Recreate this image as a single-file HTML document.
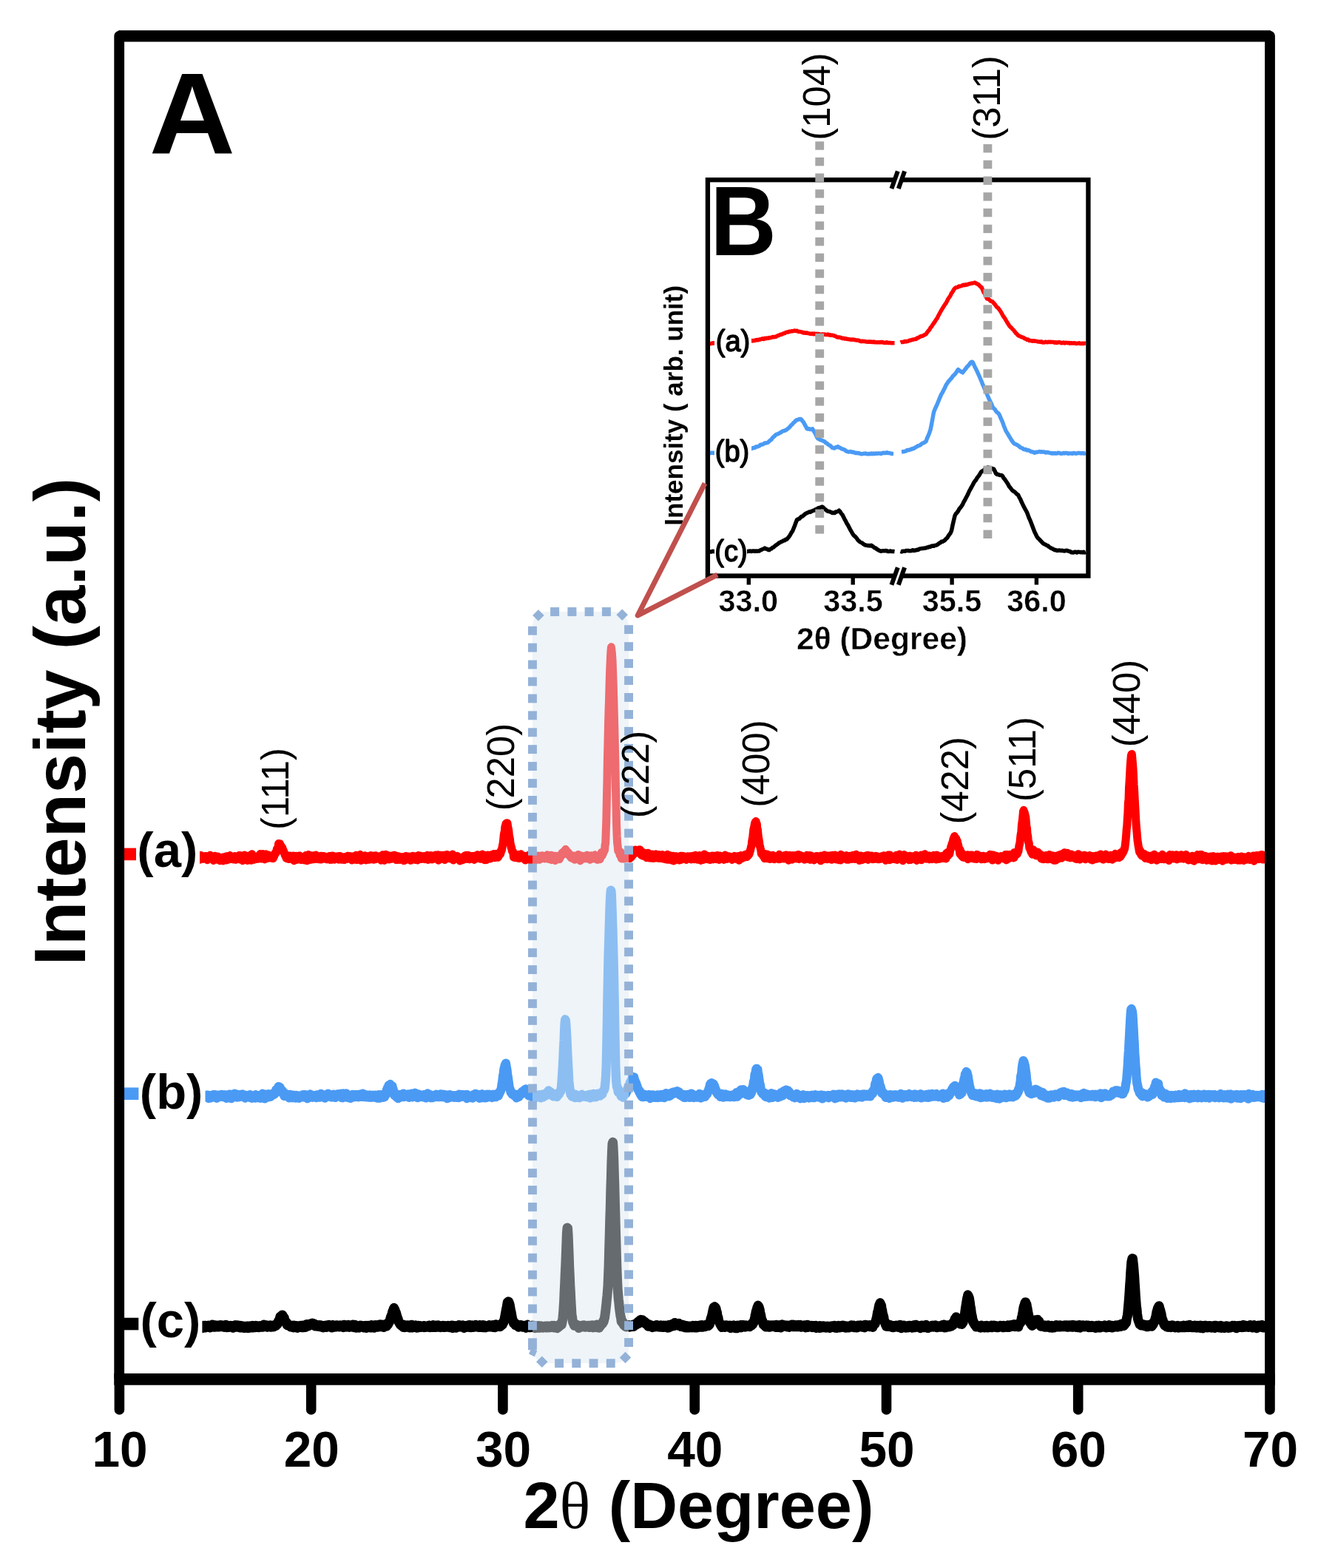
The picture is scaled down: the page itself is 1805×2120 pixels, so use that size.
<!DOCTYPE html>
<html lang="en">
<head>
<meta charset="utf-8">
<title>XRD patterns</title>
<style>
html,body{margin:0;padding:0;background:#fff;}
svg{display:block;}
text{fill:#000;}
</style>
</head>
<body>
<svg width="1805" height="2120" viewBox="0 0 1805 2120">
<rect width="1805" height="2120" fill="#fff"/>
<g id="curves">
<polyline transform="scale(1,1.12)" points="161.4,1035.02 162.0,1036.68 162.5,1036.53 163.1,1034.37 163.6,1034.65 164.2,1034.37 164.7,1035.75 165.3,1034.98 165.8,1036.00 166.4,1032.77 166.9,1037.05 167.5,1034.98 168.0,1035.96 168.6,1034.95 169.1,1034.66 169.7,1035.72 170.2,1036.19 170.8,1034.91 171.3,1034.99 171.9,1036.05 172.4,1034.11 173.0,1033.32 173.5,1035.72 174.1,1034.40 174.6,1032.85 175.2,1034.24 175.7,1034.68 176.3,1033.79 176.8,1033.43 177.4,1035.35 177.9,1036.44 178.5,1035.03 179.0,1034.41 179.6,1035.83 180.1,1036.26 180.7,1035.00 181.2,1036.06 181.8,1036.70 182.3,1035.15 182.9,1034.40 183.4,1035.86 184.0,1035.74 184.5,1036.80 185.1,1033.83 185.6,1034.61 186.2,1034.39 186.7,1033.27 187.3,1035.60 187.8,1036.10 188.4,1034.52 188.9,1037.18 189.5,1036.47 190.0,1036.23 190.6,1035.95 191.1,1036.64 191.7,1033.79 192.2,1036.22 192.8,1036.21 193.3,1033.25 193.9,1035.89 194.4,1035.15 195.0,1036.44 195.5,1034.91 196.1,1035.44 196.6,1035.90 197.2,1034.37 197.7,1036.22 198.3,1035.34 198.8,1036.09 199.4,1034.82 199.9,1036.83 200.5,1036.23 201.0,1035.26 201.6,1036.27 202.1,1037.06 202.7,1037.72 203.2,1033.52 203.8,1036.59 204.3,1036.07 204.9,1035.37 205.4,1034.23 206.0,1037.07 206.5,1033.92 207.1,1036.21 207.6,1037.13 208.2,1033.51 208.7,1035.14 209.3,1033.88 209.8,1035.83 210.4,1037.42 210.9,1038.06 211.5,1033.31 212.0,1034.82 212.6,1036.42 213.1,1037.52 213.7,1036.07 214.2,1034.62 214.8,1035.92 215.3,1035.53 215.9,1035.30 216.4,1034.64 217.0,1036.05 217.5,1035.95 218.1,1035.46 218.6,1035.30 219.2,1033.97 219.7,1034.98 220.3,1037.09 220.8,1035.35 221.4,1033.79 221.9,1037.26 222.5,1036.26 223.0,1038.24 223.6,1035.69 224.1,1035.03 224.7,1033.80 225.2,1037.27 225.8,1038.83 226.3,1034.60 226.9,1034.82 227.4,1036.38 228.0,1034.60 228.5,1035.30 229.1,1035.21 229.6,1035.89 230.2,1037.03 230.7,1035.69 231.3,1036.82 231.8,1035.15 232.4,1036.09 232.9,1033.02 233.5,1033.88 234.0,1036.69 234.6,1034.97 235.1,1036.44 235.7,1036.40 236.2,1037.38 236.8,1036.74 237.3,1037.01 237.9,1035.60 238.4,1034.87 239.0,1034.84 239.5,1035.15 240.1,1034.35 240.6,1035.08 241.2,1035.66 241.7,1036.09 242.3,1035.36 242.8,1033.39 243.4,1035.71 243.9,1036.08 244.5,1037.16 245.0,1036.54 245.6,1035.02 246.1,1034.92 246.7,1038.34 247.2,1036.78 247.8,1038.13 248.3,1038.51 248.9,1034.83 249.4,1036.34 250.0,1036.41 250.5,1036.51 251.1,1036.47 251.6,1036.02 252.2,1035.96 252.7,1033.84 253.3,1035.49 253.8,1034.74 254.4,1035.81 254.9,1035.04 255.5,1036.38 256.0,1036.60 256.6,1035.94 257.1,1035.93 257.7,1035.63 258.2,1034.93 258.8,1035.26 259.3,1034.82 259.9,1035.90 260.4,1035.41 261.0,1036.10 261.5,1033.69 262.1,1036.43 262.6,1034.35 263.2,1034.36 263.7,1035.01 264.3,1034.53 264.8,1035.57 265.4,1034.47 265.9,1033.82 266.5,1034.08 267.0,1036.76 267.6,1035.15 268.1,1033.61 268.7,1035.06 269.2,1033.08 269.8,1037.24 270.3,1033.07 270.9,1035.55 271.4,1035.61 272.0,1033.15 272.5,1035.38 273.1,1036.29 273.6,1035.66 274.2,1035.44 274.7,1036.34 275.3,1035.40 275.8,1035.65 276.4,1035.11 276.9,1036.10 277.5,1034.17 278.0,1036.37 278.6,1034.79 279.1,1034.10 279.7,1035.95 280.2,1037.65 280.8,1036.77 281.3,1034.97 281.9,1036.52 282.4,1035.12 283.0,1035.57 283.5,1035.87 284.1,1032.90 284.6,1036.08 285.2,1034.59 285.7,1035.04 286.3,1034.11 286.8,1034.09 287.4,1034.85 287.9,1037.10 288.5,1038.18 289.0,1036.11 289.6,1037.54 290.1,1035.89 290.7,1033.86 291.2,1036.48 291.8,1036.89 292.3,1035.83 292.9,1036.78 293.4,1037.16 294.0,1035.34 294.5,1034.55 295.1,1036.09 295.6,1036.08 296.2,1035.87 296.7,1037.52 297.3,1038.42 297.8,1035.72 298.4,1037.09 298.9,1037.36 299.5,1037.05 300.0,1037.45 300.6,1035.63 301.1,1037.01 301.7,1038.59 302.2,1037.04 302.8,1035.24 303.3,1036.74 303.9,1037.54 304.4,1036.40 305.0,1035.20 305.5,1037.81 306.1,1034.30 306.6,1036.46 307.2,1035.79 307.7,1034.29 308.3,1037.28 308.8,1036.17 309.4,1034.25 309.9,1036.43 310.5,1035.11 311.0,1033.25 311.6,1034.74 312.1,1035.91 312.7,1036.35 313.2,1035.73 313.8,1035.56 314.3,1036.06 314.9,1035.19 315.4,1036.89 316.0,1035.60 316.5,1035.77 317.1,1036.06 317.6,1034.05 318.2,1034.47 318.7,1037.26 319.3,1035.75 319.8,1034.97 320.4,1035.73 320.9,1034.69 321.5,1035.63 322.0,1034.43 322.6,1035.60 323.1,1033.27 323.7,1036.89 324.2,1034.57 324.8,1033.22 325.3,1034.91 325.9,1034.71 326.4,1035.35 327.0,1033.72 327.5,1035.63 328.1,1038.37 328.6,1033.51 329.2,1035.52 329.7,1034.69 330.3,1035.31 330.8,1032.79 331.4,1033.60 331.9,1035.60 332.5,1034.96 333.0,1037.04 333.6,1034.10 334.1,1035.19 334.7,1038.21 335.2,1033.99 335.8,1033.80 336.3,1034.87 336.9,1034.85 337.4,1035.94 338.0,1035.04 338.5,1033.93 339.1,1035.13 339.6,1038.11 340.2,1036.44 340.7,1031.59 341.3,1034.66 341.8,1033.73 342.4,1035.60 342.9,1034.59 343.5,1037.22 344.0,1035.96 344.6,1035.90 345.1,1035.01 345.7,1034.72 346.2,1035.18 346.8,1036.37 347.3,1035.41 347.9,1034.29 348.4,1036.32 349.0,1034.95 349.5,1034.60 350.1,1033.70 350.6,1033.97 351.2,1033.87 351.7,1031.41 352.3,1035.92 352.8,1035.34 353.4,1034.35 353.9,1035.92 354.5,1035.14 355.0,1035.05 355.6,1031.47 356.1,1034.26 356.7,1035.20 357.2,1036.53 357.8,1036.80 358.3,1036.27 358.9,1033.01 359.4,1031.70 360.0,1035.18 360.5,1034.52 361.1,1035.71 361.6,1034.37 362.2,1034.81 362.7,1032.67 363.3,1035.12 363.8,1034.00 364.4,1034.99 364.9,1035.12 365.5,1034.38 366.0,1034.88 366.6,1034.41 367.1,1035.30 367.7,1034.86 368.2,1033.39 368.8,1033.13 369.3,1035.77 369.9,1033.11 370.4,1034.04 371.0,1032.75 371.5,1030.90 372.1,1029.91 372.6,1030.11 373.2,1029.28 373.7,1028.62 374.3,1025.09 374.8,1024.70 375.4,1024.08 375.9,1024.99 376.5,1018.93 377.0,1021.49 377.6,1019.54 378.1,1020.33 378.7,1019.07 379.2,1020.38 379.8,1022.44 380.3,1021.77 380.9,1022.93 381.4,1024.06 382.0,1023.90 382.5,1026.80 383.1,1027.11 383.6,1027.56 384.2,1029.64 384.7,1030.41 385.3,1032.53 385.8,1032.32 386.4,1032.37 386.9,1035.40 387.5,1035.27 388.0,1035.99 388.6,1035.46 389.1,1034.79 389.7,1034.58 390.2,1034.90 390.8,1036.54 391.3,1035.58 391.9,1033.65 392.4,1035.50 393.0,1033.82 393.5,1035.83 394.1,1034.15 394.6,1034.09 395.2,1035.84 395.7,1035.61 396.3,1033.65 396.8,1036.67 397.4,1038.45 397.9,1033.90 398.5,1038.04 399.0,1034.91 399.6,1035.15 400.1,1035.55 400.7,1033.97 401.2,1037.41 401.8,1036.40 402.3,1034.85 402.9,1035.44 403.4,1033.89 404.0,1035.34 404.5,1036.94 405.1,1033.61 405.6,1035.20 406.2,1035.92 406.7,1037.03 407.3,1037.40 407.8,1035.13 408.4,1034.76 408.9,1036.24 409.5,1035.21 410.0,1035.26 410.6,1036.98 411.1,1037.73 411.7,1035.94 412.2,1035.35 412.8,1036.29 413.3,1033.21 413.9,1035.53 414.4,1034.21 415.0,1038.51 415.5,1036.41 416.1,1035.67 416.6,1035.23 417.2,1032.32 417.7,1036.34 418.3,1037.47 418.8,1034.51 419.4,1036.26 419.9,1036.29 420.5,1033.44 421.0,1036.53 421.6,1037.03 422.1,1035.61 422.7,1035.23 423.2,1036.28 423.8,1033.35 424.3,1035.38 424.9,1036.56 425.4,1033.68 426.0,1036.48 426.5,1034.73 427.1,1032.66 427.6,1035.13 428.2,1034.06 428.7,1035.68 429.3,1033.83 429.8,1036.61 430.4,1034.39 430.9,1035.77 431.5,1034.59 432.0,1034.93 432.6,1036.84 433.1,1035.62 433.7,1034.87 434.2,1033.81 434.8,1036.83 435.3,1036.31 435.9,1034.99 436.4,1035.71 437.0,1034.13 437.5,1034.16 438.1,1034.40 438.6,1035.88 439.2,1035.82 439.7,1034.53 440.3,1036.39 440.8,1036.46 441.4,1035.70 441.9,1036.79 442.5,1035.14 443.0,1035.37 443.6,1036.11 444.1,1035.48 444.7,1036.53 445.2,1033.98 445.8,1037.33 446.3,1034.58 446.9,1035.36 447.4,1033.85 448.0,1036.33 448.5,1037.18 449.1,1036.93 449.6,1036.64 450.2,1033.66 450.7,1034.63 451.3,1035.04 451.8,1034.46 452.4,1037.03 452.9,1035.87 453.5,1035.61 454.0,1036.26 454.6,1034.46 455.1,1034.52 455.7,1034.56 456.2,1036.29 456.8,1036.10 457.3,1036.41 457.9,1037.04 458.4,1034.00 459.0,1035.00 459.5,1035.89 460.1,1034.03 460.6,1035.05 461.2,1036.99 461.7,1037.11 462.3,1037.08 462.8,1035.80 463.4,1035.48 463.9,1037.10 464.5,1035.29 465.0,1036.19 465.6,1037.43 466.1,1035.32 466.7,1035.02 467.2,1035.78 467.8,1036.54 468.3,1036.40 468.9,1036.00 469.4,1036.51 470.0,1033.80 470.5,1034.71 471.1,1035.98 471.6,1034.60 472.2,1034.07 472.7,1034.23 473.3,1034.58 473.8,1035.49 474.4,1034.42 474.9,1035.98 475.5,1037.80 476.0,1035.48 476.6,1037.25 477.1,1036.00 477.7,1034.23 478.2,1035.29 478.8,1034.38 479.3,1036.55 479.9,1034.14 480.4,1037.22 481.0,1036.28 481.5,1033.01 482.1,1036.51 482.6,1037.46 483.2,1034.52 483.7,1036.72 484.3,1033.23 484.8,1035.78 485.4,1033.38 485.9,1036.04 486.5,1033.19 487.0,1032.17 487.6,1035.90 488.1,1038.25 488.7,1034.63 489.2,1036.40 489.8,1035.49 490.3,1034.94 490.9,1036.10 491.4,1037.37 492.0,1033.77 492.5,1036.01 493.1,1035.73 493.6,1033.52 494.2,1037.31 494.7,1037.72 495.3,1034.09 495.8,1037.45 496.4,1035.34 496.9,1035.06 497.5,1037.14 498.0,1035.54 498.6,1035.65 499.1,1037.14 499.7,1036.85 500.2,1036.35 500.8,1033.48 501.3,1033.26 501.9,1036.62 502.4,1034.05 503.0,1035.39 503.5,1033.86 504.1,1034.97 504.6,1033.59 505.2,1037.22 505.7,1033.91 506.3,1035.02 506.8,1034.93 507.4,1036.67 507.9,1033.38 508.5,1035.11 509.0,1034.89 509.6,1035.80 510.1,1035.73 510.7,1034.55 511.2,1035.42 511.8,1034.65 512.3,1035.70 512.9,1034.98 513.4,1034.28 514.0,1035.07 514.5,1035.57 515.1,1037.95 515.6,1034.51 516.2,1035.51 516.7,1036.96 517.3,1032.53 517.8,1032.96 518.4,1033.65 518.9,1035.00 519.5,1038.20 520.0,1035.64 520.6,1036.67 521.1,1034.88 521.7,1032.08 522.2,1032.28 522.8,1036.44 523.3,1035.41 523.9,1033.56 524.4,1036.58 525.0,1033.26 525.5,1036.61 526.1,1037.01 526.6,1034.24 527.2,1033.82 527.7,1036.26 528.3,1033.84 528.8,1036.29 529.4,1033.72 529.9,1036.23 530.5,1035.34 531.0,1034.69 531.6,1034.11 532.1,1035.54 532.7,1032.88 533.2,1034.90 533.8,1034.76 534.3,1036.10 534.9,1033.69 535.4,1037.40 536.0,1034.88 536.5,1033.86 537.1,1037.02 537.6,1037.38 538.2,1035.07 538.7,1034.20 539.3,1035.34 539.8,1034.47 540.4,1034.95 540.9,1037.30 541.5,1035.85 542.0,1035.55 542.6,1035.81 543.1,1035.31 543.7,1036.45 544.2,1036.50 544.8,1034.95 545.3,1035.55 545.9,1038.45 546.4,1035.97 547.0,1035.22 547.5,1038.02 548.1,1035.48 548.6,1034.10 549.2,1036.33 549.7,1034.37 550.3,1034.88 550.8,1035.92 551.4,1035.36 551.9,1034.57 552.5,1034.85 553.0,1034.81 553.6,1037.01 554.1,1034.66 554.7,1034.86 555.2,1038.13 555.8,1034.90 556.3,1037.46 556.9,1037.25 557.4,1035.43 558.0,1033.83 558.5,1036.17 559.1,1036.43 559.6,1036.79 560.2,1035.66 560.7,1037.07 561.3,1037.30 561.8,1034.23 562.4,1037.33 562.9,1035.75 563.5,1034.82 564.0,1035.12 564.6,1037.85 565.1,1036.73 565.7,1033.25 566.2,1035.59 566.8,1035.30 567.3,1035.24 567.9,1034.81 568.4,1033.63 569.0,1036.52 569.5,1034.26 570.1,1034.96 570.6,1034.66 571.2,1034.49 571.7,1036.32 572.3,1035.87 572.8,1034.54 573.4,1034.19 573.9,1034.77 574.5,1036.56 575.0,1035.50 575.6,1035.63 576.1,1034.92 576.7,1035.00 577.2,1035.58 577.8,1033.00 578.3,1037.31 578.9,1034.30 579.4,1034.56 580.0,1036.94 580.5,1035.53 581.1,1035.29 581.6,1034.49 582.2,1033.26 582.7,1035.43 583.3,1036.68 583.8,1034.05 584.4,1036.86 584.9,1033.74 585.5,1034.21 586.0,1035.75 586.6,1035.10 587.1,1035.96 587.7,1034.15 588.2,1033.78 588.8,1032.72 589.3,1033.53 589.9,1033.68 590.4,1033.23 591.0,1035.38 591.5,1034.16 592.1,1032.49 592.6,1038.06 593.2,1033.90 593.7,1033.36 594.3,1036.47 594.8,1036.36 595.4,1033.45 595.9,1033.04 596.5,1033.62 597.0,1036.27 597.6,1034.45 598.1,1033.82 598.7,1034.78 599.2,1036.31 599.8,1033.05 600.3,1034.29 600.9,1033.03 601.4,1037.46 602.0,1037.04 602.5,1035.98 603.1,1034.64 603.6,1035.65 604.2,1032.22 604.7,1035.21 605.3,1033.22 605.8,1033.25 606.4,1034.04 606.9,1034.51 607.5,1035.68 608.0,1035.86 608.6,1035.33 609.1,1033.84 609.7,1035.89 610.2,1034.91 610.8,1036.56 611.3,1033.96 611.9,1031.87 612.4,1034.55 613.0,1037.85 613.5,1035.77 614.1,1034.96 614.6,1036.33 615.2,1035.87 615.7,1035.84 616.3,1034.64 616.8,1035.39 617.4,1035.57 617.9,1034.53 618.5,1033.96 619.0,1035.55 619.6,1036.61 620.1,1036.22 620.7,1036.05 621.2,1036.08 621.8,1038.70 622.3,1035.82 622.9,1036.81 623.4,1037.98 624.0,1035.57 624.5,1035.81 625.1,1036.76 625.6,1037.53 626.2,1035.79 626.7,1035.82 627.3,1035.46 627.8,1033.81 628.4,1036.69 628.9,1034.95 629.5,1033.09 630.0,1035.03 630.6,1033.02 631.1,1033.90 631.7,1035.15 632.2,1033.95 632.8,1036.41 633.3,1033.21 633.9,1035.35 634.4,1035.69 635.0,1036.79 635.5,1036.09 636.1,1035.21 636.6,1034.99 637.2,1034.79 637.7,1036.25 638.3,1033.98 638.8,1035.43 639.4,1034.63 639.9,1035.02 640.5,1034.36 641.0,1037.33 641.6,1033.81 642.1,1034.92 642.7,1034.92 643.2,1035.31 643.8,1035.08 644.3,1035.02 644.9,1035.69 645.4,1032.55 646.0,1034.45 646.5,1032.90 647.1,1034.74 647.6,1032.97 648.2,1033.25 648.7,1034.38 649.3,1036.21 649.8,1035.19 650.4,1034.84 650.9,1036.23 651.5,1033.29 652.0,1031.86 652.6,1033.95 653.1,1034.14 653.7,1036.03 654.2,1037.16 654.8,1032.82 655.3,1037.58 655.9,1036.44 656.4,1035.53 657.0,1034.94 657.5,1037.51 658.1,1034.58 658.6,1033.88 659.2,1034.64 659.7,1032.75 660.3,1035.04 660.8,1034.31 661.4,1034.85 661.9,1034.87 662.5,1033.09 663.0,1036.04 663.6,1033.11 664.1,1035.47 664.7,1032.35 665.2,1034.78 665.8,1033.27 666.3,1034.32 666.9,1033.42 667.4,1031.47 668.0,1032.78 668.5,1034.22 669.1,1034.88 669.6,1032.21 670.2,1031.34 670.7,1032.83 671.3,1033.58 671.8,1032.94 672.4,1032.59 672.9,1034.49 673.5,1034.41 674.0,1033.83 674.6,1031.34 675.1,1032.11 675.7,1031.11 676.2,1028.72 676.8,1030.54 677.3,1028.21 677.9,1025.85 678.4,1026.26 679.0,1023.14 679.5,1020.60 680.1,1018.05 680.6,1014.19 681.2,1008.26 681.7,1005.81 682.3,1004.05 682.8,998.55 683.4,996.69 683.9,994.90 684.5,994.77 685.0,994.11 685.6,994.13 686.1,994.25 686.7,997.91 687.2,1000.34 687.8,1002.80 688.3,1008.23 688.9,1010.74 689.4,1012.67 690.0,1018.46 690.5,1019.55 691.1,1023.27 691.6,1022.95 692.2,1026.81 692.7,1027.29 693.3,1028.61 693.8,1028.52 694.4,1034.44 694.9,1032.24 695.5,1033.24 696.0,1034.73 696.6,1033.50 697.1,1034.53 697.7,1032.37 698.2,1034.46 698.8,1033.81 699.3,1035.05 699.9,1034.73 700.4,1032.83 701.0,1032.31 701.5,1033.40 702.1,1035.64 702.6,1035.29 703.2,1035.29 703.7,1032.30 704.3,1031.59 704.8,1034.09 705.4,1034.48 705.9,1034.16 706.5,1035.37 707.0,1034.73 707.6,1033.47 708.1,1033.87 708.7,1035.16 709.2,1035.08 709.8,1034.90 710.3,1037.83 710.9,1034.68 711.4,1035.16 712.0,1033.78 712.5,1034.59 713.1,1035.70 713.6,1035.77 714.2,1034.87 714.7,1035.57 715.3,1035.16 715.8,1032.75 716.4,1031.86 716.9,1038.00 717.5,1036.16 718.0,1035.06 718.6,1032.96 719.1,1033.55 719.7,1036.84 720.2,1031.90 720.8,1034.76 721.3,1036.25 721.9,1035.35 722.4,1036.12 723.0,1035.02 723.5,1038.18 724.1,1033.90 724.6,1033.49 725.2,1035.54 725.7,1036.99 726.3,1035.13 726.8,1036.52 727.4,1034.54 727.9,1033.73 728.5,1036.96 729.0,1037.18 729.6,1037.13 730.1,1034.67 730.7,1033.78 731.2,1033.76 731.8,1034.94 732.3,1035.95 732.9,1035.86 733.4,1033.43 734.0,1035.47 734.5,1035.25 735.1,1035.34 735.6,1035.19 736.2,1034.97 736.7,1035.96 737.3,1035.38 737.8,1035.50 738.4,1034.35 738.9,1035.71 739.5,1035.06 740.0,1032.56 740.6,1035.81 741.1,1034.87 741.7,1036.36 742.2,1034.99 742.8,1035.07 743.3,1035.45 743.9,1035.17 744.4,1034.62 745.0,1032.93 745.5,1037.47 746.1,1033.18 746.6,1034.72 747.2,1035.96 747.7,1035.61 748.3,1035.83 748.8,1036.07 749.4,1036.68 749.9,1035.46 750.5,1038.32 751.0,1033.79 751.6,1035.32 752.1,1034.55 752.7,1034.29 753.2,1035.29 753.8,1036.70 754.3,1033.93 754.9,1033.84 755.4,1035.52 756.0,1035.15 756.5,1036.73 757.1,1035.33 757.6,1034.04 758.2,1032.98 758.7,1033.22 759.3,1032.21 759.8,1030.14 760.4,1031.21 760.9,1030.28 761.5,1029.49 762.0,1028.54 762.6,1030.52 763.1,1028.71 763.7,1028.58 764.2,1026.40 764.8,1025.84 765.3,1026.94 765.9,1027.97 766.4,1027.77 767.0,1028.61 767.5,1030.77 768.1,1030.68 768.6,1029.80 769.2,1031.19 769.7,1031.54 770.3,1033.15 770.8,1031.96 771.4,1033.62 771.9,1035.05 772.5,1034.51 773.0,1033.55 773.6,1034.11 774.1,1035.17 774.7,1035.73 775.2,1036.26 775.8,1035.10 776.3,1033.69 776.9,1037.16 777.4,1035.79 778.0,1035.93 778.5,1035.82 779.1,1034.14 779.6,1035.04 780.2,1035.77 780.7,1036.74 781.3,1035.52 781.8,1032.19 782.4,1035.14 782.9,1035.88 783.5,1037.05 784.0,1036.32 784.6,1038.54 785.1,1037.20 785.7,1037.10 786.2,1036.58 786.8,1033.67 787.3,1036.45 787.9,1036.13 788.4,1034.72 789.0,1036.10 789.5,1035.88 790.1,1034.77 790.6,1035.19 791.2,1035.01 791.7,1035.62 792.3,1034.79 792.8,1035.99 793.4,1032.90 793.9,1034.94 794.5,1033.18 795.0,1034.67 795.6,1035.91 796.1,1035.28 796.7,1035.11 797.2,1035.32 797.8,1037.19 798.3,1033.83 798.9,1036.31 799.4,1033.30 800.0,1034.59 800.5,1035.36 801.1,1034.07 801.6,1035.38 802.2,1036.01 802.7,1033.59 803.3,1034.97 803.8,1034.57 804.4,1032.60 804.9,1034.77 805.5,1033.99 806.0,1036.64 806.6,1033.86 807.1,1037.05 807.7,1034.24 808.2,1037.31 808.8,1035.55 809.3,1035.42 809.9,1035.83 810.4,1035.90 811.0,1036.41 811.5,1036.57 812.1,1033.56 812.6,1031.87 813.2,1029.54 813.7,1031.62 814.3,1032.36 814.8,1031.18 815.4,1030.15 815.9,1028.84 816.5,1027.65 817.0,1026.96 817.6,1025.96 818.1,1020.14 818.7,1017.77 819.2,1005.25 819.8,990.84 820.3,968.17 820.9,943.33 821.4,917.60 822.0,894.57 822.5,875.01 823.1,855.22 823.6,842.52 824.2,823.07 824.7,808.41 825.3,796.62 825.8,787.58 826.4,781.68 826.9,784.66 827.5,789.99 828.0,796.52 828.6,810.64 829.1,823.68 829.7,841.16 830.2,858.96 830.8,878.07 831.3,898.98 831.9,920.77 832.4,947.80 833.0,971.15 833.5,993.65 834.1,1009.44 834.6,1017.48 835.2,1021.49 835.7,1026.84 836.3,1026.43 836.8,1027.81 837.4,1028.36 837.9,1031.51 838.5,1030.95 839.0,1029.04 839.6,1033.46 840.1,1035.81 840.7,1036.10 841.2,1033.68 841.8,1034.88 842.3,1035.64 842.9,1036.23 843.4,1035.19 844.0,1033.73 844.5,1035.98 845.1,1035.74 845.6,1033.24 846.2,1034.37 846.7,1035.08 847.3,1034.64 847.8,1035.19 848.4,1035.41 848.9,1034.96 849.5,1034.00 850.0,1032.29 850.6,1034.56 851.1,1035.34 851.7,1035.84 852.2,1033.08 852.8,1032.81 853.3,1034.38 853.9,1034.06 854.4,1032.37 855.0,1032.49 855.5,1030.29 856.1,1031.60 856.6,1029.47 857.2,1029.94 857.7,1029.60 858.3,1028.80 858.8,1026.40 859.4,1027.68 859.9,1028.84 860.5,1028.09 861.0,1027.45 861.6,1028.32 862.1,1028.53 862.7,1028.67 863.2,1026.60 863.8,1027.69 864.3,1027.35 864.9,1026.83 865.4,1026.25 866.0,1028.28 866.5,1027.61 867.1,1031.72 867.6,1029.25 868.2,1029.44 868.7,1029.58 869.3,1032.77 869.8,1029.59 870.4,1030.90 870.9,1030.45 871.5,1031.56 872.0,1031.95 872.6,1033.62 873.1,1030.72 873.7,1032.68 874.2,1034.92 874.8,1032.44 875.3,1033.01 875.9,1032.26 876.4,1030.26 877.0,1033.46 877.5,1035.16 878.1,1033.18 878.6,1031.53 879.2,1034.23 879.7,1034.05 880.3,1035.25 880.8,1035.17 881.4,1033.73 881.9,1034.60 882.5,1031.88 883.0,1035.55 883.6,1034.41 884.1,1035.55 884.7,1035.55 885.2,1033.88 885.8,1034.07 886.3,1033.18 886.9,1031.70 887.4,1034.14 888.0,1034.53 888.5,1033.03 889.1,1035.31 889.6,1034.59 890.2,1035.07 890.7,1033.58 891.3,1032.38 891.8,1035.60 892.4,1035.43 892.9,1034.57 893.5,1034.22 894.0,1034.44 894.6,1034.65 895.1,1034.23 895.7,1032.39 896.2,1035.92 896.8,1033.11 897.3,1034.60 897.9,1034.68 898.4,1035.42 899.0,1033.12 899.5,1036.69 900.1,1036.04 900.6,1036.22 901.2,1036.88 901.7,1034.34 902.3,1032.14 902.8,1035.83 903.4,1037.09 903.9,1036.94 904.5,1034.86 905.0,1035.45 905.6,1035.96 906.1,1033.39 906.7,1034.85 907.2,1034.93 907.8,1037.74 908.3,1034.99 908.9,1037.80 909.4,1035.90 910.0,1033.78 910.5,1038.64 911.1,1034.65 911.6,1036.63 912.2,1037.99 912.7,1035.18 913.3,1034.31 913.8,1037.14 914.4,1035.92 914.9,1034.30 915.5,1034.48 916.0,1035.33 916.6,1037.02 917.1,1035.45 917.7,1036.62 918.2,1037.87 918.8,1037.38 919.3,1037.59 919.9,1037.32 920.4,1033.77 921.0,1037.30 921.5,1036.18 922.1,1035.61 922.6,1034.40 923.2,1033.76 923.7,1034.36 924.3,1035.71 924.8,1034.27 925.4,1034.71 925.9,1034.95 926.5,1036.55 927.0,1035.34 927.6,1035.52 928.1,1037.36 928.7,1035.29 929.2,1036.44 929.8,1034.36 930.3,1036.09 930.9,1035.82 931.4,1035.89 932.0,1035.07 932.5,1034.35 933.1,1035.24 933.6,1035.02 934.2,1036.88 934.7,1036.71 935.3,1034.05 935.8,1036.33 936.4,1034.93 936.9,1036.08 937.5,1034.89 938.0,1033.64 938.6,1036.73 939.1,1036.01 939.7,1033.90 940.2,1033.05 940.8,1034.73 941.3,1033.91 941.9,1034.91 942.4,1036.13 943.0,1037.17 943.5,1034.87 944.1,1037.03 944.6,1036.74 945.2,1034.73 945.7,1033.17 946.3,1036.31 946.8,1035.99 947.4,1038.15 947.9,1036.98 948.5,1036.16 949.0,1037.27 949.6,1033.84 950.1,1035.37 950.7,1034.77 951.2,1037.28 951.8,1035.79 952.3,1031.81 952.9,1036.77 953.4,1033.91 954.0,1036.02 954.5,1034.45 955.1,1035.36 955.6,1035.85 956.2,1035.30 956.7,1033.87 957.3,1036.82 957.8,1035.57 958.4,1035.06 958.9,1035.96 959.5,1034.41 960.0,1037.44 960.6,1035.37 961.1,1035.55 961.7,1035.53 962.2,1033.96 962.8,1033.64 963.3,1035.38 963.9,1035.55 964.4,1036.79 965.0,1035.68 965.5,1033.76 966.1,1035.78 966.6,1036.16 967.2,1036.38 967.7,1035.54 968.3,1033.60 968.8,1036.58 969.4,1034.22 969.9,1035.85 970.5,1033.17 971.0,1036.10 971.6,1034.16 972.1,1036.50 972.7,1037.35 973.2,1036.61 973.8,1033.69 974.3,1033.97 974.9,1034.06 975.4,1035.98 976.0,1035.58 976.5,1035.34 977.1,1035.53 977.6,1035.87 978.2,1035.96 978.7,1037.25 979.3,1035.07 979.8,1035.39 980.4,1032.81 980.9,1033.47 981.5,1034.26 982.0,1033.64 982.6,1035.39 983.1,1036.41 983.7,1034.56 984.2,1034.50 984.8,1034.46 985.3,1035.26 985.9,1034.41 986.4,1035.62 987.0,1035.45 987.5,1035.50 988.1,1036.02 988.6,1035.10 989.2,1035.23 989.7,1037.24 990.3,1034.98 990.8,1036.03 991.4,1035.09 991.9,1034.44 992.5,1034.43 993.0,1033.96 993.6,1034.99 994.1,1034.21 994.7,1034.42 995.2,1036.47 995.8,1034.76 996.3,1036.34 996.9,1035.23 997.4,1035.96 998.0,1034.10 998.5,1035.04 999.1,1038.10 999.6,1035.86 1000.2,1036.06 1000.7,1035.08 1001.3,1035.84 1001.8,1033.29 1002.4,1033.66 1002.9,1035.23 1003.5,1035.68 1004.0,1034.11 1004.6,1034.34 1005.1,1034.08 1005.7,1034.24 1006.2,1032.92 1006.8,1032.56 1007.3,1034.16 1007.9,1031.99 1008.4,1032.82 1009.0,1033.06 1009.5,1032.38 1010.1,1033.74 1010.6,1032.56 1011.2,1032.60 1011.7,1030.89 1012.3,1030.53 1012.8,1031.20 1013.4,1029.88 1013.9,1027.45 1014.5,1026.78 1015.0,1024.51 1015.6,1022.09 1016.1,1021.16 1016.7,1015.62 1017.2,1013.33 1017.8,1009.85 1018.3,1005.47 1018.9,1000.82 1019.4,999.91 1020.0,996.56 1020.5,994.14 1021.1,992.80 1021.6,992.46 1022.2,991.98 1022.7,995.06 1023.3,994.81 1023.8,999.99 1024.4,1001.49 1024.9,1006.44 1025.5,1011.31 1026.0,1013.52 1026.6,1016.45 1027.1,1020.61 1027.7,1022.23 1028.2,1024.31 1028.8,1026.23 1029.3,1030.19 1029.9,1030.42 1030.4,1031.22 1031.0,1029.94 1031.5,1032.83 1032.1,1030.93 1032.6,1033.51 1033.2,1031.80 1033.7,1035.85 1034.3,1031.48 1034.8,1035.24 1035.4,1034.81 1035.9,1031.68 1036.5,1033.66 1037.0,1035.83 1037.6,1035.49 1038.1,1032.04 1038.7,1033.49 1039.2,1032.71 1039.8,1032.92 1040.3,1033.42 1040.9,1036.54 1041.4,1034.42 1042.0,1034.00 1042.5,1033.90 1043.1,1035.17 1043.6,1035.23 1044.2,1033.24 1044.7,1036.24 1045.3,1033.07 1045.8,1034.10 1046.4,1035.03 1046.9,1036.62 1047.5,1034.06 1048.0,1034.86 1048.6,1036.15 1049.1,1035.31 1049.7,1035.95 1050.2,1035.85 1050.8,1034.89 1051.3,1035.36 1051.9,1035.73 1052.4,1034.56 1053.0,1036.60 1053.5,1032.12 1054.1,1033.46 1054.6,1036.43 1055.2,1035.16 1055.7,1033.83 1056.3,1035.11 1056.8,1036.00 1057.4,1033.95 1057.9,1035.61 1058.5,1034.51 1059.0,1034.52 1059.6,1034.58 1060.1,1036.06 1060.7,1033.28 1061.2,1034.22 1061.8,1035.51 1062.3,1033.16 1062.9,1032.71 1063.4,1035.40 1064.0,1034.70 1064.5,1034.52 1065.1,1034.89 1065.6,1033.50 1066.2,1038.05 1066.7,1033.50 1067.3,1034.19 1067.8,1032.96 1068.4,1034.23 1068.9,1036.66 1069.5,1034.78 1070.0,1035.50 1070.6,1034.16 1071.1,1037.04 1071.7,1034.98 1072.2,1033.22 1072.8,1035.75 1073.3,1034.33 1073.9,1035.55 1074.4,1034.97 1075.0,1035.13 1075.5,1034.98 1076.1,1033.68 1076.6,1032.94 1077.2,1036.04 1077.7,1034.65 1078.3,1035.19 1078.8,1034.25 1079.4,1032.31 1079.9,1033.24 1080.5,1036.59 1081.0,1033.87 1081.6,1034.37 1082.1,1033.02 1082.7,1034.20 1083.2,1034.40 1083.8,1034.59 1084.3,1034.78 1084.9,1034.08 1085.4,1034.16 1086.0,1034.87 1086.5,1035.30 1087.1,1034.72 1087.6,1037.09 1088.2,1035.17 1088.7,1035.13 1089.3,1034.11 1089.8,1036.23 1090.4,1033.67 1090.9,1032.94 1091.5,1033.75 1092.0,1035.75 1092.6,1033.55 1093.1,1036.61 1093.7,1034.97 1094.2,1033.11 1094.8,1034.73 1095.3,1037.26 1095.9,1033.96 1096.4,1033.41 1097.0,1035.69 1097.5,1036.69 1098.1,1036.34 1098.6,1034.67 1099.2,1035.32 1099.7,1035.50 1100.3,1036.57 1100.8,1037.80 1101.4,1034.98 1101.9,1036.75 1102.5,1034.71 1103.0,1035.88 1103.6,1033.99 1104.1,1034.20 1104.7,1035.69 1105.2,1034.06 1105.8,1036.29 1106.3,1034.50 1106.9,1035.30 1107.4,1035.11 1108.0,1034.79 1108.5,1035.38 1109.1,1036.56 1109.6,1038.56 1110.2,1033.73 1110.7,1035.59 1111.3,1035.00 1111.8,1034.08 1112.4,1035.58 1112.9,1034.13 1113.5,1035.13 1114.0,1036.78 1114.6,1032.70 1115.1,1035.54 1115.7,1035.79 1116.2,1034.04 1116.8,1035.89 1117.3,1035.68 1117.9,1034.80 1118.4,1036.76 1119.0,1033.61 1119.5,1036.05 1120.1,1034.95 1120.6,1033.93 1121.2,1035.03 1121.7,1034.81 1122.3,1036.28 1122.8,1033.38 1123.4,1035.01 1123.9,1034.69 1124.5,1037.22 1125.0,1033.86 1125.6,1036.58 1126.1,1033.07 1126.7,1035.69 1127.2,1035.09 1127.8,1035.74 1128.3,1034.39 1128.9,1032.83 1129.4,1033.33 1130.0,1036.90 1130.5,1035.52 1131.1,1034.16 1131.6,1036.36 1132.2,1034.29 1132.7,1034.29 1133.3,1033.69 1133.8,1036.67 1134.4,1037.65 1134.9,1033.98 1135.5,1035.54 1136.0,1036.39 1136.6,1037.81 1137.1,1032.16 1137.7,1035.33 1138.2,1035.95 1138.8,1033.29 1139.3,1035.64 1139.9,1035.37 1140.4,1036.02 1141.0,1034.38 1141.5,1035.62 1142.1,1034.33 1142.6,1035.84 1143.2,1035.27 1143.7,1034.60 1144.3,1033.29 1144.8,1037.12 1145.4,1036.43 1145.9,1036.14 1146.5,1034.20 1147.0,1034.59 1147.6,1037.11 1148.1,1035.95 1148.7,1033.94 1149.2,1035.06 1149.8,1035.17 1150.3,1034.74 1150.9,1033.80 1151.4,1036.55 1152.0,1035.73 1152.5,1034.76 1153.1,1033.05 1153.6,1034.30 1154.2,1035.04 1154.7,1036.14 1155.3,1034.60 1155.8,1036.47 1156.4,1035.27 1156.9,1034.17 1157.5,1031.97 1158.0,1033.66 1158.6,1033.28 1159.1,1034.97 1159.7,1035.59 1160.2,1036.92 1160.8,1035.18 1161.3,1033.76 1161.9,1038.16 1162.4,1035.62 1163.0,1034.92 1163.5,1034.93 1164.1,1033.58 1164.6,1036.08 1165.2,1035.76 1165.7,1037.30 1166.3,1036.70 1166.8,1036.42 1167.4,1036.92 1167.9,1035.01 1168.5,1034.82 1169.0,1035.32 1169.6,1033.84 1170.1,1035.23 1170.7,1035.01 1171.2,1036.27 1171.8,1035.43 1172.3,1033.08 1172.9,1035.52 1173.4,1037.26 1174.0,1033.18 1174.5,1034.51 1175.1,1035.46 1175.6,1033.76 1176.2,1034.72 1176.7,1035.46 1177.3,1033.72 1177.8,1035.72 1178.4,1035.85 1178.9,1033.73 1179.5,1035.33 1180.0,1036.63 1180.6,1035.04 1181.1,1035.79 1181.7,1036.03 1182.2,1034.92 1182.8,1036.42 1183.3,1035.66 1183.9,1033.92 1184.4,1035.80 1185.0,1036.21 1185.5,1036.12 1186.1,1034.29 1186.6,1035.65 1187.2,1036.77 1187.7,1035.33 1188.3,1036.50 1188.8,1036.63 1189.4,1034.94 1189.9,1035.80 1190.5,1034.59 1191.0,1036.27 1191.6,1034.81 1192.1,1034.21 1192.7,1034.85 1193.2,1034.78 1193.8,1035.33 1194.3,1035.41 1194.9,1033.36 1195.4,1033.98 1196.0,1035.25 1196.5,1035.42 1197.1,1034.93 1197.6,1038.11 1198.2,1036.25 1198.7,1034.76 1199.3,1035.78 1199.8,1036.55 1200.4,1035.35 1200.9,1032.72 1201.5,1035.04 1202.0,1034.99 1202.6,1037.60 1203.1,1032.65 1203.7,1036.89 1204.2,1034.78 1204.8,1036.15 1205.3,1034.63 1205.9,1035.22 1206.4,1036.43 1207.0,1035.13 1207.5,1036.35 1208.1,1034.95 1208.6,1034.54 1209.2,1034.79 1209.7,1034.45 1210.3,1034.94 1210.8,1036.80 1211.4,1033.65 1211.9,1033.04 1212.5,1035.11 1213.0,1037.24 1213.6,1036.46 1214.1,1036.81 1214.7,1036.73 1215.2,1034.27 1215.8,1035.34 1216.3,1031.93 1216.9,1034.45 1217.4,1035.98 1218.0,1033.27 1218.5,1032.63 1219.1,1033.58 1219.6,1035.47 1220.2,1036.65 1220.7,1038.41 1221.3,1036.97 1221.8,1033.28 1222.4,1032.27 1222.9,1035.35 1223.5,1036.49 1224.0,1033.13 1224.6,1034.50 1225.1,1034.59 1225.7,1035.19 1226.2,1034.91 1226.8,1035.78 1227.3,1036.45 1227.9,1035.22 1228.4,1036.06 1229.0,1037.61 1229.5,1033.83 1230.1,1033.80 1230.6,1035.74 1231.2,1037.41 1231.7,1035.30 1232.3,1036.45 1232.8,1034.69 1233.4,1036.22 1233.9,1034.28 1234.5,1035.91 1235.0,1035.55 1235.6,1035.54 1236.1,1036.77 1236.7,1036.38 1237.2,1034.29 1237.8,1036.14 1238.3,1032.90 1238.9,1036.26 1239.4,1038.15 1240.0,1035.68 1240.5,1035.65 1241.1,1035.09 1241.6,1036.05 1242.2,1034.44 1242.7,1035.84 1243.3,1034.66 1243.8,1034.47 1244.4,1035.15 1244.9,1034.92 1245.5,1032.82 1246.0,1037.58 1246.6,1035.16 1247.1,1032.86 1247.7,1036.32 1248.2,1034.93 1248.8,1035.22 1249.3,1035.84 1249.9,1033.83 1250.4,1031.54 1251.0,1034.81 1251.5,1035.23 1252.1,1036.18 1252.6,1033.97 1253.2,1034.58 1253.7,1035.40 1254.3,1034.50 1254.8,1034.58 1255.4,1035.20 1255.9,1033.63 1256.5,1036.84 1257.0,1033.70 1257.6,1034.89 1258.1,1034.42 1258.7,1033.94 1259.2,1035.48 1259.8,1036.07 1260.3,1036.61 1260.9,1035.51 1261.4,1034.21 1262.0,1035.86 1262.5,1032.99 1263.1,1034.87 1263.6,1035.48 1264.2,1035.54 1264.7,1033.40 1265.3,1032.98 1265.8,1036.94 1266.4,1034.23 1266.9,1032.82 1267.5,1033.33 1268.0,1034.90 1268.6,1036.36 1269.1,1034.89 1269.7,1036.39 1270.2,1035.17 1270.8,1035.48 1271.3,1036.11 1271.9,1034.41 1272.4,1035.24 1273.0,1034.37 1273.5,1034.05 1274.1,1035.64 1274.6,1033.77 1275.2,1034.86 1275.7,1033.73 1276.3,1034.55 1276.8,1033.93 1277.4,1035.87 1277.9,1034.48 1278.5,1034.32 1279.0,1036.09 1279.6,1030.43 1280.1,1032.06 1280.7,1029.73 1281.2,1032.56 1281.8,1032.53 1282.3,1032.07 1282.9,1030.76 1283.4,1028.36 1284.0,1030.47 1284.5,1027.36 1285.1,1025.21 1285.6,1022.57 1286.2,1022.83 1286.7,1019.97 1287.3,1018.27 1287.8,1017.37 1288.4,1015.76 1288.9,1012.99 1289.5,1014.35 1290.0,1010.61 1290.6,1009.90 1291.1,1011.53 1291.7,1011.57 1292.2,1012.16 1292.8,1012.57 1293.3,1014.43 1293.9,1015.17 1294.4,1015.45 1295.0,1020.13 1295.5,1019.65 1296.1,1022.31 1296.6,1025.10 1297.2,1025.70 1297.7,1030.26 1298.3,1026.50 1298.8,1028.39 1299.4,1030.37 1299.9,1032.75 1300.5,1031.41 1301.0,1030.49 1301.6,1034.16 1302.1,1031.94 1302.7,1033.14 1303.2,1034.72 1303.8,1032.97 1304.3,1033.38 1304.9,1034.67 1305.4,1033.89 1306.0,1034.58 1306.5,1033.10 1307.1,1034.19 1307.6,1033.02 1308.2,1032.47 1308.7,1036.64 1309.3,1035.04 1309.8,1035.64 1310.4,1033.31 1310.9,1034.50 1311.5,1034.29 1312.0,1032.79 1312.6,1035.26 1313.1,1033.68 1313.7,1034.34 1314.2,1032.71 1314.8,1035.85 1315.3,1035.57 1315.9,1035.11 1316.4,1033.49 1317.0,1033.96 1317.5,1036.16 1318.1,1034.29 1318.6,1034.97 1319.2,1034.81 1319.7,1033.24 1320.3,1036.54 1320.8,1032.16 1321.4,1034.92 1321.9,1034.53 1322.5,1032.61 1323.0,1035.05 1323.6,1035.28 1324.1,1034.69 1324.7,1033.59 1325.2,1035.18 1325.8,1036.01 1326.3,1034.89 1326.9,1036.76 1327.4,1035.68 1328.0,1035.58 1328.5,1036.37 1329.1,1033.81 1329.6,1034.00 1330.2,1035.31 1330.7,1035.33 1331.3,1036.58 1331.8,1036.13 1332.4,1034.93 1332.9,1035.00 1333.5,1034.39 1334.0,1034.29 1334.6,1034.19 1335.1,1035.90 1335.7,1034.19 1336.2,1034.35 1336.8,1035.00 1337.3,1034.17 1337.9,1034.54 1338.4,1032.11 1339.0,1035.31 1339.5,1034.48 1340.1,1035.11 1340.6,1035.34 1341.2,1032.57 1341.7,1037.91 1342.3,1035.12 1342.8,1035.16 1343.4,1032.73 1343.9,1035.76 1344.5,1035.51 1345.0,1034.56 1345.6,1035.34 1346.1,1036.65 1346.7,1034.64 1347.2,1033.95 1347.8,1036.75 1348.3,1035.43 1348.9,1034.89 1349.4,1037.99 1350.0,1035.30 1350.5,1034.87 1351.1,1035.40 1351.6,1034.55 1352.2,1035.29 1352.7,1035.19 1353.3,1034.16 1353.8,1034.63 1354.4,1035.32 1354.9,1035.38 1355.5,1035.61 1356.0,1035.83 1356.6,1035.14 1357.1,1035.44 1357.7,1034.29 1358.2,1034.41 1358.8,1036.00 1359.3,1032.20 1359.9,1035.09 1360.4,1037.69 1361.0,1032.24 1361.5,1036.39 1362.1,1032.27 1362.6,1034.87 1363.2,1036.40 1363.7,1036.17 1364.3,1033.12 1364.8,1032.57 1365.4,1032.34 1365.9,1034.97 1366.5,1033.51 1367.0,1033.94 1367.6,1034.18 1368.1,1034.28 1368.7,1034.35 1369.2,1033.73 1369.8,1031.46 1370.3,1035.16 1370.9,1029.89 1371.4,1034.57 1372.0,1032.10 1372.5,1032.38 1373.1,1031.68 1373.6,1031.50 1374.2,1031.45 1374.7,1030.50 1375.3,1028.66 1375.8,1030.04 1376.4,1026.93 1376.9,1027.67 1377.5,1023.76 1378.0,1020.62 1378.6,1019.16 1379.1,1016.38 1379.7,1010.36 1380.2,1007.04 1380.8,1004.78 1381.3,997.19 1381.9,992.85 1382.4,989.83 1383.0,984.29 1383.5,979.65 1384.1,978.56 1384.6,980.22 1385.2,980.95 1385.7,982.48 1386.3,984.91 1386.8,986.39 1387.4,992.86 1387.9,997.84 1388.5,999.99 1389.0,1006.41 1389.6,1008.90 1390.1,1013.37 1390.7,1016.94 1391.2,1017.53 1391.8,1023.66 1392.3,1022.77 1392.9,1025.32 1393.4,1026.08 1394.0,1028.21 1394.5,1028.86 1395.1,1028.83 1395.6,1030.90 1396.2,1029.71 1396.7,1028.99 1397.3,1026.28 1397.8,1029.29 1398.4,1029.32 1398.9,1028.65 1399.5,1028.73 1400.0,1030.63 1400.6,1031.30 1401.1,1032.50 1401.7,1031.72 1402.2,1029.60 1402.8,1031.01 1403.3,1029.22 1403.9,1032.08 1404.4,1031.87 1405.0,1030.92 1405.5,1031.82 1406.1,1031.90 1406.6,1031.67 1407.2,1034.37 1407.7,1036.16 1408.3,1034.23 1408.8,1034.74 1409.4,1033.82 1409.9,1033.37 1410.5,1036.72 1411.0,1033.68 1411.6,1034.78 1412.1,1034.26 1412.7,1035.26 1413.2,1034.56 1413.8,1035.46 1414.3,1033.21 1414.9,1034.74 1415.4,1036.64 1416.0,1033.68 1416.5,1034.18 1417.1,1036.77 1417.6,1035.59 1418.2,1036.45 1418.7,1032.34 1419.3,1035.34 1419.8,1033.58 1420.4,1033.45 1420.9,1035.72 1421.5,1036.70 1422.0,1033.35 1422.6,1033.84 1423.1,1034.50 1423.7,1035.07 1424.2,1033.56 1424.8,1038.05 1425.3,1035.94 1425.9,1034.74 1426.4,1034.51 1427.0,1038.04 1427.5,1037.90 1428.1,1034.43 1428.6,1035.42 1429.2,1036.49 1429.7,1033.34 1430.3,1033.99 1430.8,1036.30 1431.4,1033.61 1431.9,1033.79 1432.5,1032.49 1433.0,1033.05 1433.6,1034.68 1434.1,1032.59 1434.7,1031.78 1435.2,1032.43 1435.8,1035.24 1436.3,1033.04 1436.9,1031.93 1437.4,1032.66 1438.0,1032.85 1438.5,1032.31 1439.1,1029.78 1439.6,1032.36 1440.2,1031.68 1440.7,1033.02 1441.3,1030.31 1441.8,1033.41 1442.4,1031.59 1442.9,1030.20 1443.5,1034.18 1444.0,1032.03 1444.6,1033.33 1445.1,1032.84 1445.7,1034.61 1446.2,1034.80 1446.8,1034.99 1447.3,1034.65 1447.9,1031.86 1448.4,1031.91 1449.0,1034.40 1449.5,1033.05 1450.1,1034.93 1450.6,1034.63 1451.2,1032.70 1451.7,1033.23 1452.3,1033.14 1452.8,1033.48 1453.4,1034.36 1453.9,1035.49 1454.5,1036.33 1455.0,1033.42 1455.6,1033.93 1456.1,1036.59 1456.7,1035.75 1457.2,1034.90 1457.8,1031.63 1458.3,1033.31 1458.9,1034.76 1459.4,1033.80 1460.0,1037.07 1460.5,1034.68 1461.1,1034.93 1461.6,1033.20 1462.2,1033.28 1462.7,1033.77 1463.3,1033.83 1463.8,1034.33 1464.4,1035.11 1464.9,1034.94 1465.5,1035.92 1466.0,1032.95 1466.6,1034.94 1467.1,1034.98 1467.7,1036.69 1468.2,1034.42 1468.8,1035.11 1469.3,1033.68 1469.9,1035.25 1470.4,1035.22 1471.0,1033.93 1471.5,1034.18 1472.1,1034.70 1472.6,1035.48 1473.2,1033.30 1473.7,1035.88 1474.3,1034.35 1474.8,1037.17 1475.4,1036.62 1475.9,1034.27 1476.5,1033.99 1477.0,1037.90 1477.6,1035.59 1478.1,1035.52 1478.7,1034.27 1479.2,1034.64 1479.8,1035.83 1480.3,1035.59 1480.9,1033.77 1481.4,1036.39 1482.0,1035.22 1482.5,1033.64 1483.1,1036.12 1483.6,1034.65 1484.2,1035.87 1484.7,1034.20 1485.3,1035.37 1485.8,1032.87 1486.4,1035.40 1486.9,1033.02 1487.5,1035.16 1488.0,1031.76 1488.6,1034.89 1489.1,1035.89 1489.7,1035.60 1490.2,1036.50 1490.8,1033.64 1491.3,1036.98 1491.9,1037.04 1492.4,1033.50 1493.0,1034.01 1493.5,1034.30 1494.1,1034.99 1494.6,1035.26 1495.2,1031.91 1495.7,1035.77 1496.3,1034.70 1496.8,1033.74 1497.4,1036.22 1497.9,1034.58 1498.5,1036.44 1499.0,1035.67 1499.6,1034.59 1500.1,1036.46 1500.7,1035.98 1501.2,1034.31 1501.8,1032.90 1502.3,1034.23 1502.9,1035.67 1503.4,1034.57 1504.0,1037.03 1504.5,1035.06 1505.1,1034.90 1505.6,1035.09 1506.2,1033.39 1506.7,1034.26 1507.3,1033.49 1507.8,1031.27 1508.4,1031.89 1508.9,1034.95 1509.5,1033.35 1510.0,1033.64 1510.6,1031.80 1511.1,1032.79 1511.7,1034.37 1512.2,1033.35 1512.8,1032.40 1513.3,1034.79 1513.9,1032.58 1514.4,1031.98 1515.0,1033.60 1515.5,1029.66 1516.1,1032.18 1516.6,1029.65 1517.2,1029.53 1517.7,1029.01 1518.3,1029.20 1518.8,1028.13 1519.4,1027.05 1519.9,1025.24 1520.5,1024.62 1521.0,1022.33 1521.6,1017.81 1522.1,1013.87 1522.7,1007.64 1523.2,1001.07 1523.8,996.66 1524.3,988.55 1524.9,981.36 1525.4,969.08 1526.0,965.28 1526.5,950.84 1527.1,943.02 1527.6,935.26 1528.2,924.30 1528.7,918.85 1529.3,912.48 1529.8,911.04 1530.4,910.77 1530.9,916.22 1531.5,921.60 1532.0,927.80 1532.6,938.12 1533.1,947.45 1533.7,955.26 1534.2,964.57 1534.8,973.78 1535.3,982.28 1535.9,992.50 1536.4,998.33 1537.0,1003.91 1537.5,1009.45 1538.1,1015.00 1538.6,1017.60 1539.2,1021.59 1539.7,1023.65 1540.3,1027.39 1540.8,1028.72 1541.4,1026.72 1541.9,1029.28 1542.5,1031.15 1543.0,1030.30 1543.6,1032.38 1544.1,1032.19 1544.7,1032.85 1545.2,1032.31 1545.8,1033.02 1546.3,1033.52 1546.9,1031.21 1547.4,1032.09 1548.0,1032.11 1548.5,1035.64 1549.1,1034.03 1549.6,1034.24 1550.2,1034.09 1550.7,1033.32 1551.3,1033.13 1551.8,1035.22 1552.4,1033.76 1552.9,1036.30 1553.5,1034.63 1554.0,1034.56 1554.6,1034.23 1555.1,1034.47 1555.7,1034.67 1556.2,1036.59 1556.8,1037.66 1557.3,1033.32 1557.9,1035.14 1558.4,1035.75 1559.0,1033.76 1559.5,1034.14 1560.1,1034.40 1560.6,1031.98 1561.2,1035.85 1561.7,1035.01 1562.3,1034.98 1562.8,1035.23 1563.4,1035.47 1563.9,1038.09 1564.5,1035.43 1565.0,1036.28 1565.6,1034.60 1566.1,1035.72 1566.7,1034.90 1567.2,1035.13 1567.8,1034.20 1568.3,1034.33 1568.9,1035.95 1569.4,1036.33 1570.0,1035.96 1570.5,1034.52 1571.1,1035.74 1571.6,1032.15 1572.2,1036.50 1572.7,1035.25 1573.3,1035.62 1573.8,1036.72 1574.4,1034.71 1574.9,1036.42 1575.5,1034.65 1576.0,1035.87 1576.6,1034.65 1577.1,1035.52 1577.7,1036.94 1578.2,1034.29 1578.8,1034.31 1579.3,1034.65 1579.9,1035.42 1580.4,1038.24 1581.0,1034.27 1581.5,1032.41 1582.1,1034.13 1582.6,1032.94 1583.2,1034.20 1583.7,1034.90 1584.3,1033.66 1584.8,1033.98 1585.4,1032.47 1585.9,1035.01 1586.5,1033.82 1587.0,1036.10 1587.6,1036.03 1588.1,1033.60 1588.7,1034.20 1589.2,1034.71 1589.8,1035.56 1590.3,1032.49 1590.9,1034.48 1591.4,1036.88 1592.0,1034.46 1592.5,1034.88 1593.1,1034.64 1593.6,1033.17 1594.2,1035.89 1594.7,1035.06 1595.3,1034.96 1595.8,1035.70 1596.4,1035.81 1596.9,1032.47 1597.5,1035.48 1598.0,1034.18 1598.6,1035.14 1599.1,1034.08 1599.7,1033.92 1600.2,1036.22 1600.8,1035.05 1601.3,1034.74 1601.9,1034.76 1602.4,1035.25 1603.0,1035.16 1603.5,1032.25 1604.1,1034.15 1604.6,1034.98 1605.2,1036.24 1605.7,1037.04 1606.3,1034.20 1606.8,1037.82 1607.4,1035.55 1607.9,1036.07 1608.5,1034.82 1609.0,1034.76 1609.6,1037.35 1610.1,1035.31 1610.7,1035.48 1611.2,1037.09 1611.8,1037.83 1612.3,1033.82 1612.9,1035.50 1613.4,1035.75 1614.0,1038.03 1614.5,1038.85 1615.1,1035.70 1615.6,1036.23 1616.2,1036.84 1616.7,1037.20 1617.3,1035.35 1617.8,1036.83 1618.4,1034.88 1618.9,1032.40 1619.5,1034.02 1620.0,1036.02 1620.6,1036.73 1621.1,1032.91 1621.7,1033.48 1622.2,1035.70 1622.8,1032.36 1623.3,1036.44 1623.9,1037.03 1624.4,1032.35 1625.0,1036.70 1625.5,1035.49 1626.1,1037.51 1626.6,1036.09 1627.2,1035.43 1627.7,1035.88 1628.3,1036.91 1628.8,1035.97 1629.4,1035.78 1629.9,1033.92 1630.5,1036.33 1631.0,1035.76 1631.6,1038.02 1632.1,1035.70 1632.7,1035.60 1633.2,1034.93 1633.8,1036.61 1634.3,1035.45 1634.9,1034.82 1635.4,1037.71 1636.0,1037.93 1636.5,1035.14 1637.1,1034.42 1637.6,1037.13 1638.2,1034.67 1638.7,1038.79 1639.3,1035.55 1639.8,1036.93 1640.4,1034.10 1640.9,1035.68 1641.5,1037.10 1642.0,1036.29 1642.6,1035.06 1643.1,1038.80 1643.7,1036.67 1644.2,1035.46 1644.8,1034.99 1645.3,1035.41 1645.9,1037.45 1646.4,1034.78 1647.0,1035.80 1647.5,1034.73 1648.1,1037.33 1648.6,1035.56 1649.2,1036.85 1649.7,1036.48 1650.3,1035.04 1650.8,1036.65 1651.4,1036.95 1651.9,1034.33 1652.5,1036.66 1653.0,1038.83 1653.6,1035.41 1654.1,1036.59 1654.7,1034.11 1655.2,1036.36 1655.8,1035.05 1656.3,1036.75 1656.9,1035.73 1657.4,1034.31 1658.0,1037.19 1658.5,1035.54 1659.1,1034.54 1659.6,1035.91 1660.2,1034.62 1660.7,1036.34 1661.3,1035.78 1661.8,1035.40 1662.4,1036.71 1662.9,1034.27 1663.5,1037.11 1664.0,1033.37 1664.6,1037.93 1665.1,1036.15 1665.7,1035.59 1666.2,1035.01 1666.8,1036.63 1667.3,1035.75 1667.9,1035.74 1668.4,1037.27 1669.0,1035.43 1669.5,1035.69 1670.1,1036.54 1670.6,1037.36 1671.2,1035.82 1671.7,1036.22 1672.3,1036.09 1672.8,1036.98 1673.4,1037.93 1673.9,1034.88 1674.5,1035.90 1675.0,1036.01 1675.6,1036.83 1676.1,1037.99 1676.7,1036.08 1677.2,1036.38 1677.8,1037.55 1678.3,1034.55 1678.9,1035.16 1679.4,1035.57 1680.0,1036.12 1680.5,1036.41 1681.1,1035.45 1681.6,1038.31 1682.2,1035.18 1682.7,1035.81 1683.3,1037.43 1683.8,1037.02 1684.4,1036.01 1684.9,1036.49 1685.5,1037.04 1686.0,1035.97 1686.6,1036.80 1687.1,1034.80 1687.7,1036.04 1688.2,1033.85 1688.8,1034.79 1689.3,1034.46 1689.9,1037.48 1690.4,1035.29 1691.0,1036.24 1691.5,1034.68 1692.1,1035.58 1692.6,1035.47 1693.2,1034.73 1693.7,1036.88 1694.3,1033.67 1694.8,1036.56 1695.4,1038.84 1695.9,1034.70 1696.5,1035.76 1697.0,1033.73 1697.6,1035.66 1698.1,1033.48 1698.7,1036.46 1699.2,1035.02 1699.8,1033.28 1700.3,1033.97 1700.9,1033.58 1701.4,1035.22 1702.0,1036.66 1702.5,1035.06 1703.1,1034.06 1703.6,1034.49 1704.2,1035.69 1704.7,1032.44 1705.3,1036.27 1705.8,1036.03 1706.4,1032.38 1706.9,1037.01 1707.5,1033.41 1708.0,1035.21 1708.6,1036.98 1709.1,1033.38 1709.7,1033.11 1710.2,1034.03 1710.8,1034.07 1711.3,1035.27 1711.9,1034.77 1712.4,1034.80 1713.0,1034.81 1713.5,1035.19 1714.1,1034.33 1714.6,1035.83 1715.2,1035.40 1715.7,1034.11 1716.3,1037.73 1716.8,1033.78 1717.4,1036.33" fill="none" stroke="#ff0000" stroke-width="11.0" stroke-linejoin="round" stroke-linecap="butt" />
<polyline transform="scale(1,1.05)" points="161.4,1409.33 162.0,1409.58 162.5,1409.49 163.1,1410.29 163.6,1412.68 164.2,1409.22 164.7,1412.16 165.3,1412.55 165.8,1410.73 166.4,1410.36 166.9,1411.72 167.5,1412.60 168.0,1413.70 168.6,1412.28 169.1,1413.11 169.7,1410.80 170.2,1410.34 170.8,1409.40 171.3,1410.07 171.9,1411.00 172.4,1411.66 173.0,1409.96 173.5,1412.42 174.1,1411.40 174.6,1410.81 175.2,1410.69 175.7,1413.90 176.3,1411.81 176.8,1410.62 177.4,1410.58 177.9,1413.79 178.5,1411.06 179.0,1413.10 179.6,1413.40 180.1,1409.14 180.7,1413.36 181.2,1411.61 181.8,1410.63 182.3,1411.27 182.9,1412.56 183.4,1412.37 184.0,1412.43 184.5,1411.11 185.1,1413.40 185.6,1413.65 186.2,1414.02 186.7,1413.06 187.3,1414.08 187.8,1414.31 188.4,1412.71 188.9,1412.91 189.5,1412.56 190.0,1412.52 190.6,1412.88 191.1,1409.93 191.7,1411.51 192.2,1412.43 192.8,1409.46 193.3,1410.22 193.9,1413.67 194.4,1410.65 195.0,1411.32 195.5,1412.28 196.1,1411.30 196.6,1410.86 197.2,1411.25 197.7,1411.34 198.3,1411.17 198.8,1412.03 199.4,1413.66 199.9,1412.22 200.5,1413.67 201.0,1412.65 201.6,1412.76 202.1,1412.47 202.7,1411.45 203.2,1412.27 203.8,1412.13 204.3,1410.51 204.9,1412.63 205.4,1412.43 206.0,1412.18 206.5,1411.10 207.1,1408.75 207.6,1413.38 208.2,1411.61 208.7,1409.19 209.3,1412.40 209.8,1410.84 210.4,1412.41 210.9,1411.49 211.5,1412.89 212.0,1411.84 212.6,1411.88 213.1,1411.71 213.7,1412.93 214.2,1410.03 214.8,1412.84 215.3,1412.26 215.9,1410.83 216.4,1411.44 217.0,1410.92 217.5,1411.48 218.1,1412.47 218.6,1410.60 219.2,1412.21 219.7,1412.42 220.3,1412.06 220.8,1413.10 221.4,1411.22 221.9,1412.07 222.5,1414.10 223.0,1411.28 223.6,1411.07 224.1,1411.22 224.7,1411.87 225.2,1410.48 225.8,1410.89 226.3,1409.15 226.9,1409.94 227.4,1409.95 228.0,1409.82 228.5,1410.67 229.1,1412.00 229.6,1410.80 230.2,1409.75 230.7,1411.57 231.3,1411.51 231.8,1409.75 232.4,1411.55 232.9,1410.18 233.5,1410.71 234.0,1410.62 234.6,1412.43 235.1,1410.58 235.7,1411.18 236.2,1411.79 236.8,1412.79 237.3,1412.99 237.9,1410.50 238.4,1413.05 239.0,1412.07 239.5,1413.12 240.1,1412.99 240.6,1411.20 241.2,1411.89 241.7,1411.53 242.3,1412.33 242.8,1413.82 243.4,1412.02 243.9,1411.23 244.5,1414.91 245.0,1410.91 245.6,1412.07 246.1,1412.09 246.7,1410.68 247.2,1413.06 247.8,1413.40 248.3,1412.12 248.9,1412.31 249.4,1412.09 250.0,1410.24 250.5,1412.51 251.1,1410.80 251.6,1411.10 252.2,1412.63 252.7,1413.21 253.3,1411.15 253.8,1413.42 254.4,1414.12 254.9,1412.27 255.5,1411.97 256.0,1412.27 256.6,1411.56 257.1,1411.02 257.7,1412.72 258.2,1412.78 258.8,1411.37 259.3,1411.46 259.9,1411.19 260.4,1411.08 261.0,1410.76 261.5,1410.12 262.1,1412.85 262.6,1411.40 263.2,1411.86 263.7,1413.81 264.3,1411.19 264.8,1412.38 265.4,1410.16 265.9,1410.97 266.5,1412.45 267.0,1411.34 267.6,1409.99 268.1,1409.85 268.7,1411.96 269.2,1410.50 269.8,1412.31 270.3,1411.82 270.9,1411.13 271.4,1411.40 272.0,1412.31 272.5,1411.49 273.1,1410.37 273.6,1411.81 274.2,1411.02 274.7,1411.15 275.3,1412.05 275.8,1411.76 276.4,1412.53 276.9,1411.16 277.5,1410.85 278.0,1410.97 278.6,1411.77 279.1,1410.43 279.7,1410.92 280.2,1410.37 280.8,1410.43 281.3,1411.10 281.9,1414.00 282.4,1410.85 283.0,1411.56 283.5,1411.37 284.1,1411.06 284.6,1411.28 285.2,1413.43 285.7,1410.93 286.3,1413.01 286.8,1411.93 287.4,1410.22 287.9,1410.46 288.5,1410.66 289.0,1409.95 289.6,1412.44 290.1,1411.61 290.7,1411.73 291.2,1409.98 291.8,1411.64 292.3,1410.51 292.9,1413.81 293.4,1410.99 294.0,1411.41 294.5,1411.56 295.1,1410.58 295.6,1410.68 296.2,1410.68 296.7,1412.07 297.3,1410.31 297.8,1410.95 298.4,1411.50 298.9,1410.68 299.5,1409.62 300.0,1409.82 300.6,1410.69 301.1,1410.08 301.7,1412.23 302.2,1411.18 302.8,1411.14 303.3,1410.05 303.9,1411.76 304.4,1410.78 305.0,1410.13 305.5,1410.48 306.1,1413.84 306.6,1410.52 307.2,1410.24 307.7,1412.49 308.3,1412.03 308.8,1410.90 309.4,1412.75 309.9,1409.60 310.5,1410.70 311.0,1409.41 311.6,1412.75 312.1,1411.29 312.7,1414.12 313.2,1411.76 313.8,1411.78 314.3,1410.00 314.9,1409.94 315.4,1410.71 316.0,1412.26 316.5,1410.11 317.1,1408.63 317.6,1412.22 318.2,1412.29 318.7,1410.27 319.3,1411.78 319.8,1412.54 320.4,1412.60 320.9,1409.57 321.5,1411.39 322.0,1410.47 322.6,1412.40 323.1,1411.44 323.7,1410.00 324.2,1411.47 324.8,1412.02 325.3,1409.64 325.9,1409.86 326.4,1410.62 327.0,1411.04 327.5,1410.76 328.1,1409.36 328.6,1409.66 329.2,1411.37 329.7,1411.88 330.3,1410.45 330.8,1411.63 331.4,1413.56 331.9,1411.24 332.5,1410.99 333.0,1410.71 333.6,1412.04 334.1,1411.79 334.7,1411.83 335.2,1411.14 335.8,1412.03 336.3,1412.05 336.9,1411.44 337.4,1412.91 338.0,1409.88 338.5,1412.41 339.1,1411.47 339.6,1412.55 340.2,1413.73 340.7,1411.66 341.3,1411.39 341.8,1411.58 342.4,1413.15 342.9,1413.32 343.5,1411.78 344.0,1412.32 344.6,1413.60 345.1,1412.19 345.7,1409.90 346.2,1410.66 346.8,1411.03 347.3,1412.01 347.9,1410.94 348.4,1413.12 349.0,1411.02 349.5,1413.31 350.1,1410.81 350.6,1413.05 351.2,1411.75 351.7,1413.13 352.3,1413.73 352.8,1413.49 353.4,1412.69 353.9,1410.67 354.5,1410.59 355.0,1408.49 355.6,1413.15 356.1,1412.91 356.7,1412.63 357.2,1410.19 357.8,1414.38 358.3,1410.69 358.9,1412.42 359.4,1409.60 360.0,1410.71 360.5,1412.76 361.1,1412.51 361.6,1410.09 362.2,1411.19 362.7,1412.51 363.3,1409.12 363.8,1412.02 364.4,1409.34 364.9,1411.74 365.5,1410.64 366.0,1411.94 366.6,1410.11 367.1,1410.12 367.7,1409.91 368.2,1408.97 368.8,1409.42 369.3,1408.21 369.9,1408.28 370.4,1409.17 371.0,1407.44 371.5,1408.37 372.1,1407.23 372.6,1406.60 373.2,1403.56 373.7,1404.52 374.3,1404.90 374.8,1403.57 375.4,1403.31 375.9,1403.15 376.5,1399.39 377.0,1401.64 377.6,1401.70 378.1,1401.14 378.7,1400.33 379.2,1402.58 379.8,1402.92 380.3,1406.07 380.9,1406.12 381.4,1404.94 382.0,1404.99 382.5,1405.96 383.1,1407.54 383.6,1407.37 384.2,1410.97 384.7,1407.82 385.3,1409.46 385.8,1410.05 386.4,1410.63 386.9,1409.32 387.5,1410.30 388.0,1410.91 388.6,1411.20 389.1,1410.26 389.7,1410.66 390.2,1411.33 390.8,1413.32 391.3,1409.84 391.9,1412.06 392.4,1413.11 393.0,1409.78 393.5,1413.06 394.1,1413.06 394.6,1411.58 395.2,1412.64 395.7,1413.28 396.3,1411.47 396.8,1411.94 397.4,1410.51 397.9,1410.98 398.5,1411.88 399.0,1411.74 399.6,1413.71 400.1,1411.67 400.7,1410.58 401.2,1413.00 401.8,1413.07 402.3,1412.51 402.9,1411.94 403.4,1411.24 404.0,1411.38 404.5,1413.83 405.1,1412.97 405.6,1412.19 406.2,1412.53 406.7,1411.65 407.3,1410.97 407.8,1411.47 408.4,1411.92 408.9,1410.10 409.5,1410.30 410.0,1409.95 410.6,1411.38 411.1,1412.56 411.7,1410.32 412.2,1410.52 412.8,1409.97 413.3,1411.23 413.9,1410.39 414.4,1410.57 415.0,1410.44 415.5,1414.22 416.1,1411.54 416.6,1410.88 417.2,1411.09 417.7,1412.57 418.3,1412.67 418.8,1411.85 419.4,1409.30 419.9,1412.63 420.5,1412.71 421.0,1412.36 421.6,1412.00 422.1,1411.53 422.7,1412.79 423.2,1411.06 423.8,1412.57 424.3,1410.83 424.9,1410.92 425.4,1410.84 426.0,1410.70 426.5,1410.77 427.1,1412.18 427.6,1413.08 428.2,1410.51 428.7,1410.12 429.3,1412.71 429.8,1410.90 430.4,1411.59 430.9,1411.44 431.5,1412.29 432.0,1410.25 432.6,1412.55 433.1,1412.15 433.7,1408.74 434.2,1411.04 434.8,1410.79 435.3,1411.64 435.9,1411.13 436.4,1410.34 437.0,1410.80 437.5,1411.58 438.1,1411.22 438.6,1410.99 439.2,1413.67 439.7,1411.75 440.3,1409.88 440.8,1411.28 441.4,1411.50 441.9,1410.00 442.5,1411.25 443.0,1410.16 443.6,1408.59 444.1,1411.49 444.7,1411.81 445.2,1411.79 445.8,1410.91 446.3,1410.40 446.9,1411.33 447.4,1411.55 448.0,1412.11 448.5,1412.59 449.1,1412.00 449.6,1410.44 450.2,1411.03 450.7,1409.51 451.3,1411.92 451.8,1411.77 452.4,1412.47 452.9,1411.68 453.5,1412.92 454.0,1410.36 454.6,1411.53 455.1,1410.88 455.7,1410.92 456.2,1409.17 456.8,1410.33 457.3,1408.92 457.9,1410.80 458.4,1410.39 459.0,1411.33 459.5,1409.12 460.1,1410.59 460.6,1410.90 461.2,1408.58 461.7,1413.03 462.3,1411.73 462.8,1410.32 463.4,1413.32 463.9,1412.72 464.5,1408.40 465.0,1410.87 465.6,1410.50 466.1,1411.26 466.7,1410.14 467.2,1410.93 467.8,1411.31 468.3,1408.41 468.9,1411.37 469.4,1412.83 470.0,1411.39 470.5,1412.56 471.1,1413.06 471.6,1411.60 472.2,1411.72 472.7,1411.75 473.3,1410.81 473.8,1413.88 474.4,1411.82 474.9,1411.96 475.5,1412.41 476.0,1413.01 476.6,1409.80 477.1,1410.18 477.7,1411.51 478.2,1411.94 478.8,1409.98 479.3,1409.80 479.9,1412.24 480.4,1412.18 481.0,1411.04 481.5,1411.04 482.1,1410.64 482.6,1410.03 483.2,1410.37 483.7,1411.55 484.3,1411.15 484.8,1412.45 485.4,1409.86 485.9,1409.43 486.5,1412.00 487.0,1410.28 487.6,1410.99 488.1,1411.38 488.7,1409.92 489.2,1409.61 489.8,1411.65 490.3,1408.47 490.9,1412.05 491.4,1409.33 492.0,1412.27 492.5,1411.72 493.1,1411.65 493.6,1411.96 494.2,1411.57 494.7,1409.87 495.3,1412.38 495.8,1411.60 496.4,1412.00 496.9,1411.34 497.5,1411.21 498.0,1412.56 498.6,1412.59 499.1,1411.81 499.7,1410.19 500.2,1410.51 500.8,1410.44 501.3,1412.87 501.9,1412.20 502.4,1411.72 503.0,1411.50 503.5,1410.84 504.1,1412.62 504.6,1410.53 505.2,1410.76 505.7,1412.70 506.3,1412.47 506.8,1411.69 507.4,1410.34 507.9,1410.35 508.5,1412.76 509.0,1412.24 509.6,1413.51 510.1,1411.30 510.7,1411.74 511.2,1410.77 511.8,1413.72 512.3,1409.93 512.9,1412.54 513.4,1413.66 514.0,1410.72 514.5,1410.13 515.1,1410.58 515.6,1410.06 516.2,1412.00 516.7,1411.41 517.3,1410.37 517.8,1410.93 518.4,1412.77 518.9,1410.51 519.5,1410.00 520.0,1412.23 520.6,1408.46 521.1,1408.27 521.7,1409.67 522.2,1407.09 522.8,1403.80 523.3,1403.80 523.9,1400.95 524.4,1401.47 525.0,1401.28 525.5,1397.83 526.1,1400.40 526.6,1399.29 527.2,1398.28 527.7,1396.40 528.3,1397.53 528.8,1398.73 529.4,1400.09 529.9,1401.56 530.5,1398.87 531.0,1401.83 531.6,1402.60 532.1,1404.78 532.7,1406.54 533.2,1409.95 533.8,1408.10 534.3,1409.99 534.9,1409.70 535.4,1410.03 536.0,1412.43 536.5,1409.44 537.1,1411.68 537.6,1413.43 538.2,1414.15 538.7,1410.63 539.3,1410.20 539.8,1409.84 540.4,1410.82 540.9,1411.29 541.5,1411.31 542.0,1412.57 542.6,1410.90 543.1,1411.61 543.7,1409.33 544.2,1410.45 544.8,1411.01 545.3,1408.45 545.9,1411.27 546.4,1412.12 547.0,1411.17 547.5,1411.31 548.1,1411.03 548.6,1409.64 549.2,1411.03 549.7,1410.31 550.3,1411.03 550.8,1410.97 551.4,1411.00 551.9,1409.32 552.5,1410.73 553.0,1412.78 553.6,1411.81 554.1,1410.44 554.7,1409.84 555.2,1411.78 555.8,1410.61 556.3,1408.54 556.9,1410.03 557.4,1412.44 558.0,1408.58 558.5,1410.61 559.1,1409.68 559.6,1410.49 560.2,1410.10 560.7,1409.58 561.3,1407.71 561.8,1410.37 562.4,1410.67 562.9,1410.49 563.5,1409.44 564.0,1409.97 564.6,1413.24 565.1,1409.42 565.7,1410.35 566.2,1409.31 566.8,1410.50 567.3,1411.06 567.9,1412.19 568.4,1411.07 569.0,1410.83 569.5,1411.26 570.1,1411.52 570.6,1410.84 571.2,1410.88 571.7,1412.33 572.3,1410.12 572.8,1410.86 573.4,1409.91 573.9,1410.39 574.5,1412.71 575.0,1410.21 575.6,1411.62 576.1,1413.47 576.7,1411.67 577.2,1410.90 577.8,1410.20 578.3,1408.23 578.9,1410.03 579.4,1410.08 580.0,1412.24 580.5,1411.94 581.1,1409.65 581.6,1411.86 582.2,1410.42 582.7,1413.25 583.3,1412.86 583.8,1411.95 584.4,1410.73 584.9,1413.23 585.5,1412.22 586.0,1412.56 586.6,1411.87 587.1,1410.97 587.7,1412.19 588.2,1410.34 588.8,1412.21 589.3,1411.51 589.9,1409.41 590.4,1411.87 591.0,1411.25 591.5,1410.87 592.1,1411.22 592.6,1412.21 593.2,1410.01 593.7,1410.09 594.3,1412.16 594.8,1411.54 595.4,1409.34 595.9,1411.46 596.5,1409.37 597.0,1412.12 597.6,1411.65 598.1,1411.88 598.7,1409.56 599.2,1410.41 599.8,1412.30 600.3,1409.70 600.9,1411.90 601.4,1411.06 602.0,1411.48 602.5,1410.36 603.1,1412.00 603.6,1411.77 604.2,1412.29 604.7,1414.17 605.3,1411.08 605.8,1411.42 606.4,1410.14 606.9,1413.35 607.5,1410.95 608.0,1412.25 608.6,1410.07 609.1,1411.09 609.7,1412.07 610.2,1411.94 610.8,1411.08 611.3,1412.44 611.9,1411.55 612.4,1412.63 613.0,1411.16 613.5,1412.18 614.1,1410.91 614.6,1412.91 615.2,1411.46 615.7,1411.53 616.3,1410.81 616.8,1412.63 617.4,1411.66 617.9,1411.22 618.5,1412.99 619.0,1410.60 619.6,1412.61 620.1,1413.20 620.7,1409.50 621.2,1412.51 621.8,1412.10 622.3,1411.70 622.9,1411.88 623.4,1410.07 624.0,1412.04 624.5,1411.74 625.1,1409.78 625.6,1411.27 626.2,1410.11 626.7,1411.60 627.3,1410.48 627.8,1411.63 628.4,1409.87 628.9,1410.89 629.5,1411.04 630.0,1411.27 630.6,1412.82 631.1,1414.01 631.7,1409.79 632.2,1412.50 632.8,1411.23 633.3,1411.22 633.9,1411.21 634.4,1411.39 635.0,1411.48 635.5,1412.54 636.1,1413.05 636.6,1412.01 637.2,1411.67 637.7,1412.28 638.3,1412.09 638.8,1413.71 639.4,1410.56 639.9,1410.07 640.5,1411.34 641.0,1411.99 641.6,1411.39 642.1,1411.89 642.7,1408.71 643.2,1410.75 643.8,1410.87 644.3,1410.09 644.9,1410.93 645.4,1411.34 646.0,1412.03 646.5,1410.53 647.1,1409.69 647.6,1412.01 648.2,1413.72 648.7,1411.70 649.3,1411.66 649.8,1410.40 650.4,1411.75 650.9,1413.28 651.5,1409.28 652.0,1412.63 652.6,1409.28 653.1,1413.15 653.7,1412.40 654.2,1411.12 654.8,1411.78 655.3,1413.32 655.9,1410.24 656.4,1412.77 657.0,1412.10 657.5,1411.43 658.1,1413.05 658.6,1409.56 659.2,1411.26 659.7,1410.04 660.3,1411.31 660.8,1411.95 661.4,1409.53 661.9,1411.63 662.5,1411.62 663.0,1410.61 663.6,1411.16 664.1,1412.45 664.7,1411.55 665.2,1413.01 665.8,1409.96 666.3,1409.70 666.9,1412.41 667.4,1409.52 668.0,1412.34 668.5,1410.89 669.1,1411.59 669.6,1410.37 670.2,1411.84 670.7,1412.07 671.3,1411.82 671.8,1410.87 672.4,1408.65 672.9,1410.98 673.5,1409.70 674.0,1410.65 674.6,1406.91 675.1,1408.36 675.7,1406.39 676.2,1405.58 676.8,1404.99 677.3,1402.95 677.9,1401.23 678.4,1397.35 679.0,1394.27 679.5,1390.52 680.1,1385.20 680.6,1383.97 681.2,1378.30 681.7,1375.50 682.3,1374.08 682.8,1371.27 683.4,1371.02 683.9,1369.40 684.5,1372.91 685.0,1375.21 685.6,1378.94 686.1,1383.80 686.7,1386.57 687.2,1390.34 687.8,1394.01 688.3,1398.10 688.9,1400.87 689.4,1402.41 690.0,1403.60 690.5,1406.42 691.1,1406.32 691.6,1407.39 692.2,1408.65 692.7,1408.30 693.3,1408.03 693.8,1408.18 694.4,1409.45 694.9,1410.20 695.5,1410.82 696.0,1409.36 696.6,1410.57 697.1,1410.45 697.7,1410.00 698.2,1413.36 698.8,1409.79 699.3,1409.71 699.9,1410.81 700.4,1412.37 701.0,1410.21 701.5,1412.02 702.1,1409.29 702.6,1409.78 703.2,1409.72 703.7,1409.28 704.3,1409.15 704.8,1408.41 705.4,1407.63 705.9,1406.01 706.5,1406.86 707.0,1405.56 707.6,1405.01 708.1,1405.39 708.7,1404.17 709.2,1403.63 709.8,1404.96 710.3,1403.22 710.9,1402.54 711.4,1404.36 712.0,1404.44 712.5,1406.37 713.1,1407.23 713.6,1408.22 714.2,1409.32 714.7,1410.33 715.3,1410.64 715.8,1410.75 716.4,1410.59 716.9,1410.63 717.5,1411.33 718.0,1411.20 718.6,1410.40 719.1,1411.19 719.7,1412.44 720.2,1411.77 720.8,1410.83 721.3,1412.00 721.9,1412.43 722.4,1410.59 723.0,1413.56 723.5,1413.01 724.1,1411.60 724.6,1412.98 725.2,1412.06 725.7,1412.45 726.3,1410.82 726.8,1411.24 727.4,1411.51 727.9,1411.64 728.5,1411.21 729.0,1410.02 729.6,1410.51 730.1,1412.15 730.7,1411.23 731.2,1413.43 731.8,1413.05 732.3,1411.31 732.9,1411.72 733.4,1409.46 734.0,1412.07 734.5,1412.36 735.1,1410.18 735.6,1409.94 736.2,1409.88 736.7,1410.93 737.3,1410.86 737.8,1408.24 738.4,1408.37 738.9,1408.80 739.5,1407.91 740.0,1406.83 740.6,1407.24 741.1,1405.36 741.7,1404.52 742.2,1406.72 742.8,1406.97 743.3,1407.86 743.9,1406.52 744.4,1406.42 745.0,1407.89 745.5,1408.23 746.1,1408.85 746.6,1409.12 747.2,1411.00 747.7,1410.21 748.3,1411.56 748.8,1409.56 749.4,1409.37 749.9,1411.52 750.5,1409.31 751.0,1409.41 751.6,1409.44 752.1,1408.64 752.7,1411.00 753.2,1412.09 753.8,1410.61 754.3,1410.52 754.9,1408.84 755.4,1407.75 756.0,1408.92 756.5,1406.58 757.1,1405.38 757.6,1404.87 758.2,1405.05 758.7,1401.42 759.3,1396.26 759.8,1388.84 760.4,1380.53 760.9,1372.09 761.5,1361.02 762.0,1349.14 762.6,1339.84 763.1,1327.01 763.7,1316.87 764.2,1312.91 764.8,1314.12 765.3,1318.79 765.9,1327.93 766.4,1336.92 767.0,1349.67 767.5,1360.57 768.1,1370.91 768.6,1379.92 769.2,1391.15 769.7,1396.72 770.3,1400.74 770.8,1405.20 771.4,1409.13 771.9,1406.11 772.5,1408.89 773.0,1411.19 773.6,1411.71 774.1,1409.06 774.7,1410.02 775.2,1408.77 775.8,1411.26 776.3,1409.84 776.9,1410.49 777.4,1413.24 778.0,1410.41 778.5,1409.78 779.1,1411.73 779.6,1411.94 780.2,1411.97 780.7,1412.99 781.3,1410.97 781.8,1411.58 782.4,1412.42 782.9,1411.27 783.5,1413.24 784.0,1412.79 784.6,1411.76 785.1,1411.52 785.7,1411.76 786.2,1412.06 786.8,1409.55 787.3,1410.27 787.9,1410.81 788.4,1410.73 789.0,1410.94 789.5,1410.96 790.1,1411.69 790.6,1411.23 791.2,1411.94 791.7,1411.90 792.3,1411.48 792.8,1411.07 793.4,1410.70 793.9,1412.34 794.5,1410.98 795.0,1411.70 795.6,1412.32 796.1,1411.66 796.7,1409.68 797.2,1410.56 797.8,1413.52 798.3,1409.57 798.9,1412.69 799.4,1410.11 800.0,1411.37 800.5,1412.41 801.1,1410.13 801.6,1412.29 802.2,1408.75 802.7,1410.97 803.3,1410.42 803.8,1411.54 804.4,1411.92 804.9,1412.34 805.5,1412.27 806.0,1410.55 806.6,1409.99 807.1,1411.43 807.7,1410.35 808.2,1408.60 808.8,1408.49 809.3,1410.38 809.9,1410.36 810.4,1410.82 811.0,1410.81 811.5,1408.54 812.1,1410.14 812.6,1407.93 813.2,1408.95 813.7,1407.71 814.3,1408.72 814.8,1406.65 815.4,1404.90 815.9,1404.44 816.5,1403.87 817.0,1403.24 817.6,1401.50 818.1,1396.50 818.7,1391.14 819.2,1384.33 819.8,1368.56 820.3,1346.46 820.9,1315.88 821.4,1286.03 822.0,1257.55 822.5,1233.10 823.1,1214.75 823.6,1197.94 824.2,1179.00 824.7,1164.39 825.3,1152.63 825.8,1146.52 826.4,1147.36 826.9,1153.25 827.5,1169.85 828.0,1183.91 828.6,1202.40 829.1,1219.65 829.7,1241.63 830.2,1264.39 830.8,1293.68 831.3,1325.64 831.9,1353.80 832.4,1373.97 833.0,1388.80 833.5,1395.12 834.1,1399.73 834.6,1399.70 835.2,1401.08 835.7,1406.12 836.3,1405.88 836.8,1403.91 837.4,1407.01 837.9,1407.35 838.5,1406.89 839.0,1408.18 839.6,1411.26 840.1,1409.00 840.7,1410.64 841.2,1409.39 841.8,1408.59 842.3,1412.78 842.9,1410.70 843.4,1409.21 844.0,1409.03 844.5,1408.77 845.1,1407.47 845.6,1408.55 846.2,1408.12 846.7,1406.23 847.3,1405.77 847.8,1403.42 848.4,1404.01 848.9,1400.37 849.5,1401.08 850.0,1401.36 850.6,1397.99 851.1,1399.73 851.7,1394.05 852.2,1393.48 852.8,1392.30 853.3,1392.04 853.9,1391.23 854.4,1389.22 855.0,1386.75 855.5,1389.63 856.1,1388.78 856.6,1389.25 857.2,1387.26 857.7,1390.38 858.3,1390.79 858.8,1393.31 859.4,1395.56 859.9,1394.26 860.5,1396.60 861.0,1398.29 861.6,1398.91 862.1,1401.77 862.7,1403.07 863.2,1402.80 863.8,1403.95 864.3,1406.16 864.9,1404.84 865.4,1407.87 866.0,1409.10 866.5,1409.64 867.1,1408.17 867.6,1411.48 868.2,1412.10 868.7,1408.91 869.3,1412.19 869.8,1411.91 870.4,1411.59 870.9,1409.92 871.5,1411.92 872.0,1409.71 872.6,1411.01 873.1,1411.90 873.7,1411.62 874.2,1410.80 874.8,1411.54 875.3,1411.03 875.9,1411.49 876.4,1410.39 877.0,1409.97 877.5,1410.64 878.1,1409.93 878.6,1412.47 879.2,1414.04 879.7,1412.01 880.3,1412.54 880.8,1410.16 881.4,1411.15 881.9,1410.10 882.5,1411.99 883.0,1411.43 883.6,1410.24 884.1,1412.82 884.7,1411.27 885.2,1412.14 885.8,1412.27 886.3,1412.83 886.9,1412.68 887.4,1411.34 888.0,1411.04 888.5,1410.59 889.1,1410.13 889.6,1413.10 890.2,1410.60 890.7,1412.68 891.3,1410.24 891.8,1410.37 892.4,1412.14 892.9,1410.90 893.5,1410.20 894.0,1412.75 894.6,1409.65 895.1,1410.13 895.7,1411.69 896.2,1412.55 896.8,1410.91 897.3,1410.01 897.9,1413.24 898.4,1410.87 899.0,1410.16 899.5,1410.93 900.1,1412.03 900.6,1407.98 901.2,1409.60 901.7,1411.44 902.3,1411.20 902.8,1410.63 903.4,1410.34 903.9,1411.02 904.5,1411.43 905.0,1409.55 905.6,1409.53 906.1,1410.58 906.7,1409.17 907.2,1407.84 907.8,1408.72 908.3,1407.38 908.9,1408.82 909.4,1408.69 910.0,1406.69 910.5,1406.83 911.1,1406.97 911.6,1407.58 912.2,1407.05 912.7,1406.07 913.3,1406.07 913.8,1407.14 914.4,1406.52 914.9,1406.59 915.5,1405.20 916.0,1406.89 916.6,1407.56 917.1,1407.60 917.7,1406.85 918.2,1406.45 918.8,1409.40 919.3,1409.79 919.9,1409.60 920.4,1408.81 921.0,1409.52 921.5,1410.14 922.1,1411.19 922.6,1410.66 923.2,1409.82 923.7,1410.24 924.3,1409.61 924.8,1412.83 925.4,1410.21 925.9,1412.54 926.5,1411.35 927.0,1413.02 927.6,1409.98 928.1,1411.92 928.7,1410.20 929.2,1410.24 929.8,1410.40 930.3,1409.79 930.9,1410.24 931.4,1410.91 932.0,1412.93 932.5,1410.72 933.1,1409.57 933.6,1411.84 934.2,1412.64 934.7,1408.47 935.3,1411.66 935.8,1409.67 936.4,1409.19 936.9,1411.83 937.5,1412.69 938.0,1413.10 938.6,1411.18 939.1,1410.76 939.7,1411.34 940.2,1411.79 940.8,1412.11 941.3,1412.62 941.9,1411.61 942.4,1411.81 943.0,1411.42 943.5,1410.37 944.1,1411.64 944.6,1412.73 945.2,1411.95 945.7,1408.85 946.3,1412.77 946.8,1410.20 947.4,1413.53 947.9,1413.35 948.5,1411.78 949.0,1412.99 949.6,1410.09 950.1,1410.71 950.7,1410.12 951.2,1411.18 951.8,1410.77 952.3,1410.84 952.9,1410.57 953.4,1411.84 954.0,1410.01 954.5,1409.19 955.1,1409.34 955.6,1409.19 956.2,1408.48 956.7,1406.08 957.3,1405.68 957.8,1404.75 958.4,1402.81 958.9,1400.69 959.5,1400.29 960.0,1396.63 960.6,1397.70 961.1,1395.32 961.7,1395.26 962.2,1394.67 962.8,1396.48 963.3,1396.59 963.9,1397.30 964.4,1395.81 965.0,1396.28 965.5,1399.05 966.1,1398.44 966.6,1400.93 967.2,1401.64 967.7,1403.77 968.3,1405.88 968.8,1404.98 969.4,1407.38 969.9,1408.08 970.5,1408.76 971.0,1409.57 971.6,1409.02 972.1,1409.66 972.7,1409.60 973.2,1408.48 973.8,1411.91 974.3,1411.15 974.9,1411.19 975.4,1409.80 976.0,1408.67 976.5,1410.91 977.1,1409.67 977.6,1412.64 978.2,1412.61 978.7,1410.18 979.3,1412.23 979.8,1411.59 980.4,1410.74 980.9,1409.15 981.5,1411.53 982.0,1411.85 982.6,1411.91 983.1,1410.37 983.7,1411.02 984.2,1411.06 984.8,1411.06 985.3,1410.37 985.9,1412.22 986.4,1411.68 987.0,1410.65 987.5,1411.54 988.1,1412.14 988.6,1411.46 989.2,1411.43 989.7,1411.93 990.3,1410.24 990.8,1411.81 991.4,1410.31 991.9,1411.22 992.5,1412.30 993.0,1410.40 993.6,1412.07 994.1,1411.42 994.7,1412.05 995.2,1408.76 995.8,1407.11 996.3,1408.87 996.9,1411.83 997.4,1409.54 998.0,1408.48 998.5,1408.29 999.1,1408.21 999.6,1406.96 1000.2,1409.07 1000.7,1406.10 1001.3,1403.97 1001.8,1403.51 1002.4,1404.36 1002.9,1404.18 1003.5,1404.91 1004.0,1405.02 1004.6,1405.21 1005.1,1403.23 1005.7,1405.16 1006.2,1404.42 1006.8,1405.81 1007.3,1404.99 1007.9,1408.08 1008.4,1408.66 1009.0,1407.98 1009.5,1406.98 1010.1,1409.52 1010.6,1408.98 1011.2,1407.40 1011.7,1409.71 1012.3,1410.02 1012.8,1409.55 1013.4,1406.93 1013.9,1409.34 1014.5,1409.19 1015.0,1406.85 1015.6,1407.82 1016.1,1406.05 1016.7,1405.09 1017.2,1400.34 1017.8,1399.75 1018.3,1398.09 1018.9,1393.12 1019.4,1391.83 1020.0,1390.44 1020.5,1383.76 1021.1,1384.09 1021.6,1381.06 1022.2,1377.28 1022.7,1376.38 1023.3,1376.28 1023.8,1378.51 1024.4,1377.40 1024.9,1383.14 1025.5,1383.64 1026.0,1388.04 1026.6,1391.14 1027.1,1395.52 1027.7,1396.44 1028.2,1399.17 1028.8,1403.59 1029.3,1405.94 1029.9,1405.59 1030.4,1406.46 1031.0,1408.08 1031.5,1408.59 1032.1,1409.06 1032.6,1408.36 1033.2,1407.31 1033.7,1410.23 1034.3,1410.08 1034.8,1411.52 1035.4,1411.61 1035.9,1412.28 1036.5,1409.99 1037.0,1411.40 1037.6,1409.28 1038.1,1410.99 1038.7,1411.31 1039.2,1409.99 1039.8,1410.71 1040.3,1413.56 1040.9,1409.97 1041.4,1412.08 1042.0,1410.55 1042.5,1411.97 1043.1,1408.15 1043.6,1409.55 1044.2,1410.74 1044.7,1412.86 1045.3,1410.85 1045.8,1409.67 1046.4,1410.56 1046.9,1411.91 1047.5,1409.34 1048.0,1411.12 1048.6,1410.84 1049.1,1410.60 1049.7,1411.49 1050.2,1410.20 1050.8,1411.65 1051.3,1411.69 1051.9,1412.86 1052.4,1411.27 1053.0,1410.75 1053.5,1409.49 1054.1,1409.99 1054.6,1408.97 1055.2,1411.71 1055.7,1407.37 1056.3,1410.10 1056.8,1409.78 1057.4,1409.60 1057.9,1407.93 1058.5,1410.37 1059.0,1407.05 1059.6,1405.13 1060.1,1405.64 1060.7,1405.07 1061.2,1406.91 1061.8,1405.09 1062.3,1403.89 1062.9,1403.78 1063.4,1404.68 1064.0,1404.51 1064.5,1405.21 1065.1,1406.83 1065.6,1404.66 1066.2,1405.96 1066.7,1407.50 1067.3,1406.14 1067.8,1409.02 1068.4,1410.34 1068.9,1409.42 1069.5,1410.61 1070.0,1409.70 1070.6,1410.41 1071.1,1410.97 1071.7,1410.84 1072.2,1412.42 1072.8,1410.70 1073.3,1412.33 1073.9,1410.94 1074.4,1413.25 1075.0,1413.09 1075.5,1412.00 1076.1,1410.10 1076.6,1410.67 1077.2,1408.70 1077.7,1412.58 1078.3,1411.13 1078.8,1410.83 1079.4,1411.69 1079.9,1410.07 1080.5,1411.15 1081.0,1411.89 1081.6,1412.78 1082.1,1414.21 1082.7,1410.84 1083.2,1412.78 1083.8,1411.08 1084.3,1410.61 1084.9,1412.19 1085.4,1411.72 1086.0,1410.09 1086.5,1411.74 1087.1,1413.99 1087.6,1410.96 1088.2,1410.96 1088.7,1413.20 1089.3,1412.11 1089.8,1411.01 1090.4,1412.38 1090.9,1411.26 1091.5,1410.97 1092.0,1412.28 1092.6,1410.85 1093.1,1412.71 1093.7,1413.61 1094.2,1411.09 1094.8,1411.05 1095.3,1411.00 1095.9,1411.76 1096.4,1410.91 1097.0,1411.89 1097.5,1412.67 1098.1,1410.56 1098.6,1412.03 1099.2,1413.06 1099.7,1412.71 1100.3,1410.74 1100.8,1413.18 1101.4,1410.68 1101.9,1412.88 1102.5,1409.97 1103.0,1412.43 1103.6,1411.40 1104.1,1411.36 1104.7,1411.28 1105.2,1410.62 1105.8,1412.21 1106.3,1411.87 1106.9,1412.61 1107.4,1410.75 1108.0,1412.49 1108.5,1412.80 1109.1,1410.65 1109.6,1413.05 1110.2,1413.36 1110.7,1410.31 1111.3,1410.59 1111.8,1414.38 1112.4,1412.02 1112.9,1411.48 1113.5,1410.58 1114.0,1412.36 1114.6,1411.11 1115.1,1412.04 1115.7,1411.82 1116.2,1412.11 1116.8,1412.31 1117.3,1411.25 1117.9,1412.07 1118.4,1412.21 1119.0,1411.24 1119.5,1410.71 1120.1,1411.81 1120.6,1413.25 1121.2,1411.28 1121.7,1410.95 1122.3,1411.81 1122.8,1410.94 1123.4,1411.54 1123.9,1411.40 1124.5,1410.79 1125.0,1411.80 1125.6,1410.44 1126.1,1410.55 1126.7,1409.48 1127.2,1410.46 1127.8,1411.55 1128.3,1412.60 1128.9,1414.19 1129.4,1411.13 1130.0,1410.75 1130.5,1413.42 1131.1,1409.63 1131.6,1412.21 1132.2,1411.55 1132.7,1413.03 1133.3,1410.99 1133.8,1411.40 1134.4,1409.30 1134.9,1410.48 1135.5,1411.11 1136.0,1410.51 1136.6,1410.34 1137.1,1412.29 1137.7,1409.47 1138.2,1409.23 1138.8,1409.42 1139.3,1410.22 1139.9,1409.96 1140.4,1410.65 1141.0,1410.19 1141.5,1412.91 1142.1,1410.18 1142.6,1410.79 1143.2,1411.61 1143.7,1413.56 1144.3,1410.81 1144.8,1410.39 1145.4,1412.11 1145.9,1410.55 1146.5,1409.27 1147.0,1409.29 1147.6,1410.51 1148.1,1409.47 1148.7,1412.21 1149.2,1411.49 1149.8,1412.89 1150.3,1411.28 1150.9,1410.66 1151.4,1411.81 1152.0,1411.77 1152.5,1410.03 1153.1,1412.93 1153.6,1411.27 1154.2,1411.96 1154.7,1410.45 1155.3,1412.19 1155.8,1413.55 1156.4,1410.87 1156.9,1409.95 1157.5,1411.21 1158.0,1411.21 1158.6,1411.78 1159.1,1409.29 1159.7,1412.18 1160.2,1411.34 1160.8,1410.70 1161.3,1409.65 1161.9,1411.24 1162.4,1412.20 1163.0,1411.51 1163.5,1411.49 1164.1,1411.02 1164.6,1411.27 1165.2,1409.41 1165.7,1412.57 1166.3,1412.05 1166.8,1410.60 1167.4,1410.93 1167.9,1409.31 1168.5,1409.87 1169.0,1411.27 1169.6,1410.01 1170.1,1409.51 1170.7,1410.38 1171.2,1411.37 1171.8,1409.49 1172.3,1411.15 1172.9,1411.24 1173.4,1411.24 1174.0,1411.10 1174.5,1410.56 1175.1,1410.10 1175.6,1411.41 1176.2,1409.18 1176.7,1411.39 1177.3,1408.35 1177.8,1409.18 1178.4,1409.26 1178.9,1406.42 1179.5,1408.26 1180.0,1407.99 1180.6,1404.45 1181.1,1404.11 1181.7,1403.70 1182.2,1401.95 1182.8,1400.38 1183.3,1395.58 1183.9,1395.16 1184.4,1394.86 1185.0,1390.24 1185.5,1389.14 1186.1,1389.50 1186.6,1389.15 1187.2,1387.88 1187.7,1389.12 1188.3,1391.30 1188.8,1393.18 1189.4,1396.96 1189.9,1397.95 1190.5,1399.19 1191.0,1400.84 1191.6,1403.51 1192.1,1407.26 1192.7,1405.41 1193.2,1406.06 1193.8,1406.72 1194.3,1408.92 1194.9,1408.30 1195.4,1408.00 1196.0,1409.62 1196.5,1409.88 1197.1,1412.01 1197.6,1412.85 1198.2,1410.71 1198.7,1410.77 1199.3,1412.53 1199.8,1411.42 1200.4,1411.02 1200.9,1412.39 1201.5,1410.44 1202.0,1412.22 1202.6,1413.82 1203.1,1409.89 1203.7,1412.00 1204.2,1411.23 1204.8,1412.92 1205.3,1412.57 1205.9,1410.52 1206.4,1411.27 1207.0,1410.46 1207.5,1412.55 1208.1,1410.40 1208.6,1411.24 1209.2,1412.33 1209.7,1410.79 1210.3,1410.07 1210.8,1409.96 1211.4,1410.08 1211.9,1410.99 1212.5,1410.83 1213.0,1411.65 1213.6,1411.07 1214.1,1412.46 1214.7,1411.98 1215.2,1412.70 1215.8,1410.47 1216.3,1409.79 1216.9,1412.55 1217.4,1411.53 1218.0,1408.78 1218.5,1410.45 1219.1,1411.57 1219.6,1412.43 1220.2,1413.70 1220.7,1412.35 1221.3,1411.40 1221.8,1410.59 1222.4,1410.15 1222.9,1410.33 1223.5,1409.85 1224.0,1411.03 1224.6,1412.23 1225.1,1411.62 1225.7,1409.98 1226.2,1411.82 1226.8,1412.30 1227.3,1410.92 1227.9,1410.79 1228.4,1411.07 1229.0,1411.57 1229.5,1408.88 1230.1,1410.07 1230.6,1409.56 1231.2,1411.05 1231.7,1411.55 1232.3,1410.40 1232.8,1412.15 1233.4,1411.21 1233.9,1411.31 1234.5,1411.11 1235.0,1409.73 1235.6,1412.89 1236.1,1411.24 1236.7,1409.19 1237.2,1411.65 1237.8,1411.97 1238.3,1409.58 1238.9,1411.11 1239.4,1412.73 1240.0,1411.62 1240.5,1411.15 1241.1,1411.08 1241.6,1411.53 1242.2,1409.96 1242.7,1410.59 1243.3,1411.39 1243.8,1411.06 1244.4,1412.54 1244.9,1409.09 1245.5,1413.35 1246.0,1410.56 1246.6,1410.35 1247.1,1411.01 1247.7,1412.25 1248.2,1410.85 1248.8,1412.60 1249.3,1412.40 1249.9,1411.23 1250.4,1411.00 1251.0,1411.02 1251.5,1411.48 1252.1,1409.67 1252.6,1412.75 1253.2,1411.32 1253.7,1411.54 1254.3,1410.56 1254.8,1410.60 1255.4,1412.94 1255.9,1409.22 1256.5,1411.57 1257.0,1410.46 1257.6,1409.48 1258.1,1412.05 1258.7,1410.32 1259.2,1412.01 1259.8,1410.85 1260.3,1408.90 1260.9,1411.10 1261.4,1409.90 1262.0,1410.92 1262.5,1410.83 1263.1,1411.65 1263.6,1411.27 1264.2,1410.85 1264.7,1410.49 1265.3,1409.58 1265.8,1408.88 1266.4,1411.40 1266.9,1409.83 1267.5,1410.63 1268.0,1411.90 1268.6,1412.12 1269.1,1412.14 1269.7,1411.41 1270.2,1411.70 1270.8,1411.68 1271.3,1411.52 1271.9,1409.93 1272.4,1411.54 1273.0,1412.24 1273.5,1411.17 1274.1,1411.35 1274.6,1408.54 1275.2,1410.11 1275.7,1413.82 1276.3,1410.10 1276.8,1411.81 1277.4,1412.52 1277.9,1412.23 1278.5,1411.33 1279.0,1411.03 1279.6,1409.62 1280.1,1412.81 1280.7,1410.93 1281.2,1411.94 1281.8,1408.77 1282.3,1408.09 1282.9,1407.71 1283.4,1410.32 1284.0,1408.58 1284.5,1407.95 1285.1,1407.78 1285.6,1406.72 1286.2,1405.82 1286.7,1403.87 1287.3,1402.47 1287.8,1402.64 1288.4,1402.60 1288.9,1399.99 1289.5,1400.05 1290.0,1399.11 1290.6,1399.85 1291.1,1398.20 1291.7,1402.01 1292.2,1402.54 1292.8,1401.56 1293.3,1402.25 1293.9,1401.52 1294.4,1405.35 1295.0,1405.44 1295.5,1406.30 1296.1,1404.99 1296.6,1408.04 1297.2,1409.60 1297.7,1406.50 1298.3,1407.30 1298.8,1408.51 1299.4,1407.24 1299.9,1406.26 1300.5,1407.06 1301.0,1404.02 1301.6,1400.64 1302.1,1395.04 1302.7,1395.28 1303.2,1391.20 1303.8,1388.46 1304.3,1388.54 1304.9,1383.52 1305.4,1382.61 1306.0,1383.05 1306.5,1380.25 1307.1,1380.88 1307.6,1381.42 1308.2,1384.12 1308.7,1385.29 1309.3,1390.02 1309.8,1391.84 1310.4,1395.90 1310.9,1398.72 1311.5,1400.34 1312.0,1402.66 1312.6,1403.87 1313.1,1406.34 1313.7,1407.96 1314.2,1408.37 1314.8,1410.11 1315.3,1409.36 1315.9,1409.48 1316.4,1410.35 1317.0,1408.26 1317.5,1409.60 1318.1,1407.99 1318.6,1410.58 1319.2,1411.39 1319.7,1408.98 1320.3,1409.63 1320.8,1409.80 1321.4,1411.75 1321.9,1410.90 1322.5,1411.93 1323.0,1411.22 1323.6,1411.26 1324.1,1408.41 1324.7,1408.21 1325.2,1411.94 1325.8,1413.08 1326.3,1409.15 1326.9,1409.27 1327.4,1411.79 1328.0,1412.83 1328.5,1409.33 1329.1,1409.88 1329.6,1411.73 1330.2,1411.08 1330.7,1411.11 1331.3,1411.70 1331.8,1409.51 1332.4,1409.82 1332.9,1412.55 1333.5,1409.04 1334.0,1411.84 1334.6,1410.36 1335.1,1412.46 1335.7,1410.86 1336.2,1410.78 1336.8,1412.30 1337.3,1411.06 1337.9,1411.09 1338.4,1408.49 1339.0,1411.80 1339.5,1411.02 1340.1,1412.41 1340.6,1410.82 1341.2,1410.05 1341.7,1412.85 1342.3,1411.39 1342.8,1411.16 1343.4,1409.95 1343.9,1413.10 1344.5,1412.61 1345.0,1410.47 1345.6,1412.47 1346.1,1412.25 1346.7,1413.06 1347.2,1411.75 1347.8,1414.18 1348.3,1409.56 1348.9,1410.01 1349.4,1412.62 1350.0,1412.87 1350.5,1412.33 1351.1,1414.54 1351.6,1412.27 1352.2,1410.03 1352.7,1413.64 1353.3,1411.99 1353.8,1411.46 1354.4,1412.56 1354.9,1412.53 1355.5,1411.41 1356.0,1412.78 1356.6,1412.29 1357.1,1411.64 1357.7,1411.66 1358.2,1409.43 1358.8,1410.72 1359.3,1410.76 1359.9,1411.17 1360.4,1413.24 1361.0,1411.53 1361.5,1411.02 1362.1,1409.91 1362.6,1410.80 1363.2,1410.20 1363.7,1410.07 1364.3,1411.16 1364.8,1409.24 1365.4,1410.23 1365.9,1412.08 1366.5,1411.05 1367.0,1409.88 1367.6,1410.23 1368.1,1409.94 1368.7,1412.10 1369.2,1411.94 1369.8,1412.33 1370.3,1409.94 1370.9,1410.13 1371.4,1411.08 1372.0,1408.77 1372.5,1409.28 1373.1,1410.88 1373.6,1408.89 1374.2,1408.28 1374.7,1409.35 1375.3,1407.92 1375.8,1406.72 1376.4,1406.50 1376.9,1403.03 1377.5,1404.04 1378.0,1401.25 1378.6,1398.79 1379.1,1395.54 1379.7,1392.55 1380.2,1385.94 1380.8,1383.88 1381.3,1381.30 1381.9,1374.94 1382.4,1371.26 1383.0,1368.68 1383.5,1366.10 1384.1,1370.09 1384.6,1367.61 1385.2,1370.66 1385.7,1371.60 1386.3,1375.47 1386.8,1379.18 1387.4,1382.64 1387.9,1387.80 1388.5,1393.44 1389.0,1394.73 1389.6,1399.61 1390.1,1403.19 1390.7,1403.48 1391.2,1405.86 1391.8,1407.16 1392.3,1405.82 1392.9,1406.44 1393.4,1405.22 1394.0,1406.71 1394.5,1408.44 1395.1,1407.19 1395.6,1406.37 1396.2,1405.65 1396.7,1404.82 1397.3,1404.87 1397.8,1407.53 1398.4,1406.00 1398.9,1404.56 1399.5,1403.71 1400.0,1403.01 1400.6,1404.86 1401.1,1403.18 1401.7,1403.43 1402.2,1403.73 1402.8,1405.91 1403.3,1405.00 1403.9,1407.12 1404.4,1404.95 1405.0,1405.45 1405.5,1405.51 1406.1,1407.55 1406.6,1406.61 1407.2,1407.83 1407.7,1410.45 1408.3,1409.98 1408.8,1409.43 1409.4,1409.86 1409.9,1407.08 1410.5,1408.10 1411.0,1411.54 1411.6,1409.76 1412.1,1410.18 1412.7,1412.19 1413.2,1409.87 1413.8,1411.61 1414.3,1411.20 1414.9,1411.81 1415.4,1411.61 1416.0,1413.67 1416.5,1412.55 1417.1,1413.52 1417.6,1410.98 1418.2,1411.64 1418.7,1412.14 1419.3,1413.65 1419.8,1412.77 1420.4,1411.56 1420.9,1410.21 1421.5,1411.64 1422.0,1410.26 1422.6,1410.34 1423.1,1410.76 1423.7,1410.93 1424.2,1410.65 1424.8,1412.64 1425.3,1411.18 1425.9,1410.08 1426.4,1411.21 1427.0,1409.32 1427.5,1411.41 1428.1,1411.56 1428.6,1411.50 1429.2,1409.36 1429.7,1411.49 1430.3,1411.15 1430.8,1412.00 1431.4,1410.32 1431.9,1409.38 1432.5,1408.78 1433.0,1407.92 1433.6,1407.26 1434.1,1407.17 1434.7,1408.75 1435.2,1407.10 1435.8,1407.09 1436.3,1406.40 1436.9,1407.27 1437.4,1407.79 1438.0,1407.77 1438.5,1405.91 1439.1,1407.21 1439.6,1410.14 1440.2,1408.51 1440.7,1408.36 1441.3,1408.12 1441.8,1407.39 1442.4,1407.25 1442.9,1409.20 1443.5,1409.86 1444.0,1409.07 1444.6,1410.05 1445.1,1410.97 1445.7,1411.06 1446.2,1411.83 1446.8,1408.98 1447.3,1410.95 1447.9,1411.40 1448.4,1410.95 1449.0,1409.41 1449.5,1409.07 1450.1,1412.72 1450.6,1410.20 1451.2,1411.17 1451.7,1410.16 1452.3,1409.97 1452.8,1411.32 1453.4,1411.86 1453.9,1410.79 1454.5,1410.56 1455.0,1411.82 1455.6,1410.63 1456.1,1410.59 1456.7,1410.24 1457.2,1411.09 1457.8,1410.65 1458.3,1410.57 1458.9,1410.43 1459.4,1410.98 1460.0,1412.06 1460.5,1410.62 1461.1,1409.80 1461.6,1413.13 1462.2,1411.85 1462.7,1410.19 1463.3,1408.82 1463.8,1412.03 1464.4,1409.84 1464.9,1410.63 1465.5,1407.83 1466.0,1411.46 1466.6,1411.90 1467.1,1410.43 1467.7,1410.34 1468.2,1410.51 1468.8,1409.23 1469.3,1409.30 1469.9,1411.72 1470.4,1410.22 1471.0,1410.55 1471.5,1410.44 1472.1,1411.46 1472.6,1410.51 1473.2,1411.18 1473.7,1411.37 1474.3,1409.97 1474.8,1410.43 1475.4,1411.06 1475.9,1411.61 1476.5,1411.03 1477.0,1411.11 1477.6,1409.50 1478.1,1410.07 1478.7,1411.01 1479.2,1410.28 1479.8,1410.49 1480.3,1410.65 1480.9,1412.25 1481.4,1409.56 1482.0,1411.53 1482.5,1411.34 1483.1,1410.87 1483.6,1409.80 1484.2,1410.60 1484.7,1410.03 1485.3,1411.48 1485.8,1410.58 1486.4,1410.72 1486.9,1409.62 1487.5,1411.89 1488.0,1408.41 1488.6,1413.11 1489.1,1409.41 1489.7,1409.80 1490.2,1409.93 1490.8,1408.81 1491.3,1411.47 1491.9,1409.54 1492.4,1409.32 1493.0,1411.42 1493.5,1410.86 1494.1,1408.36 1494.6,1408.68 1495.2,1410.14 1495.7,1410.34 1496.3,1410.87 1496.8,1410.04 1497.4,1411.53 1497.9,1411.35 1498.5,1410.60 1499.0,1410.15 1499.6,1411.28 1500.1,1411.49 1500.7,1410.17 1501.2,1409.67 1501.8,1410.39 1502.3,1408.81 1502.9,1409.51 1503.4,1409.68 1504.0,1407.33 1504.5,1407.33 1505.1,1405.67 1505.6,1406.72 1506.2,1407.42 1506.7,1405.94 1507.3,1406.53 1507.8,1405.65 1508.4,1404.41 1508.9,1406.44 1509.5,1404.61 1510.0,1405.76 1510.6,1405.14 1511.1,1404.73 1511.7,1406.84 1512.2,1404.83 1512.8,1404.86 1513.3,1407.25 1513.9,1406.57 1514.4,1405.66 1515.0,1406.34 1515.5,1405.57 1516.1,1407.74 1516.6,1408.45 1517.2,1407.79 1517.7,1407.92 1518.3,1408.34 1518.8,1406.73 1519.4,1405.15 1519.9,1404.37 1520.5,1404.31 1521.0,1402.54 1521.6,1400.35 1522.1,1396.06 1522.7,1393.64 1523.2,1390.71 1523.8,1383.73 1524.3,1378.43 1524.9,1369.90 1525.4,1360.79 1526.0,1353.07 1526.5,1343.87 1527.1,1332.89 1527.6,1323.98 1528.2,1313.52 1528.7,1305.64 1529.3,1299.85 1529.8,1299.36 1530.4,1301.33 1530.9,1302.33 1531.5,1307.07 1532.0,1316.29 1532.6,1325.18 1533.1,1334.82 1533.7,1343.66 1534.2,1356.06 1534.8,1362.82 1535.3,1371.49 1535.9,1377.33 1536.4,1385.88 1537.0,1392.38 1537.5,1395.94 1538.1,1396.92 1538.6,1401.69 1539.2,1401.75 1539.7,1404.23 1540.3,1405.25 1540.8,1407.37 1541.4,1407.79 1541.9,1407.40 1542.5,1407.98 1543.0,1409.98 1543.6,1407.07 1544.1,1408.29 1544.7,1411.35 1545.2,1409.38 1545.8,1408.36 1546.3,1410.13 1546.9,1410.66 1547.4,1408.71 1548.0,1409.71 1548.5,1409.34 1549.1,1410.84 1549.6,1410.40 1550.2,1409.51 1550.7,1411.17 1551.3,1409.69 1551.8,1412.48 1552.4,1411.58 1552.9,1409.86 1553.5,1410.38 1554.0,1411.29 1554.6,1410.44 1555.1,1408.50 1555.7,1408.76 1556.2,1408.39 1556.8,1408.11 1557.3,1405.85 1557.9,1407.78 1558.4,1409.11 1559.0,1405.26 1559.5,1404.09 1560.1,1402.44 1560.6,1401.95 1561.2,1399.33 1561.7,1398.38 1562.3,1398.16 1562.8,1394.21 1563.4,1395.39 1563.9,1397.65 1564.5,1396.86 1565.0,1396.65 1565.6,1397.62 1566.1,1395.70 1566.7,1400.45 1567.2,1400.68 1567.8,1403.79 1568.3,1404.18 1568.9,1405.74 1569.4,1404.48 1570.0,1405.36 1570.5,1410.13 1571.1,1408.38 1571.6,1408.75 1572.2,1411.22 1572.7,1410.73 1573.3,1411.07 1573.8,1412.48 1574.4,1411.06 1574.9,1410.61 1575.5,1410.44 1576.0,1408.66 1576.6,1410.90 1577.1,1410.91 1577.7,1410.41 1578.2,1413.81 1578.8,1410.14 1579.3,1410.73 1579.9,1410.57 1580.4,1410.71 1581.0,1412.00 1581.5,1410.82 1582.1,1411.94 1582.6,1414.10 1583.2,1410.96 1583.7,1410.66 1584.3,1410.81 1584.8,1412.82 1585.4,1411.88 1585.9,1411.86 1586.5,1411.07 1587.0,1410.90 1587.6,1413.59 1588.1,1413.36 1588.7,1410.54 1589.2,1410.48 1589.8,1410.93 1590.3,1410.94 1590.9,1412.50 1591.4,1413.10 1592.0,1411.44 1592.5,1410.50 1593.1,1412.57 1593.6,1413.14 1594.2,1409.82 1594.7,1411.79 1595.3,1410.41 1595.8,1410.39 1596.4,1410.43 1596.9,1412.98 1597.5,1411.81 1598.0,1410.64 1598.6,1411.33 1599.1,1411.81 1599.7,1409.77 1600.2,1412.09 1600.8,1410.23 1601.3,1410.47 1601.9,1413.13 1602.4,1408.40 1603.0,1412.52 1603.5,1412.56 1604.1,1411.02 1604.6,1412.60 1605.2,1411.52 1605.7,1410.65 1606.3,1411.77 1606.8,1410.75 1607.4,1410.95 1607.9,1410.31 1608.5,1414.26 1609.0,1412.56 1609.6,1411.10 1610.1,1409.65 1610.7,1410.23 1611.2,1410.32 1611.8,1409.97 1612.3,1410.99 1612.9,1411.04 1613.4,1413.06 1614.0,1412.80 1614.5,1409.59 1615.1,1412.77 1615.6,1410.01 1616.2,1412.34 1616.7,1411.36 1617.3,1411.20 1617.8,1411.51 1618.4,1410.40 1618.9,1409.80 1619.5,1413.27 1620.0,1409.50 1620.6,1412.05 1621.1,1410.15 1621.7,1411.70 1622.2,1411.16 1622.8,1411.40 1623.3,1410.31 1623.9,1411.64 1624.4,1413.33 1625.0,1412.14 1625.5,1412.75 1626.1,1410.65 1626.6,1410.90 1627.2,1412.21 1627.7,1409.46 1628.3,1412.46 1628.8,1411.24 1629.4,1411.04 1629.9,1413.01 1630.5,1410.35 1631.0,1412.95 1631.6,1409.97 1632.1,1409.87 1632.7,1412.39 1633.2,1412.57 1633.8,1409.65 1634.3,1411.42 1634.9,1413.56 1635.4,1411.34 1636.0,1409.86 1636.5,1410.93 1637.1,1411.32 1637.6,1411.11 1638.2,1410.05 1638.7,1410.63 1639.3,1411.78 1639.8,1412.08 1640.4,1411.26 1640.9,1411.88 1641.5,1411.59 1642.0,1409.65 1642.6,1413.18 1643.1,1413.00 1643.7,1411.49 1644.2,1411.26 1644.8,1411.53 1645.3,1411.63 1645.9,1412.36 1646.4,1412.55 1647.0,1411.14 1647.5,1410.30 1648.1,1410.24 1648.6,1413.30 1649.2,1411.22 1649.7,1410.10 1650.3,1408.82 1650.8,1412.12 1651.4,1411.29 1651.9,1411.38 1652.5,1409.99 1653.0,1410.62 1653.6,1410.48 1654.1,1411.31 1654.7,1413.43 1655.2,1410.60 1655.8,1409.89 1656.3,1412.31 1656.9,1412.20 1657.4,1410.71 1658.0,1411.38 1658.5,1410.37 1659.1,1413.43 1659.6,1411.84 1660.2,1409.57 1660.7,1412.39 1661.3,1412.51 1661.8,1409.70 1662.4,1411.39 1662.9,1411.39 1663.5,1409.57 1664.0,1409.34 1664.6,1414.66 1665.1,1410.22 1665.7,1412.15 1666.2,1412.34 1666.8,1412.73 1667.3,1412.60 1667.9,1411.68 1668.4,1410.63 1669.0,1410.14 1669.5,1412.15 1670.1,1410.54 1670.6,1412.74 1671.2,1411.39 1671.7,1413.07 1672.3,1409.75 1672.8,1413.63 1673.4,1411.24 1673.9,1412.21 1674.5,1410.10 1675.0,1412.45 1675.6,1411.95 1676.1,1413.00 1676.7,1412.49 1677.2,1414.14 1677.8,1409.91 1678.3,1411.23 1678.9,1410.19 1679.4,1411.63 1680.0,1412.85 1680.5,1412.82 1681.1,1410.99 1681.6,1409.95 1682.2,1411.66 1682.7,1412.37 1683.3,1409.94 1683.8,1411.71 1684.4,1410.70 1684.9,1412.09 1685.5,1410.78 1686.0,1412.81 1686.6,1410.91 1687.1,1411.68 1687.7,1414.66 1688.2,1408.70 1688.8,1411.18 1689.3,1411.33 1689.9,1411.96 1690.4,1412.03 1691.0,1411.71 1691.5,1410.71 1692.1,1411.25 1692.6,1412.08 1693.2,1409.65 1693.7,1412.57 1694.3,1411.27 1694.8,1412.85 1695.4,1410.93 1695.9,1411.91 1696.5,1411.07 1697.0,1412.42 1697.6,1412.68 1698.1,1410.69 1698.7,1412.14 1699.2,1411.14 1699.8,1412.06 1700.3,1410.71 1700.9,1410.73 1701.4,1411.76 1702.0,1412.29 1702.5,1411.46 1703.1,1411.73 1703.6,1410.71 1704.2,1412.35 1704.7,1411.16 1705.3,1410.10 1705.8,1413.05 1706.4,1409.77 1706.9,1412.70 1707.5,1411.47 1708.0,1411.82 1708.6,1413.87 1709.1,1410.59 1709.7,1410.11 1710.2,1409.70 1710.8,1411.21 1711.3,1412.57 1711.9,1410.98 1712.4,1411.19 1713.0,1411.44 1713.5,1410.88 1714.1,1411.43 1714.6,1409.70 1715.2,1408.69 1715.7,1410.22 1716.3,1410.43 1716.8,1412.40 1717.4,1411.46" fill="none" stroke="#4a9af4" stroke-width="12.3" stroke-linejoin="round" stroke-linecap="butt" />
<polyline transform="scale(1,1.05)" points="161.4,1708.78 162.0,1708.08 162.5,1708.90 163.1,1708.50 163.6,1707.34 164.2,1709.17 164.7,1708.37 165.3,1708.88 165.8,1709.74 166.4,1708.61 166.9,1707.65 167.5,1707.92 168.0,1709.12 168.6,1707.35 169.1,1708.57 169.7,1708.64 170.2,1707.55 170.8,1708.48 171.3,1708.75 171.9,1707.79 172.4,1707.99 173.0,1708.72 173.5,1707.39 174.1,1707.69 174.6,1708.99 175.2,1708.36 175.7,1707.28 176.3,1708.29 176.8,1709.66 177.4,1707.19 177.9,1708.84 178.5,1708.80 179.0,1708.12 179.6,1708.67 180.1,1707.75 180.7,1709.33 181.2,1709.44 181.8,1707.58 182.3,1708.05 182.9,1708.29 183.4,1707.74 184.0,1708.42 184.5,1707.42 185.1,1708.56 185.6,1707.92 186.2,1708.09 186.7,1708.45 187.3,1708.76 187.8,1707.38 188.4,1708.64 188.9,1708.69 189.5,1707.97 190.0,1709.14 190.6,1707.48 191.1,1707.62 191.7,1708.27 192.2,1707.50 192.8,1708.97 193.3,1708.11 193.9,1709.18 194.4,1707.19 195.0,1707.25 195.5,1708.87 196.1,1707.16 196.6,1708.66 197.2,1707.30 197.7,1708.06 198.3,1708.69 198.8,1707.80 199.4,1707.01 199.9,1707.47 200.5,1708.62 201.0,1707.93 201.6,1708.29 202.1,1707.83 202.7,1707.97 203.2,1707.61 203.8,1707.01 204.3,1708.11 204.9,1707.84 205.4,1706.29 206.0,1707.72 206.5,1708.43 207.1,1709.14 207.6,1706.81 208.2,1707.88 208.7,1708.22 209.3,1708.38 209.8,1707.36 210.4,1708.24 210.9,1707.60 211.5,1707.88 212.0,1707.55 212.6,1708.17 213.1,1707.70 213.7,1708.21 214.2,1707.95 214.8,1708.69 215.3,1709.25 215.9,1708.02 216.4,1707.57 217.0,1707.95 217.5,1707.75 218.1,1706.97 218.6,1708.19 219.2,1707.84 219.7,1708.85 220.3,1708.14 220.8,1708.91 221.4,1708.82 221.9,1707.93 222.5,1708.07 223.0,1707.95 223.6,1708.02 224.1,1708.95 224.7,1708.01 225.2,1708.10 225.8,1707.85 226.3,1709.44 226.9,1708.20 227.4,1708.37 228.0,1707.86 228.5,1708.63 229.1,1707.91 229.6,1707.98 230.2,1707.00 230.7,1707.28 231.3,1708.58 231.8,1708.99 232.4,1707.25 232.9,1708.55 233.5,1708.57 234.0,1710.30 234.6,1707.72 235.1,1707.94 235.7,1707.67 236.2,1709.00 236.8,1709.16 237.3,1708.22 237.9,1709.49 238.4,1709.91 239.0,1708.07 239.5,1708.79 240.1,1708.26 240.6,1707.94 241.2,1708.06 241.7,1708.22 242.3,1707.47 242.8,1708.33 243.4,1708.95 243.9,1707.71 244.5,1708.01 245.0,1707.73 245.6,1708.65 246.1,1708.30 246.7,1709.03 247.2,1708.14 247.8,1707.32 248.3,1708.76 248.9,1708.15 249.4,1709.17 250.0,1708.86 250.5,1706.50 251.1,1706.93 251.6,1708.36 252.2,1707.80 252.7,1706.73 253.3,1707.95 253.8,1709.24 254.4,1708.77 254.9,1707.68 255.5,1708.52 256.0,1709.03 256.6,1708.17 257.1,1709.57 257.7,1707.79 258.2,1709.80 258.8,1709.38 259.3,1708.66 259.9,1708.44 260.4,1708.30 261.0,1707.61 261.5,1708.97 262.1,1709.18 262.6,1708.82 263.2,1708.46 263.7,1708.33 264.3,1707.59 264.8,1707.78 265.4,1707.21 265.9,1708.58 266.5,1707.59 267.0,1708.83 267.6,1707.75 268.1,1709.24 268.7,1709.34 269.2,1709.31 269.8,1709.03 270.3,1707.99 270.9,1707.98 271.4,1707.67 272.0,1708.42 272.5,1709.37 273.1,1707.38 273.6,1709.87 274.2,1707.72 274.7,1707.28 275.3,1708.35 275.8,1708.86 276.4,1707.82 276.9,1707.33 277.5,1709.30 278.0,1707.25 278.6,1708.73 279.1,1708.12 279.7,1707.73 280.2,1708.01 280.8,1707.19 281.3,1707.16 281.9,1708.16 282.4,1707.18 283.0,1707.36 283.5,1708.93 284.1,1709.17 284.6,1708.66 285.2,1708.50 285.7,1707.66 286.3,1707.89 286.8,1707.29 287.4,1705.95 287.9,1707.93 288.5,1707.93 289.0,1708.47 289.6,1706.89 290.1,1708.55 290.7,1707.33 291.2,1706.82 291.8,1707.50 292.3,1708.34 292.9,1707.65 293.4,1707.96 294.0,1707.02 294.5,1707.99 295.1,1708.35 295.6,1707.02 296.2,1707.95 296.7,1706.69 297.3,1707.82 297.8,1706.59 298.4,1707.95 298.9,1707.65 299.5,1706.86 300.0,1707.92 300.6,1706.96 301.1,1707.73 301.7,1707.01 302.2,1708.05 302.8,1707.27 303.3,1708.69 303.9,1708.00 304.4,1708.06 305.0,1706.73 305.5,1706.19 306.1,1707.11 306.6,1708.98 307.2,1707.01 307.7,1708.56 308.3,1708.59 308.8,1707.27 309.4,1707.54 309.9,1708.63 310.5,1707.51 311.0,1707.41 311.6,1707.29 312.1,1707.75 312.7,1707.62 313.2,1708.58 313.8,1707.87 314.3,1708.55 314.9,1707.63 315.4,1709.50 316.0,1707.65 316.5,1707.66 317.1,1707.22 317.6,1706.61 318.2,1707.23 318.7,1708.03 319.3,1707.19 319.8,1708.52 320.4,1706.79 320.9,1706.79 321.5,1708.23 322.0,1708.31 322.6,1707.26 323.1,1708.86 323.7,1709.11 324.2,1708.41 324.8,1707.26 325.3,1709.09 325.9,1708.03 326.4,1708.13 327.0,1708.63 327.5,1707.82 328.1,1709.42 328.6,1707.93 329.2,1709.15 329.7,1708.97 330.3,1709.71 330.8,1708.84 331.4,1709.12 331.9,1708.26 332.5,1708.40 333.0,1708.16 333.6,1709.16 334.1,1708.19 334.7,1709.75 335.2,1708.63 335.8,1707.89 336.3,1708.29 336.9,1709.62 337.4,1708.48 338.0,1709.21 338.5,1707.63 339.1,1709.04 339.6,1709.24 340.2,1709.01 340.7,1709.18 341.3,1707.89 341.8,1707.38 342.4,1707.59 342.9,1709.09 343.5,1708.74 344.0,1708.99 344.6,1707.99 345.1,1708.93 345.7,1707.23 346.2,1708.58 346.8,1707.52 347.3,1707.92 347.9,1708.66 348.4,1708.78 349.0,1708.01 349.5,1707.84 350.1,1709.01 350.6,1708.76 351.2,1707.51 351.7,1708.16 352.3,1707.77 352.8,1708.57 353.4,1708.17 353.9,1708.12 354.5,1707.85 355.0,1707.36 355.6,1708.49 356.1,1707.96 356.7,1706.00 357.2,1707.33 357.8,1707.75 358.3,1707.00 358.9,1706.83 359.4,1707.00 360.0,1707.70 360.5,1706.79 361.1,1707.74 361.6,1708.45 362.2,1708.17 362.7,1708.20 363.3,1707.36 363.8,1708.36 364.4,1707.54 364.9,1708.16 365.5,1706.73 366.0,1708.42 366.6,1707.12 367.1,1707.55 367.7,1708.27 368.2,1707.50 368.8,1707.14 369.3,1707.32 369.9,1708.16 370.4,1708.09 371.0,1707.66 371.5,1706.59 372.1,1706.55 372.6,1707.03 373.2,1706.74 373.7,1705.27 374.3,1704.74 374.8,1705.08 375.4,1704.60 375.9,1703.01 376.5,1701.13 377.0,1702.05 377.6,1699.84 378.1,1699.03 378.7,1696.09 379.2,1696.11 379.8,1695.64 380.3,1695.36 380.9,1694.14 381.4,1693.59 382.0,1693.71 382.5,1695.09 383.1,1696.29 383.6,1697.18 384.2,1696.82 384.7,1698.65 385.3,1700.21 385.8,1702.09 386.4,1702.82 386.9,1703.56 387.5,1703.04 388.0,1705.73 388.6,1705.52 389.1,1706.25 389.7,1706.04 390.2,1706.70 390.8,1706.87 391.3,1707.02 391.9,1706.83 392.4,1708.04 393.0,1708.29 393.5,1707.34 394.1,1707.18 394.6,1707.22 395.2,1707.61 395.7,1708.85 396.3,1707.77 396.8,1709.17 397.4,1707.00 397.9,1707.14 398.5,1707.36 399.0,1707.32 399.6,1708.16 400.1,1709.16 400.7,1707.43 401.2,1708.19 401.8,1708.89 402.3,1709.65 402.9,1708.11 403.4,1708.66 404.0,1708.89 404.5,1708.02 405.1,1708.34 405.6,1707.69 406.2,1707.30 406.7,1707.50 407.3,1708.71 407.8,1708.83 408.4,1708.05 408.9,1707.00 409.5,1708.71 410.0,1707.82 410.6,1708.85 411.1,1707.84 411.7,1706.92 412.2,1707.48 412.8,1707.16 413.3,1708.67 413.9,1705.86 414.4,1706.93 415.0,1706.99 415.5,1705.62 416.1,1707.17 416.6,1707.09 417.2,1707.03 417.7,1706.77 418.3,1705.85 418.8,1706.32 419.4,1705.08 419.9,1705.18 420.5,1705.11 421.0,1704.85 421.6,1705.06 422.1,1704.21 422.7,1704.62 423.2,1704.39 423.8,1705.00 424.3,1705.37 424.9,1704.84 425.4,1706.63 426.0,1707.23 426.5,1706.51 427.1,1706.41 427.6,1706.12 428.2,1706.63 428.7,1706.76 429.3,1707.54 429.8,1707.17 430.4,1707.76 430.9,1707.74 431.5,1707.06 432.0,1706.50 432.6,1706.64 433.1,1706.75 433.7,1707.50 434.2,1708.36 434.8,1706.89 435.3,1708.00 435.9,1707.43 436.4,1708.44 437.0,1709.14 437.5,1708.31 438.1,1707.80 438.6,1707.92 439.2,1708.49 439.7,1707.37 440.3,1707.03 440.8,1707.70 441.4,1708.71 441.9,1707.08 442.5,1708.36 443.0,1708.19 443.6,1707.42 444.1,1707.02 444.7,1706.42 445.2,1706.75 445.8,1707.68 446.3,1708.08 446.9,1707.12 447.4,1707.16 448.0,1707.01 448.5,1709.27 449.1,1706.58 449.6,1706.51 450.2,1708.29 450.7,1706.77 451.3,1708.24 451.8,1706.95 452.4,1708.26 452.9,1708.50 453.5,1707.20 454.0,1707.51 454.6,1706.82 455.1,1708.14 455.7,1707.29 456.2,1706.84 456.8,1707.82 457.3,1707.77 457.9,1707.47 458.4,1707.20 459.0,1708.18 459.5,1707.03 460.1,1706.88 460.6,1707.32 461.2,1707.86 461.7,1707.21 462.3,1707.04 462.8,1706.76 463.4,1706.91 463.9,1707.00 464.5,1708.88 465.0,1706.20 465.6,1707.14 466.1,1707.51 466.7,1706.84 467.2,1706.62 467.8,1707.85 468.3,1708.44 468.9,1708.24 469.4,1707.47 470.0,1707.16 470.5,1707.97 471.1,1706.35 471.6,1706.94 472.2,1708.61 472.7,1707.89 473.3,1707.72 473.8,1707.50 474.4,1707.38 474.9,1707.07 475.5,1708.11 476.0,1708.08 476.6,1708.11 477.1,1706.03 477.7,1708.70 478.2,1708.42 478.8,1708.95 479.3,1707.45 479.9,1706.32 480.4,1706.97 481.0,1707.28 481.5,1709.37 482.1,1707.42 482.6,1707.65 483.2,1708.72 483.7,1708.66 484.3,1708.74 484.8,1707.74 485.4,1709.42 485.9,1708.40 486.5,1707.53 487.0,1708.45 487.6,1707.17 488.1,1707.31 488.7,1707.73 489.2,1707.39 489.8,1707.91 490.3,1707.82 490.9,1707.97 491.4,1707.70 492.0,1709.10 492.5,1707.58 493.1,1707.89 493.6,1707.60 494.2,1707.81 494.7,1707.29 495.3,1709.70 495.8,1707.98 496.4,1708.75 496.9,1707.88 497.5,1707.20 498.0,1707.74 498.6,1707.60 499.1,1707.19 499.7,1708.13 500.2,1709.18 500.8,1708.15 501.3,1708.74 501.9,1708.90 502.4,1706.58 503.0,1709.30 503.5,1706.98 504.1,1709.21 504.6,1708.04 505.2,1708.29 505.7,1709.42 506.3,1708.57 506.8,1706.66 507.4,1706.49 507.9,1706.90 508.5,1708.45 509.0,1707.94 509.6,1708.33 510.1,1707.97 510.7,1708.50 511.2,1706.87 511.8,1706.27 512.3,1707.07 512.9,1708.10 513.4,1706.77 514.0,1705.82 514.5,1707.11 515.1,1707.98 515.6,1707.79 516.2,1707.24 516.7,1707.12 517.3,1705.96 517.8,1707.43 518.4,1708.78 518.9,1707.04 519.5,1708.52 520.0,1706.42 520.6,1706.93 521.1,1706.78 521.7,1706.97 522.2,1705.52 522.8,1707.40 523.3,1705.98 523.9,1704.23 524.4,1705.68 525.0,1704.62 525.5,1702.74 526.1,1702.52 526.6,1701.95 527.2,1700.45 527.7,1698.61 528.3,1696.16 528.8,1695.01 529.4,1693.85 529.9,1692.66 530.5,1689.84 531.0,1688.49 531.6,1687.44 532.1,1685.81 532.7,1684.46 533.2,1685.52 533.8,1686.48 534.3,1687.90 534.9,1689.19 535.4,1690.35 536.0,1692.29 536.5,1694.37 537.1,1695.76 537.6,1697.54 538.2,1698.52 538.7,1700.93 539.3,1702.53 539.8,1703.06 540.4,1704.23 540.9,1705.21 541.5,1704.95 542.0,1705.73 542.6,1705.89 543.1,1707.14 543.7,1706.22 544.2,1707.19 544.8,1705.84 545.3,1708.62 545.9,1707.85 546.4,1706.94 547.0,1707.53 547.5,1708.97 548.1,1707.73 548.6,1706.64 549.2,1707.70 549.7,1707.41 550.3,1708.15 550.8,1707.94 551.4,1706.70 551.9,1708.05 552.5,1708.59 553.0,1708.93 553.6,1708.20 554.1,1709.30 554.7,1709.02 555.2,1708.55 555.8,1709.12 556.3,1706.23 556.9,1708.92 557.4,1709.07 558.0,1707.97 558.5,1708.63 559.1,1707.58 559.6,1707.93 560.2,1707.92 560.7,1707.30 561.3,1707.89 561.8,1706.78 562.4,1707.94 562.9,1709.25 563.5,1709.39 564.0,1708.02 564.6,1709.28 565.1,1708.33 565.7,1707.13 566.2,1707.59 566.8,1708.00 567.3,1708.02 567.9,1708.50 568.4,1707.53 569.0,1707.74 569.5,1708.77 570.1,1708.13 570.6,1708.33 571.2,1707.99 571.7,1708.54 572.3,1708.58 572.8,1707.48 573.4,1708.85 573.9,1707.57 574.5,1708.28 575.0,1707.82 575.6,1708.50 576.1,1708.23 576.7,1708.43 577.2,1708.12 577.8,1707.94 578.3,1708.16 578.9,1708.00 579.4,1707.42 580.0,1706.89 580.5,1708.38 581.1,1708.91 581.6,1707.31 582.2,1708.35 582.7,1707.56 583.3,1708.12 583.8,1708.61 584.4,1708.24 584.9,1707.81 585.5,1706.59 586.0,1707.82 586.6,1707.95 587.1,1708.84 587.7,1707.46 588.2,1707.88 588.8,1708.09 589.3,1708.84 589.9,1707.10 590.4,1708.53 591.0,1707.87 591.5,1707.45 592.1,1706.96 592.6,1707.24 593.2,1708.51 593.7,1707.55 594.3,1707.24 594.8,1707.63 595.4,1708.86 595.9,1708.61 596.5,1708.49 597.0,1708.60 597.6,1708.45 598.1,1707.61 598.7,1707.12 599.2,1708.77 599.8,1707.80 600.3,1707.98 600.9,1707.56 601.4,1708.24 602.0,1708.84 602.5,1707.59 603.1,1707.99 603.6,1707.93 604.2,1708.35 604.7,1707.87 605.3,1707.91 605.8,1707.46 606.4,1707.91 606.9,1707.37 607.5,1708.40 608.0,1707.78 608.6,1709.05 609.1,1707.40 609.7,1707.15 610.2,1708.52 610.8,1708.32 611.3,1706.90 611.9,1709.72 612.4,1707.75 613.0,1708.66 613.5,1707.59 614.1,1708.35 614.6,1708.65 615.2,1707.52 615.7,1708.11 616.3,1708.48 616.8,1709.32 617.4,1708.56 617.9,1708.86 618.5,1708.29 619.0,1708.37 619.6,1708.27 620.1,1707.73 620.7,1706.57 621.2,1706.68 621.8,1708.11 622.3,1708.20 622.9,1707.90 623.4,1707.44 624.0,1707.50 624.5,1706.96 625.1,1708.69 625.6,1706.68 626.2,1709.02 626.7,1707.56 627.3,1709.67 627.8,1708.22 628.4,1707.66 628.9,1707.97 629.5,1707.55 630.0,1708.97 630.6,1707.88 631.1,1708.07 631.7,1707.28 632.2,1708.32 632.8,1706.85 633.3,1707.44 633.9,1708.81 634.4,1706.45 635.0,1708.14 635.5,1708.77 636.1,1708.02 636.6,1708.98 637.2,1708.84 637.7,1708.30 638.3,1706.82 638.8,1707.62 639.4,1707.73 639.9,1708.67 640.5,1707.90 641.0,1707.76 641.6,1707.05 642.1,1707.82 642.7,1708.12 643.2,1706.23 643.8,1707.92 644.3,1708.23 644.9,1707.77 645.4,1707.86 646.0,1707.55 646.5,1708.58 647.1,1707.54 647.6,1708.77 648.2,1708.17 648.7,1706.56 649.3,1707.69 649.8,1708.09 650.4,1708.48 650.9,1707.96 651.5,1707.77 652.0,1708.43 652.6,1708.97 653.1,1706.56 653.7,1707.39 654.2,1709.01 654.8,1708.02 655.3,1707.11 655.9,1709.01 656.4,1709.18 657.0,1707.62 657.5,1708.31 658.1,1707.78 658.6,1708.01 659.2,1708.44 659.7,1707.54 660.3,1707.67 660.8,1707.49 661.4,1706.48 661.9,1708.00 662.5,1708.25 663.0,1707.76 663.6,1707.67 664.1,1708.19 664.7,1707.11 665.2,1706.84 665.8,1707.89 666.3,1707.66 666.9,1708.77 667.4,1706.51 668.0,1707.46 668.5,1706.61 669.1,1708.96 669.6,1707.14 670.2,1707.95 670.7,1705.81 671.3,1706.67 671.8,1707.86 672.4,1707.00 672.9,1706.82 673.5,1707.69 674.0,1707.24 674.6,1707.20 675.1,1707.22 675.7,1706.61 676.2,1707.93 676.8,1707.41 677.3,1706.40 677.9,1705.95 678.4,1704.53 679.0,1704.52 679.5,1705.56 680.1,1702.87 680.6,1702.23 681.2,1702.22 681.7,1699.99 682.3,1697.32 682.8,1694.88 683.4,1691.61 683.9,1689.01 684.5,1685.88 685.0,1683.82 685.6,1680.73 686.1,1677.42 686.7,1677.35 687.2,1676.17 687.8,1676.48 688.3,1677.59 688.9,1679.04 689.4,1681.02 690.0,1684.60 690.5,1687.50 691.1,1689.54 691.6,1692.52 692.2,1695.51 692.7,1698.09 693.3,1699.76 693.8,1700.54 694.4,1703.75 694.9,1703.55 695.5,1704.06 696.0,1704.92 696.6,1706.03 697.1,1706.18 697.7,1704.97 698.2,1705.68 698.8,1705.79 699.3,1706.48 699.9,1707.18 700.4,1706.70 701.0,1708.59 701.5,1707.87 702.1,1708.33 702.6,1707.86 703.2,1706.51 703.7,1707.77 704.3,1706.43 704.8,1706.79 705.4,1707.68 705.9,1707.59 706.5,1708.02 707.0,1707.43 707.6,1708.40 708.1,1708.23 708.7,1707.94 709.2,1707.20 709.8,1707.32 710.3,1708.49 710.9,1709.60 711.4,1707.47 712.0,1707.95 712.5,1707.24 713.1,1706.15 713.6,1708.33 714.2,1708.03 714.7,1708.42 715.3,1707.52 715.8,1707.40 716.4,1709.05 716.9,1707.37 717.5,1708.53 718.0,1708.73 718.6,1708.08 719.1,1707.70 719.7,1708.29 720.2,1706.90 720.8,1707.96 721.3,1707.91 721.9,1707.20 722.4,1708.01 723.0,1708.86 723.5,1709.87 724.1,1707.50 724.6,1708.60 725.2,1708.61 725.7,1708.13 726.3,1707.95 726.8,1708.72 727.4,1708.91 727.9,1707.41 728.5,1709.49 729.0,1708.35 729.6,1708.55 730.1,1708.09 730.7,1709.37 731.2,1707.59 731.8,1708.21 732.3,1708.66 732.9,1707.93 733.4,1708.42 734.0,1708.95 734.5,1709.41 735.1,1708.46 735.6,1708.25 736.2,1708.91 736.7,1708.65 737.3,1707.85 737.8,1709.17 738.4,1708.37 738.9,1707.94 739.5,1709.24 740.0,1708.96 740.6,1708.01 741.1,1709.03 741.7,1708.06 742.2,1708.16 742.8,1707.84 743.3,1709.13 743.9,1708.44 744.4,1708.94 745.0,1707.61 745.5,1708.22 746.1,1707.33 746.6,1708.05 747.2,1708.21 747.7,1708.35 748.3,1707.40 748.8,1709.21 749.4,1707.32 749.9,1709.29 750.5,1708.37 751.0,1709.19 751.6,1707.74 752.1,1708.53 752.7,1708.84 753.2,1709.94 753.8,1708.62 754.3,1709.40 754.9,1708.15 755.4,1708.56 756.0,1707.17 756.5,1706.83 757.1,1707.02 757.6,1705.06 758.2,1704.36 758.7,1705.05 759.3,1705.55 759.8,1703.61 760.4,1700.29 760.9,1697.15 761.5,1691.79 762.0,1684.72 762.6,1676.18 763.1,1663.89 763.7,1652.94 764.2,1640.98 764.8,1629.04 765.3,1616.26 765.9,1601.04 766.4,1587.88 767.0,1581.27 767.5,1581.70 768.1,1590.39 768.6,1602.62 769.2,1617.06 769.7,1631.65 770.3,1643.67 770.8,1655.36 771.4,1664.84 771.9,1675.09 772.5,1684.56 773.0,1693.24 773.6,1695.92 774.1,1700.22 774.7,1702.71 775.2,1703.06 775.8,1703.67 776.3,1706.50 776.9,1705.38 777.4,1705.61 778.0,1706.53 778.5,1706.74 779.1,1706.02 779.6,1706.14 780.2,1707.47 780.7,1707.21 781.3,1707.78 781.8,1707.00 782.4,1709.62 782.9,1708.15 783.5,1709.23 784.0,1707.48 784.6,1707.75 785.1,1707.48 785.7,1707.87 786.2,1708.13 786.8,1707.45 787.3,1707.06 787.9,1707.30 788.4,1707.63 789.0,1708.33 789.5,1706.64 790.1,1707.16 790.6,1707.97 791.2,1708.62 791.7,1707.35 792.3,1707.85 792.8,1707.49 793.4,1707.43 793.9,1707.70 794.5,1707.21 795.0,1707.40 795.6,1707.34 796.1,1708.64 796.7,1707.52 797.2,1708.69 797.8,1707.43 798.3,1707.61 798.9,1706.90 799.4,1707.61 800.0,1708.46 800.5,1708.60 801.1,1706.73 801.6,1709.21 802.2,1707.71 802.7,1707.85 803.3,1708.19 803.8,1707.54 804.4,1706.90 804.9,1707.54 805.5,1707.26 806.0,1708.87 806.6,1707.55 807.1,1705.95 807.7,1708.46 808.2,1707.95 808.8,1707.50 809.3,1706.21 809.9,1709.38 810.4,1707.22 811.0,1707.07 811.5,1706.61 812.1,1706.65 812.6,1705.86 813.2,1705.46 813.7,1704.86 814.3,1703.81 814.8,1703.85 815.4,1701.59 815.9,1702.11 816.5,1700.53 817.0,1698.50 817.6,1696.42 818.1,1692.79 818.7,1688.94 819.2,1684.28 819.8,1679.46 820.3,1674.04 820.9,1668.73 821.4,1662.86 822.0,1655.87 822.5,1644.11 823.1,1629.57 823.6,1610.76 824.2,1590.86 824.7,1572.20 825.3,1554.40 825.8,1533.06 826.4,1516.30 826.9,1497.13 827.5,1482.32 828.0,1472.96 828.6,1471.10 829.1,1478.55 829.7,1490.85 830.2,1507.27 830.8,1524.95 831.3,1544.67 831.9,1564.44 832.4,1583.00 833.0,1602.36 833.5,1620.79 834.1,1637.67 834.6,1649.73 835.2,1660.79 835.7,1666.31 836.3,1673.48 836.8,1677.02 837.4,1683.22 837.9,1687.37 838.5,1691.51 839.0,1694.78 839.6,1696.77 840.1,1701.48 840.7,1700.05 841.2,1702.79 841.8,1702.68 842.3,1702.78 842.9,1704.82 843.4,1705.99 844.0,1706.41 844.5,1705.42 845.1,1706.38 845.6,1707.69 846.2,1707.79 846.7,1708.25 847.3,1707.48 847.8,1706.39 848.4,1706.75 848.9,1707.78 849.5,1706.85 850.0,1706.60 850.6,1707.97 851.1,1708.48 851.7,1707.04 852.2,1707.33 852.8,1707.34 853.3,1708.02 853.9,1707.13 854.4,1707.05 855.0,1707.10 855.5,1706.16 856.1,1707.80 856.6,1707.81 857.2,1706.58 857.7,1706.42 858.3,1706.24 858.8,1705.84 859.4,1704.99 859.9,1705.66 860.5,1705.34 861.0,1705.17 861.6,1703.36 862.1,1703.77 862.7,1702.30 863.2,1704.09 863.8,1701.34 864.3,1701.92 864.9,1702.76 865.4,1700.15 866.0,1701.18 866.5,1699.71 867.1,1701.40 867.6,1700.44 868.2,1700.31 868.7,1700.16 869.3,1701.36 869.8,1701.32 870.4,1702.02 870.9,1702.46 871.5,1701.86 872.0,1702.86 872.6,1704.00 873.1,1703.89 873.7,1704.24 874.2,1704.45 874.8,1704.46 875.3,1705.16 875.9,1705.46 876.4,1707.55 877.0,1705.92 877.5,1705.69 878.1,1706.87 878.6,1706.65 879.2,1706.55 879.7,1707.71 880.3,1707.15 880.8,1706.81 881.4,1707.87 881.9,1708.92 882.5,1708.53 883.0,1707.84 883.6,1707.92 884.1,1707.71 884.7,1708.26 885.2,1707.64 885.8,1708.05 886.3,1707.70 886.9,1707.97 887.4,1706.43 888.0,1707.83 888.5,1707.47 889.1,1707.64 889.6,1708.15 890.2,1707.01 890.7,1707.29 891.3,1708.04 891.8,1707.97 892.4,1708.58 892.9,1708.19 893.5,1706.83 894.0,1708.25 894.6,1707.87 895.1,1708.08 895.7,1708.70 896.2,1708.08 896.8,1707.87 897.3,1706.89 897.9,1707.72 898.4,1708.60 899.0,1708.40 899.5,1707.18 900.1,1707.07 900.6,1707.76 901.2,1708.34 901.7,1707.49 902.3,1708.94 902.8,1709.46 903.4,1707.15 903.9,1709.32 904.5,1709.20 905.0,1706.34 905.6,1706.53 906.1,1707.47 906.7,1707.46 907.2,1706.72 907.8,1707.16 908.3,1707.53 908.9,1706.16 909.4,1704.99 910.0,1706.12 910.5,1706.66 911.1,1706.91 911.6,1706.39 912.2,1703.61 912.7,1704.39 913.3,1704.99 913.8,1704.34 914.4,1705.25 914.9,1705.15 915.5,1705.48 916.0,1705.95 916.6,1704.68 917.1,1706.48 917.7,1704.44 918.2,1704.91 918.8,1705.12 919.3,1705.51 919.9,1706.86 920.4,1707.82 921.0,1705.82 921.5,1707.60 922.1,1708.14 922.6,1707.67 923.2,1706.21 923.7,1708.10 924.3,1708.54 924.8,1706.75 925.4,1707.76 925.9,1708.93 926.5,1708.49 927.0,1709.11 927.6,1709.25 928.1,1707.49 928.7,1707.56 929.2,1709.07 929.8,1708.22 930.3,1709.07 930.9,1708.87 931.4,1707.90 932.0,1709.13 932.5,1708.76 933.1,1707.98 933.6,1708.04 934.2,1707.98 934.7,1708.57 935.3,1709.01 935.8,1708.69 936.4,1708.17 936.9,1707.29 937.5,1708.31 938.0,1708.15 938.6,1707.73 939.1,1707.55 939.7,1709.26 940.2,1709.20 940.8,1707.12 941.3,1708.78 941.9,1708.34 942.4,1709.31 943.0,1707.43 943.5,1708.68 944.1,1707.56 944.6,1707.77 945.2,1708.05 945.7,1708.55 946.3,1707.94 946.8,1706.72 947.4,1708.38 947.9,1707.76 948.5,1707.57 949.0,1706.48 949.6,1707.36 950.1,1708.45 950.7,1708.48 951.2,1707.89 951.8,1706.89 952.3,1708.02 952.9,1706.82 953.4,1707.93 954.0,1706.95 954.5,1706.20 955.1,1707.52 955.6,1707.25 956.2,1707.11 956.7,1706.13 957.3,1705.74 957.8,1706.88 958.4,1705.52 958.9,1706.01 959.5,1705.10 960.0,1702.02 960.6,1701.10 961.1,1697.93 961.7,1697.65 962.2,1695.05 962.8,1693.32 963.3,1690.49 963.9,1687.98 964.4,1685.59 965.0,1683.79 965.5,1683.88 966.1,1682.80 966.6,1683.92 967.2,1683.72 967.7,1684.27 968.3,1686.10 968.8,1689.82 969.4,1689.74 969.9,1693.59 970.5,1695.76 971.0,1696.59 971.6,1700.80 972.1,1701.73 972.7,1702.98 973.2,1703.68 973.8,1705.16 974.3,1705.81 974.9,1707.16 975.4,1706.60 976.0,1708.84 976.5,1706.90 977.1,1707.58 977.6,1707.12 978.2,1708.26 978.7,1707.42 979.3,1708.79 979.8,1708.53 980.4,1708.13 980.9,1706.68 981.5,1707.86 982.0,1707.83 982.6,1708.34 983.1,1706.91 983.7,1708.37 984.2,1708.41 984.8,1707.88 985.3,1708.14 985.9,1707.59 986.4,1708.61 987.0,1707.10 987.5,1707.46 988.1,1709.77 988.6,1707.90 989.2,1707.92 989.7,1707.30 990.3,1707.78 990.8,1708.15 991.4,1707.12 991.9,1706.93 992.5,1707.67 993.0,1709.10 993.6,1707.75 994.1,1709.81 994.7,1708.83 995.2,1708.43 995.8,1707.63 996.3,1708.33 996.9,1709.85 997.4,1707.01 998.0,1708.23 998.5,1709.14 999.1,1708.63 999.6,1708.01 1000.2,1707.59 1000.7,1708.56 1001.3,1706.63 1001.8,1709.14 1002.4,1707.24 1002.9,1706.40 1003.5,1707.58 1004.0,1707.66 1004.6,1707.49 1005.1,1706.56 1005.7,1707.16 1006.2,1708.22 1006.8,1707.92 1007.3,1708.46 1007.9,1707.73 1008.4,1706.82 1009.0,1707.35 1009.5,1707.59 1010.1,1707.67 1010.6,1707.70 1011.2,1707.63 1011.7,1707.89 1012.3,1707.87 1012.8,1706.72 1013.4,1708.04 1013.9,1707.59 1014.5,1706.74 1015.0,1706.95 1015.6,1706.42 1016.1,1706.38 1016.7,1704.46 1017.2,1703.85 1017.8,1705.01 1018.3,1703.16 1018.9,1703.15 1019.4,1701.74 1020.0,1699.14 1020.5,1698.23 1021.1,1693.99 1021.6,1692.42 1022.2,1688.94 1022.7,1687.64 1023.3,1686.20 1023.8,1683.81 1024.4,1682.75 1024.9,1681.33 1025.5,1682.45 1026.0,1682.65 1026.6,1684.82 1027.1,1686.22 1027.7,1689.67 1028.2,1691.87 1028.8,1694.16 1029.3,1696.77 1029.9,1699.21 1030.4,1700.19 1031.0,1701.29 1031.5,1702.69 1032.1,1705.38 1032.6,1705.30 1033.2,1704.90 1033.7,1705.43 1034.3,1707.39 1034.8,1706.61 1035.4,1708.21 1035.9,1708.20 1036.5,1707.04 1037.0,1707.08 1037.6,1706.68 1038.1,1707.93 1038.7,1706.43 1039.2,1707.75 1039.8,1707.20 1040.3,1708.57 1040.9,1707.25 1041.4,1706.97 1042.0,1707.95 1042.5,1706.81 1043.1,1708.02 1043.6,1707.32 1044.2,1707.12 1044.7,1707.32 1045.3,1707.37 1045.8,1706.66 1046.4,1707.98 1046.9,1707.51 1047.5,1707.13 1048.0,1708.50 1048.6,1707.76 1049.1,1708.76 1049.7,1706.33 1050.2,1708.58 1050.8,1707.73 1051.3,1708.83 1051.9,1707.71 1052.4,1707.31 1053.0,1707.21 1053.5,1707.94 1054.1,1706.54 1054.6,1707.39 1055.2,1706.93 1055.7,1709.31 1056.3,1708.01 1056.8,1707.45 1057.4,1705.83 1057.9,1707.54 1058.5,1707.17 1059.0,1707.55 1059.6,1707.60 1060.1,1707.06 1060.7,1706.65 1061.2,1707.36 1061.8,1707.48 1062.3,1707.52 1062.9,1707.54 1063.4,1707.86 1064.0,1706.97 1064.5,1708.18 1065.1,1707.27 1065.6,1707.67 1066.2,1707.22 1066.7,1707.73 1067.3,1708.66 1067.8,1707.88 1068.4,1707.64 1068.9,1707.61 1069.5,1707.11 1070.0,1706.63 1070.6,1706.01 1071.1,1707.56 1071.7,1707.83 1072.2,1707.95 1072.8,1706.10 1073.3,1706.86 1073.9,1707.72 1074.4,1707.11 1075.0,1707.92 1075.5,1708.06 1076.1,1706.49 1076.6,1708.00 1077.2,1707.32 1077.7,1707.02 1078.3,1707.60 1078.8,1706.90 1079.4,1706.19 1079.9,1707.96 1080.5,1707.75 1081.0,1707.73 1081.6,1707.47 1082.1,1706.33 1082.7,1707.32 1083.2,1708.50 1083.8,1707.60 1084.3,1707.34 1084.9,1707.49 1085.4,1707.15 1086.0,1707.36 1086.5,1707.36 1087.1,1706.89 1087.6,1707.24 1088.2,1707.36 1088.7,1707.44 1089.3,1709.19 1089.8,1707.20 1090.4,1706.59 1090.9,1707.40 1091.5,1706.27 1092.0,1708.82 1092.6,1707.13 1093.1,1707.47 1093.7,1707.75 1094.2,1708.29 1094.8,1707.27 1095.3,1707.95 1095.9,1707.58 1096.4,1707.73 1097.0,1708.20 1097.5,1707.33 1098.1,1708.87 1098.6,1707.77 1099.2,1708.52 1099.7,1707.51 1100.3,1707.92 1100.8,1707.40 1101.4,1708.52 1101.9,1707.99 1102.5,1707.55 1103.0,1707.28 1103.6,1709.64 1104.1,1708.45 1104.7,1708.66 1105.2,1709.07 1105.8,1708.59 1106.3,1709.20 1106.9,1708.23 1107.4,1708.54 1108.0,1709.57 1108.5,1707.50 1109.1,1708.47 1109.6,1707.90 1110.2,1709.46 1110.7,1708.12 1111.3,1708.47 1111.8,1708.41 1112.4,1707.71 1112.9,1708.08 1113.5,1707.85 1114.0,1708.98 1114.6,1707.85 1115.1,1709.14 1115.7,1708.58 1116.2,1708.94 1116.8,1709.31 1117.3,1709.02 1117.9,1708.69 1118.4,1707.91 1119.0,1708.26 1119.5,1708.46 1120.1,1708.93 1120.6,1708.40 1121.2,1708.22 1121.7,1709.73 1122.3,1708.73 1122.8,1708.78 1123.4,1707.89 1123.9,1708.01 1124.5,1708.04 1125.0,1707.68 1125.6,1708.36 1126.1,1708.55 1126.7,1707.84 1127.2,1707.99 1127.8,1709.06 1128.3,1707.22 1128.9,1708.24 1129.4,1709.41 1130.0,1708.96 1130.5,1708.84 1131.1,1709.59 1131.6,1709.35 1132.2,1708.90 1132.7,1707.91 1133.3,1707.43 1133.8,1707.75 1134.4,1709.22 1134.9,1707.85 1135.5,1707.96 1136.0,1709.07 1136.6,1708.06 1137.1,1708.54 1137.7,1707.29 1138.2,1707.85 1138.8,1707.81 1139.3,1707.73 1139.9,1707.09 1140.4,1707.63 1141.0,1708.83 1141.5,1708.31 1142.1,1708.77 1142.6,1707.69 1143.2,1709.52 1143.7,1707.76 1144.3,1707.94 1144.8,1708.51 1145.4,1707.87 1145.9,1708.33 1146.5,1709.29 1147.0,1708.58 1147.6,1707.92 1148.1,1709.10 1148.7,1707.82 1149.2,1707.92 1149.8,1708.44 1150.3,1708.48 1150.9,1706.74 1151.4,1708.46 1152.0,1707.83 1152.5,1707.26 1153.1,1707.25 1153.6,1707.28 1154.2,1706.94 1154.7,1708.68 1155.3,1709.01 1155.8,1707.94 1156.4,1708.02 1156.9,1708.04 1157.5,1708.85 1158.0,1708.32 1158.6,1709.27 1159.1,1708.38 1159.7,1709.05 1160.2,1706.93 1160.8,1707.31 1161.3,1708.09 1161.9,1707.82 1162.4,1707.37 1163.0,1707.16 1163.5,1706.86 1164.1,1707.93 1164.6,1707.64 1165.2,1708.44 1165.7,1707.48 1166.3,1707.91 1166.8,1708.26 1167.4,1708.44 1167.9,1707.49 1168.5,1707.83 1169.0,1709.10 1169.6,1706.17 1170.1,1708.03 1170.7,1708.01 1171.2,1707.55 1171.8,1706.44 1172.3,1707.66 1172.9,1707.17 1173.4,1707.29 1174.0,1707.03 1174.5,1706.79 1175.1,1707.53 1175.6,1706.58 1176.2,1708.07 1176.7,1707.55 1177.3,1707.08 1177.8,1707.42 1178.4,1707.92 1178.9,1707.00 1179.5,1707.70 1180.0,1708.74 1180.6,1706.82 1181.1,1706.69 1181.7,1705.46 1182.2,1705.23 1182.8,1703.80 1183.3,1704.32 1183.9,1701.28 1184.4,1700.50 1185.0,1697.59 1185.5,1695.80 1186.1,1692.52 1186.6,1689.72 1187.2,1688.65 1187.7,1685.79 1188.3,1682.80 1188.8,1680.45 1189.4,1679.27 1189.9,1678.00 1190.5,1679.19 1191.0,1681.14 1191.6,1681.29 1192.1,1685.82 1192.7,1686.90 1193.2,1690.58 1193.8,1692.61 1194.3,1694.04 1194.9,1696.30 1195.4,1700.40 1196.0,1702.04 1196.5,1702.01 1197.1,1705.40 1197.6,1704.75 1198.2,1707.51 1198.7,1705.84 1199.3,1707.25 1199.8,1706.89 1200.4,1706.48 1200.9,1707.70 1201.5,1706.67 1202.0,1706.60 1202.6,1707.31 1203.1,1706.35 1203.7,1706.46 1204.2,1707.25 1204.8,1707.72 1205.3,1708.24 1205.9,1708.60 1206.4,1707.58 1207.0,1708.94 1207.5,1707.99 1208.1,1707.65 1208.6,1708.55 1209.2,1708.78 1209.7,1707.84 1210.3,1707.52 1210.8,1708.15 1211.4,1707.83 1211.9,1706.89 1212.5,1707.85 1213.0,1707.84 1213.6,1707.99 1214.1,1708.21 1214.7,1708.84 1215.2,1707.29 1215.8,1708.06 1216.3,1708.53 1216.9,1706.22 1217.4,1708.91 1218.0,1708.14 1218.5,1709.89 1219.1,1708.61 1219.6,1707.37 1220.2,1708.09 1220.7,1707.81 1221.3,1708.35 1221.8,1706.93 1222.4,1708.21 1222.9,1707.81 1223.5,1707.82 1224.0,1708.36 1224.6,1708.13 1225.1,1709.47 1225.7,1708.26 1226.2,1708.57 1226.8,1707.58 1227.3,1707.54 1227.9,1709.15 1228.4,1707.62 1229.0,1707.15 1229.5,1707.13 1230.1,1707.38 1230.6,1707.20 1231.2,1707.43 1231.7,1708.91 1232.3,1707.84 1232.8,1708.39 1233.4,1709.52 1233.9,1707.52 1234.5,1707.55 1235.0,1706.76 1235.6,1708.80 1236.1,1708.24 1236.7,1706.68 1237.2,1708.92 1237.8,1708.71 1238.3,1706.17 1238.9,1707.08 1239.4,1708.54 1240.0,1707.17 1240.5,1707.72 1241.1,1708.35 1241.6,1708.13 1242.2,1707.50 1242.7,1708.40 1243.3,1708.91 1243.8,1707.70 1244.4,1709.84 1244.9,1708.45 1245.5,1708.29 1246.0,1707.08 1246.6,1707.25 1247.1,1707.33 1247.7,1708.62 1248.2,1707.20 1248.8,1708.89 1249.3,1708.65 1249.9,1707.49 1250.4,1707.87 1251.0,1709.06 1251.5,1707.33 1252.1,1706.31 1252.6,1707.43 1253.2,1708.06 1253.7,1708.64 1254.3,1708.32 1254.8,1709.74 1255.4,1708.75 1255.9,1708.22 1256.5,1708.85 1257.0,1708.88 1257.6,1708.13 1258.1,1708.56 1258.7,1708.42 1259.2,1708.11 1259.8,1707.93 1260.3,1707.12 1260.9,1707.80 1261.4,1707.21 1262.0,1708.40 1262.5,1707.94 1263.1,1707.01 1263.6,1707.75 1264.2,1707.61 1264.7,1706.79 1265.3,1707.35 1265.8,1707.91 1266.4,1708.92 1266.9,1707.82 1267.5,1708.22 1268.0,1708.83 1268.6,1708.66 1269.1,1707.96 1269.7,1708.30 1270.2,1707.67 1270.8,1707.55 1271.3,1707.80 1271.9,1707.91 1272.4,1708.51 1273.0,1708.28 1273.5,1708.47 1274.1,1706.60 1274.6,1707.48 1275.2,1707.67 1275.7,1706.85 1276.3,1706.03 1276.8,1708.03 1277.4,1709.24 1277.9,1706.95 1278.5,1707.79 1279.0,1709.02 1279.6,1707.57 1280.1,1707.50 1280.7,1706.82 1281.2,1707.53 1281.8,1708.23 1282.3,1708.31 1282.9,1707.36 1283.4,1708.20 1284.0,1706.54 1284.5,1706.95 1285.1,1707.38 1285.6,1707.20 1286.2,1707.47 1286.7,1706.21 1287.3,1704.37 1287.8,1706.16 1288.4,1706.01 1288.9,1704.02 1289.5,1702.47 1290.0,1701.20 1290.6,1700.50 1291.1,1698.33 1291.7,1698.51 1292.2,1697.44 1292.8,1696.20 1293.3,1697.38 1293.9,1698.00 1294.4,1699.60 1295.0,1699.20 1295.5,1701.36 1296.1,1700.83 1296.6,1701.93 1297.2,1703.39 1297.7,1703.30 1298.3,1704.50 1298.8,1704.16 1299.4,1704.26 1299.9,1704.41 1300.5,1704.92 1301.0,1703.76 1301.6,1702.47 1302.1,1702.68 1302.7,1699.79 1303.2,1698.28 1303.8,1695.44 1304.3,1692.84 1304.9,1688.90 1305.4,1684.87 1306.0,1681.86 1306.5,1678.26 1307.1,1675.02 1307.6,1672.06 1308.2,1669.91 1308.7,1667.74 1309.3,1669.14 1309.8,1670.21 1310.4,1671.51 1310.9,1674.64 1311.5,1677.95 1312.0,1682.57 1312.6,1684.24 1313.1,1688.80 1313.7,1692.84 1314.2,1694.31 1314.8,1697.63 1315.3,1701.51 1315.9,1701.17 1316.4,1703.49 1317.0,1704.03 1317.5,1705.37 1318.1,1705.55 1318.6,1706.66 1319.2,1705.85 1319.7,1708.33 1320.3,1707.60 1320.8,1707.72 1321.4,1707.29 1321.9,1707.83 1322.5,1707.60 1323.0,1708.21 1323.6,1707.62 1324.1,1707.67 1324.7,1708.93 1325.2,1708.76 1325.8,1709.22 1326.3,1708.76 1326.9,1706.93 1327.4,1708.51 1328.0,1708.77 1328.5,1708.41 1329.1,1708.97 1329.6,1708.99 1330.2,1708.49 1330.7,1708.67 1331.3,1708.31 1331.8,1709.30 1332.4,1707.43 1332.9,1707.37 1333.5,1709.05 1334.0,1707.21 1334.6,1708.69 1335.1,1708.45 1335.7,1709.29 1336.2,1707.74 1336.8,1707.72 1337.3,1708.33 1337.9,1708.31 1338.4,1707.85 1339.0,1707.77 1339.5,1708.41 1340.1,1708.95 1340.6,1706.92 1341.2,1709.06 1341.7,1708.76 1342.3,1708.09 1342.8,1707.70 1343.4,1707.94 1343.9,1706.98 1344.5,1708.43 1345.0,1708.37 1345.6,1708.33 1346.1,1708.59 1346.7,1707.49 1347.2,1708.98 1347.8,1708.24 1348.3,1708.41 1348.9,1708.56 1349.4,1708.56 1350.0,1708.90 1350.5,1708.49 1351.1,1708.46 1351.6,1707.70 1352.2,1707.91 1352.7,1707.17 1353.3,1708.35 1353.8,1707.97 1354.4,1708.09 1354.9,1708.55 1355.5,1707.85 1356.0,1709.04 1356.6,1707.23 1357.1,1709.03 1357.7,1708.78 1358.2,1707.75 1358.8,1708.25 1359.3,1708.61 1359.9,1707.53 1360.4,1708.08 1361.0,1708.55 1361.5,1708.19 1362.1,1707.58 1362.6,1706.77 1363.2,1708.24 1363.7,1708.27 1364.3,1708.85 1364.8,1708.27 1365.4,1706.78 1365.9,1706.88 1366.5,1706.53 1367.0,1707.94 1367.6,1707.32 1368.1,1707.52 1368.7,1706.99 1369.2,1706.16 1369.8,1707.42 1370.3,1706.01 1370.9,1705.73 1371.4,1706.39 1372.0,1707.36 1372.5,1708.01 1373.1,1707.32 1373.6,1707.18 1374.2,1707.39 1374.7,1707.62 1375.3,1707.79 1375.8,1706.23 1376.4,1706.22 1376.9,1708.31 1377.5,1705.13 1378.0,1704.00 1378.6,1704.48 1379.1,1703.64 1379.7,1702.29 1380.2,1702.63 1380.8,1700.45 1381.3,1696.98 1381.9,1696.94 1382.4,1692.25 1383.0,1689.82 1383.5,1686.19 1384.1,1683.27 1384.6,1681.69 1385.2,1680.31 1385.7,1678.24 1386.3,1677.18 1386.8,1677.21 1387.4,1679.42 1387.9,1679.26 1388.5,1682.49 1389.0,1684.78 1389.6,1688.21 1390.1,1691.11 1390.7,1693.60 1391.2,1695.91 1391.8,1699.25 1392.3,1702.46 1392.9,1702.77 1393.4,1703.63 1394.0,1704.00 1394.5,1705.53 1395.1,1705.66 1395.6,1706.79 1396.2,1704.97 1396.7,1705.91 1397.3,1703.66 1397.8,1703.95 1398.4,1703.44 1398.9,1701.78 1399.5,1700.14 1400.0,1700.85 1400.6,1700.43 1401.1,1700.71 1401.7,1700.50 1402.2,1701.09 1402.8,1699.51 1403.3,1701.84 1403.9,1701.71 1404.4,1702.73 1405.0,1701.56 1405.5,1704.10 1406.1,1704.58 1406.6,1705.32 1407.2,1707.57 1407.7,1705.89 1408.3,1706.51 1408.8,1707.31 1409.4,1707.62 1409.9,1706.80 1410.5,1706.90 1411.0,1707.81 1411.6,1707.04 1412.1,1708.37 1412.7,1707.61 1413.2,1706.98 1413.8,1708.48 1414.3,1708.37 1414.9,1708.46 1415.4,1708.11 1416.0,1708.42 1416.5,1707.78 1417.1,1706.81 1417.6,1707.78 1418.2,1707.82 1418.7,1707.70 1419.3,1708.20 1419.8,1709.21 1420.4,1708.60 1420.9,1708.36 1421.5,1708.47 1422.0,1707.33 1422.6,1709.42 1423.1,1708.13 1423.7,1708.94 1424.2,1708.77 1424.8,1708.76 1425.3,1709.25 1425.9,1708.02 1426.4,1708.69 1427.0,1707.89 1427.5,1707.98 1428.1,1706.49 1428.6,1708.04 1429.2,1707.90 1429.7,1708.16 1430.3,1707.29 1430.8,1707.11 1431.4,1708.12 1431.9,1707.74 1432.5,1708.23 1433.0,1707.14 1433.6,1706.77 1434.1,1708.17 1434.7,1708.04 1435.2,1707.98 1435.8,1708.10 1436.3,1707.96 1436.9,1707.71 1437.4,1707.16 1438.0,1707.92 1438.5,1707.70 1439.1,1707.50 1439.6,1706.74 1440.2,1707.40 1440.7,1708.09 1441.3,1708.20 1441.8,1706.71 1442.4,1708.37 1442.9,1707.28 1443.5,1708.41 1444.0,1707.58 1444.6,1706.98 1445.1,1708.39 1445.7,1706.66 1446.2,1707.92 1446.8,1707.65 1447.3,1707.99 1447.9,1708.08 1448.4,1707.89 1449.0,1708.50 1449.5,1706.54 1450.1,1708.20 1450.6,1708.56 1451.2,1706.62 1451.7,1706.62 1452.3,1707.20 1452.8,1706.84 1453.4,1708.27 1453.9,1708.00 1454.5,1707.11 1455.0,1707.23 1455.6,1708.76 1456.1,1707.19 1456.7,1707.07 1457.2,1708.93 1457.8,1708.45 1458.3,1707.30 1458.9,1708.01 1459.4,1706.41 1460.0,1708.25 1460.5,1709.35 1461.1,1707.31 1461.6,1708.12 1462.2,1707.56 1462.7,1707.01 1463.3,1707.58 1463.8,1707.33 1464.4,1706.77 1464.9,1707.74 1465.5,1707.96 1466.0,1708.15 1466.6,1708.05 1467.1,1708.03 1467.7,1707.89 1468.2,1707.57 1468.8,1706.85 1469.3,1707.85 1469.9,1707.54 1470.4,1706.87 1471.0,1707.84 1471.5,1708.33 1472.1,1708.95 1472.6,1707.30 1473.2,1708.80 1473.7,1707.45 1474.3,1708.10 1474.8,1708.87 1475.4,1707.98 1475.9,1707.75 1476.5,1707.29 1477.0,1708.78 1477.6,1707.42 1478.1,1708.17 1478.7,1707.99 1479.2,1708.36 1479.8,1709.07 1480.3,1708.46 1480.9,1709.57 1481.4,1709.37 1482.0,1708.04 1482.5,1707.25 1483.1,1707.93 1483.6,1707.90 1484.2,1709.11 1484.7,1708.12 1485.3,1708.55 1485.8,1707.07 1486.4,1708.52 1486.9,1709.26 1487.5,1708.19 1488.0,1707.53 1488.6,1707.99 1489.1,1708.26 1489.7,1708.20 1490.2,1708.17 1490.8,1708.37 1491.3,1707.57 1491.9,1707.97 1492.4,1707.89 1493.0,1707.90 1493.5,1706.85 1494.1,1708.17 1494.6,1708.36 1495.2,1707.19 1495.7,1709.17 1496.3,1707.88 1496.8,1707.96 1497.4,1708.39 1497.9,1708.07 1498.5,1708.70 1499.0,1708.77 1499.6,1706.49 1500.1,1707.99 1500.7,1708.65 1501.2,1708.40 1501.8,1708.58 1502.3,1708.13 1502.9,1707.78 1503.4,1707.13 1504.0,1709.19 1504.5,1708.18 1505.1,1708.08 1505.6,1708.12 1506.2,1707.82 1506.7,1707.94 1507.3,1708.61 1507.8,1708.08 1508.4,1706.85 1508.9,1707.63 1509.5,1707.34 1510.0,1707.58 1510.6,1707.42 1511.1,1708.47 1511.7,1706.57 1512.2,1707.79 1512.8,1707.67 1513.3,1706.83 1513.9,1706.10 1514.4,1707.07 1515.0,1705.91 1515.5,1707.77 1516.1,1707.26 1516.6,1705.05 1517.2,1706.65 1517.7,1706.14 1518.3,1705.70 1518.8,1705.46 1519.4,1706.92 1519.9,1704.87 1520.5,1704.54 1521.0,1705.22 1521.6,1703.61 1522.1,1701.42 1522.7,1703.01 1523.2,1699.36 1523.8,1695.88 1524.3,1695.05 1524.9,1689.28 1525.4,1684.07 1526.0,1677.61 1526.5,1671.51 1527.1,1663.67 1527.6,1655.45 1528.2,1647.94 1528.7,1639.02 1529.3,1631.34 1529.8,1625.32 1530.4,1622.70 1530.9,1620.75 1531.5,1620.97 1532.0,1625.21 1532.6,1630.11 1533.1,1635.94 1533.7,1643.10 1534.2,1651.90 1534.8,1659.69 1535.3,1668.20 1535.9,1675.67 1536.4,1682.17 1537.0,1685.69 1537.5,1691.36 1538.1,1695.64 1538.6,1698.57 1539.2,1700.55 1539.7,1701.75 1540.3,1703.30 1540.8,1704.86 1541.4,1704.58 1541.9,1704.76 1542.5,1706.04 1543.0,1706.40 1543.6,1705.27 1544.1,1705.75 1544.7,1705.34 1545.2,1706.33 1545.8,1706.77 1546.3,1706.42 1546.9,1706.00 1547.4,1706.02 1548.0,1706.81 1548.5,1707.46 1549.1,1707.03 1549.6,1706.99 1550.2,1707.95 1550.7,1706.86 1551.3,1706.87 1551.8,1706.42 1552.4,1708.05 1552.9,1707.85 1553.5,1707.10 1554.0,1707.32 1554.6,1706.37 1555.1,1706.59 1555.7,1707.14 1556.2,1707.38 1556.8,1705.10 1557.3,1707.60 1557.9,1706.81 1558.4,1705.08 1559.0,1705.49 1559.5,1704.22 1560.1,1703.10 1560.6,1701.95 1561.2,1700.44 1561.7,1699.13 1562.3,1697.16 1562.8,1695.48 1563.4,1692.30 1563.9,1689.47 1564.5,1687.82 1565.0,1685.99 1565.6,1684.07 1566.1,1683.79 1566.7,1682.31 1567.2,1681.93 1567.8,1684.26 1568.3,1685.91 1568.9,1687.49 1569.4,1689.87 1570.0,1691.51 1570.5,1694.54 1571.1,1697.08 1571.6,1698.93 1572.2,1699.94 1572.7,1702.54 1573.3,1703.17 1573.8,1705.04 1574.4,1705.74 1574.9,1706.71 1575.5,1706.12 1576.0,1707.20 1576.6,1707.58 1577.1,1707.64 1577.7,1708.42 1578.2,1707.03 1578.8,1708.36 1579.3,1708.55 1579.9,1707.92 1580.4,1707.25 1581.0,1707.91 1581.5,1708.02 1582.1,1708.11 1582.6,1708.76 1583.2,1708.46 1583.7,1707.02 1584.3,1708.74 1584.8,1706.85 1585.4,1707.58 1585.9,1706.89 1586.5,1708.35 1587.0,1707.74 1587.6,1708.83 1588.1,1707.60 1588.7,1708.20 1589.2,1709.15 1589.8,1707.91 1590.3,1708.95 1590.9,1708.35 1591.4,1708.20 1592.0,1707.21 1592.5,1708.14 1593.1,1709.35 1593.6,1708.13 1594.2,1708.48 1594.7,1709.14 1595.3,1707.74 1595.8,1708.24 1596.4,1708.26 1596.9,1707.77 1597.5,1708.57 1598.0,1709.08 1598.6,1708.58 1599.1,1708.18 1599.7,1708.32 1600.2,1707.06 1600.8,1708.49 1601.3,1707.51 1601.9,1708.90 1602.4,1707.64 1603.0,1708.86 1603.5,1707.79 1604.1,1707.83 1604.6,1707.05 1605.2,1708.41 1605.7,1708.39 1606.3,1708.88 1606.8,1707.60 1607.4,1707.05 1607.9,1708.75 1608.5,1706.37 1609.0,1707.41 1609.6,1708.75 1610.1,1708.04 1610.7,1707.22 1611.2,1707.95 1611.8,1709.06 1612.3,1708.02 1612.9,1707.88 1613.4,1708.91 1614.0,1707.73 1614.5,1708.25 1615.1,1709.03 1615.6,1707.01 1616.2,1707.63 1616.7,1708.66 1617.3,1708.09 1617.8,1709.38 1618.4,1708.08 1618.9,1708.22 1619.5,1707.18 1620.0,1707.40 1620.6,1709.19 1621.1,1707.65 1621.7,1708.31 1622.2,1707.94 1622.8,1709.77 1623.3,1707.01 1623.9,1708.52 1624.4,1708.14 1625.0,1707.42 1625.5,1707.93 1626.1,1708.57 1626.6,1710.09 1627.2,1709.08 1627.7,1708.60 1628.3,1708.32 1628.8,1707.19 1629.4,1707.22 1629.9,1708.55 1630.5,1707.13 1631.0,1708.98 1631.6,1708.58 1632.1,1709.20 1632.7,1708.45 1633.2,1707.61 1633.8,1709.06 1634.3,1707.53 1634.9,1708.25 1635.4,1708.10 1636.0,1707.68 1636.5,1708.16 1637.1,1708.32 1637.6,1707.69 1638.2,1709.33 1638.7,1707.96 1639.3,1708.04 1639.8,1708.68 1640.4,1708.12 1640.9,1708.29 1641.5,1708.47 1642.0,1707.16 1642.6,1709.65 1643.1,1707.66 1643.7,1707.19 1644.2,1708.64 1644.8,1708.68 1645.3,1708.55 1645.9,1707.83 1646.4,1707.79 1647.0,1708.47 1647.5,1708.39 1648.1,1709.16 1648.6,1708.44 1649.2,1708.87 1649.7,1708.46 1650.3,1707.27 1650.8,1707.89 1651.4,1709.56 1651.9,1708.74 1652.5,1709.45 1653.0,1708.59 1653.6,1708.59 1654.1,1708.28 1654.7,1709.42 1655.2,1709.75 1655.8,1708.07 1656.3,1708.89 1656.9,1708.20 1657.4,1708.82 1658.0,1707.68 1658.5,1707.73 1659.1,1709.05 1659.6,1708.80 1660.2,1708.57 1660.7,1709.61 1661.3,1708.07 1661.8,1708.45 1662.4,1709.41 1662.9,1708.52 1663.5,1708.11 1664.0,1709.15 1664.6,1708.34 1665.1,1708.17 1665.7,1707.54 1666.2,1707.32 1666.8,1707.20 1667.3,1707.63 1667.9,1708.07 1668.4,1708.50 1669.0,1707.25 1669.5,1708.38 1670.1,1709.16 1670.6,1709.18 1671.2,1707.79 1671.7,1710.03 1672.3,1708.69 1672.8,1708.88 1673.4,1709.32 1673.9,1707.40 1674.5,1707.79 1675.0,1708.08 1675.6,1708.29 1676.1,1707.26 1676.7,1708.63 1677.2,1707.58 1677.8,1708.19 1678.3,1708.42 1678.9,1707.48 1679.4,1708.90 1680.0,1707.33 1680.5,1706.45 1681.1,1708.70 1681.6,1707.86 1682.2,1706.79 1682.7,1707.69 1683.3,1708.18 1683.8,1707.84 1684.4,1708.42 1684.9,1707.31 1685.5,1707.97 1686.0,1707.64 1686.6,1707.70 1687.1,1708.19 1687.7,1708.71 1688.2,1707.81 1688.8,1707.69 1689.3,1708.47 1689.9,1708.14 1690.4,1706.41 1691.0,1707.87 1691.5,1707.61 1692.1,1707.27 1692.6,1707.52 1693.2,1707.48 1693.7,1709.31 1694.3,1707.57 1694.8,1707.69 1695.4,1706.62 1695.9,1707.80 1696.5,1708.51 1697.0,1707.53 1697.6,1708.33 1698.1,1708.17 1698.7,1707.96 1699.2,1709.96 1699.8,1707.45 1700.3,1708.21 1700.9,1707.11 1701.4,1708.66 1702.0,1707.55 1702.5,1707.61 1703.1,1708.52 1703.6,1707.53 1704.2,1708.59 1704.7,1706.70 1705.3,1708.55 1705.8,1707.43 1706.4,1706.52 1706.9,1708.68 1707.5,1709.15 1708.0,1708.24 1708.6,1709.12 1709.1,1708.56 1709.7,1707.41 1710.2,1709.08 1710.8,1707.86 1711.3,1708.70 1711.9,1708.20 1712.4,1707.38 1713.0,1707.66 1713.5,1707.13 1714.1,1708.26 1714.6,1706.96 1715.2,1709.27 1715.7,1707.97 1716.3,1706.78 1716.8,1708.01 1717.4,1707.08" fill="none" stroke="#000000" stroke-width="13.0" stroke-linejoin="round" stroke-linecap="butt" />
</g>
<g id="lbl">
<rect x="165" y="1137.5" width="105.0" height="44" fill="#fff"/>
<rect x="165" y="1146.6" width="19.0" height="16.6" fill="#ff0000"/>
<rect x="165" y="1460.0" width="112.5" height="44" fill="#fff"/>
<rect x="165" y="1470.4" width="22.4" height="16.6" fill="#4a9af4"/>
<rect x="165" y="1771.5" width="108.4" height="44" fill="#fff"/>
<rect x="165" y="1781.7" width="22.3" height="16.6" fill="#000000"/>
</g>
<rect x="720" y="827.1" width="130" height="1016.1" rx="19" ry="19" fill="#dae7f0" fill-opacity="0.463"/>
<g id="dots" fill="#94b2d8">
<rect x="744.1" y="821.1" width="12" height="12"/>
<rect x="750.1" y="1837.3" width="11.9" height="11.9"/>
<rect x="767.4" y="821.1" width="12" height="12"/>
<rect x="773.3" y="1837.3" width="11.9" height="11.9"/>
<rect x="790.6" y="821.1" width="12" height="12"/>
<rect x="796.6" y="1837.3" width="11.9" height="11.9"/>
<rect x="813.9" y="821.1" width="12" height="12"/>
<rect x="819.8" y="1837.3" width="11.9" height="11.9"/>
<rect x="714" y="846.8" width="11.9" height="11.9"/>
<rect x="844.1" y="845.2" width="11.9" height="11.9"/>
<rect x="714" y="869.7" width="11.9" height="11.9"/>
<rect x="844.1" y="868.2" width="11.9" height="11.9"/>
<rect x="714" y="892.6" width="11.9" height="11.9"/>
<rect x="844.1" y="891.1" width="11.9" height="11.9"/>
<rect x="714" y="915.6" width="11.9" height="11.9"/>
<rect x="844.1" y="914.1" width="11.9" height="11.9"/>
<rect x="714" y="938.5" width="11.9" height="11.9"/>
<rect x="844.1" y="937.0" width="11.9" height="11.9"/>
<rect x="714" y="961.4" width="11.9" height="11.9"/>
<rect x="844.1" y="960.0" width="11.9" height="11.9"/>
<rect x="714" y="984.3" width="11.9" height="11.9"/>
<rect x="844.1" y="982.9" width="11.9" height="11.9"/>
<rect x="714" y="1007.2" width="11.9" height="11.9"/>
<rect x="844.1" y="1005.9" width="11.9" height="11.9"/>
<rect x="714" y="1030.1" width="11.9" height="11.9"/>
<rect x="844.1" y="1028.8" width="11.9" height="11.9"/>
<rect x="714" y="1053.1" width="11.9" height="11.9"/>
<rect x="844.1" y="1051.8" width="11.9" height="11.9"/>
<rect x="714" y="1076.0" width="11.9" height="11.9"/>
<rect x="844.1" y="1074.7" width="11.9" height="11.9"/>
<rect x="714" y="1098.9" width="11.9" height="11.9"/>
<rect x="844.1" y="1097.7" width="11.9" height="11.9"/>
<rect x="714" y="1121.8" width="11.9" height="11.9"/>
<rect x="844.1" y="1120.6" width="11.9" height="11.9"/>
<rect x="714" y="1144.7" width="11.9" height="11.9"/>
<rect x="844.1" y="1143.5" width="11.9" height="11.9"/>
<rect x="714" y="1167.6" width="11.9" height="11.9"/>
<rect x="844.1" y="1166.5" width="11.9" height="11.9"/>
<rect x="714" y="1190.6" width="11.9" height="11.9"/>
<rect x="844.1" y="1189.5" width="11.9" height="11.9"/>
<rect x="714" y="1213.5" width="11.9" height="11.9"/>
<rect x="844.1" y="1212.4" width="11.9" height="11.9"/>
<rect x="714" y="1236.4" width="11.9" height="11.9"/>
<rect x="844.1" y="1235.3" width="11.9" height="11.9"/>
<rect x="714" y="1259.3" width="11.9" height="11.9"/>
<rect x="844.1" y="1258.3" width="11.9" height="11.9"/>
<rect x="714" y="1282.2" width="11.9" height="11.9"/>
<rect x="844.1" y="1281.2" width="11.9" height="11.9"/>
<rect x="714" y="1305.1" width="11.9" height="11.9"/>
<rect x="844.1" y="1304.2" width="11.9" height="11.9"/>
<rect x="714" y="1328.1" width="11.9" height="11.9"/>
<rect x="844.1" y="1327.2" width="11.9" height="11.9"/>
<rect x="714" y="1351.0" width="11.9" height="11.9"/>
<rect x="844.1" y="1350.1" width="11.9" height="11.9"/>
<rect x="714" y="1373.9" width="11.9" height="11.9"/>
<rect x="844.1" y="1373.1" width="11.9" height="11.9"/>
<rect x="714" y="1396.8" width="11.9" height="11.9"/>
<rect x="844.1" y="1396.0" width="11.9" height="11.9"/>
<rect x="714" y="1419.7" width="11.9" height="11.9"/>
<rect x="844.1" y="1419.0" width="11.9" height="11.9"/>
<rect x="714" y="1442.6" width="11.9" height="11.9"/>
<rect x="844.1" y="1441.9" width="11.9" height="11.9"/>
<rect x="714" y="1465.6" width="11.9" height="11.9"/>
<rect x="844.1" y="1464.8" width="11.9" height="11.9"/>
<rect x="714" y="1488.5" width="11.9" height="11.9"/>
<rect x="844.1" y="1487.8" width="11.9" height="11.9"/>
<rect x="714" y="1511.4" width="11.9" height="11.9"/>
<rect x="844.1" y="1510.8" width="11.9" height="11.9"/>
<rect x="714" y="1534.3" width="11.9" height="11.9"/>
<rect x="844.1" y="1533.7" width="11.9" height="11.9"/>
<rect x="714" y="1557.2" width="11.9" height="11.9"/>
<rect x="844.1" y="1556.7" width="11.9" height="11.9"/>
<rect x="714" y="1580.1" width="11.9" height="11.9"/>
<rect x="844.1" y="1579.6" width="11.9" height="11.9"/>
<rect x="714" y="1603.1" width="11.9" height="11.9"/>
<rect x="844.1" y="1602.6" width="11.9" height="11.9"/>
<rect x="714" y="1626.0" width="11.9" height="11.9"/>
<rect x="844.1" y="1625.5" width="11.9" height="11.9"/>
<rect x="714" y="1648.9" width="11.9" height="11.9"/>
<rect x="844.1" y="1648.5" width="11.9" height="11.9"/>
<rect x="714" y="1671.8" width="11.9" height="11.9"/>
<rect x="844.1" y="1671.4" width="11.9" height="11.9"/>
<rect x="714" y="1694.7" width="11.9" height="11.9"/>
<rect x="844.1" y="1694.3" width="11.9" height="11.9"/>
<rect x="714" y="1717.6" width="11.9" height="11.9"/>
<rect x="844.1" y="1717.3" width="11.9" height="11.9"/>
<rect x="714" y="1740.6" width="11.9" height="11.9"/>
<rect x="844.1" y="1740.2" width="11.9" height="11.9"/>
<rect x="714" y="1763.5" width="11.9" height="11.9"/>
<rect x="844.1" y="1763.2" width="11.9" height="11.9"/>
<rect x="714" y="1786.4" width="11.9" height="11.9"/>
<rect x="844.1" y="1786.2" width="11.9" height="11.9"/>
<rect x="714" y="1809.3" width="11.9" height="16"/>
<rect x="844.1" y="1809.1" width="11.9" height="11.9"/>
<rect x="-5.5" y="-5.5" width="11.0" height="11.0" transform="translate(727.9,832) rotate(45)"/>
<rect x="-5.5" y="-5.5" width="11.0" height="11.0" transform="translate(841.2,831.2) rotate(45)"/>
<rect x="-5.5" y="-5.5" width="11.0" height="11.0" transform="translate(845.5,1835.5) rotate(45)"/>
<rect x="-5.5" y="-5.5" width="11.0" height="11.0" transform="translate(732.8,1841.3) rotate(45)"/>
<rect x="-4.25" y="-4.25" width="8.5" height="8.5" transform="translate(720.6,1828.5) rotate(25)"/>
</g>
<path d="M161.2,1864.5 L161.2,48.7 L1717,48.7 L1717,1864.5" fill="none" stroke="#000" stroke-width="13.8" stroke-linejoin="round"/>
<line x1="154.3" y1="48.7" x2="1723.9" y2="48.7" stroke="#000" stroke-width="15.2" stroke-linecap="round" opacity="0"/>
<rect x="160" y="41.1" width="1558" height="15.4" fill="#000"/>
<rect x="154.3" y="1856.9" width="1569.6" height="15.8" fill="#000"/>
<line x1="161.4" y1="1866" x2="161.4" y2="1906" stroke="#000" stroke-width="13.6" stroke-linecap="round"/>
<line x1="420.7" y1="1866" x2="420.7" y2="1906" stroke="#000" stroke-width="13.6" stroke-linecap="round"/>
<line x1="679.9" y1="1866" x2="679.9" y2="1906" stroke="#000" stroke-width="13.6" stroke-linecap="round"/>
<line x1="939.2" y1="1866" x2="939.2" y2="1906" stroke="#000" stroke-width="13.6" stroke-linecap="round"/>
<line x1="1198.5" y1="1866" x2="1198.5" y2="1906" stroke="#000" stroke-width="13.6" stroke-linecap="round"/>
<line x1="1457.7" y1="1866" x2="1457.7" y2="1906" stroke="#000" stroke-width="13.6" stroke-linecap="round"/>
<line x1="1717.0" y1="1866" x2="1717.0" y2="1906" stroke="#000" stroke-width="13.6" stroke-linecap="round"/>
<text transform="translate(162.00,1983.40)" font-family="Liberation Sans, Arial, sans-serif" font-weight="bold" font-size="67.6" text-anchor="middle" >10</text>
<text transform="translate(421.27,1983.40)" font-family="Liberation Sans, Arial, sans-serif" font-weight="bold" font-size="67.6" text-anchor="middle" >20</text>
<text transform="translate(680.53,1983.40)" font-family="Liberation Sans, Arial, sans-serif" font-weight="bold" font-size="67.6" text-anchor="middle" >30</text>
<text transform="translate(939.80,1983.40)" font-family="Liberation Sans, Arial, sans-serif" font-weight="bold" font-size="67.6" text-anchor="middle" >40</text>
<text transform="translate(1199.07,1983.40)" font-family="Liberation Sans, Arial, sans-serif" font-weight="bold" font-size="67.6" text-anchor="middle" >50</text>
<text transform="translate(1458.33,1983.40)" font-family="Liberation Sans, Arial, sans-serif" font-weight="bold" font-size="67.6" text-anchor="middle" >60</text>
<text transform="translate(1717.60,1983.40)" font-family="Liberation Sans, Arial, sans-serif" font-weight="bold" font-size="67.6" text-anchor="middle" >70</text>
<text transform="translate(944.40,2065.70) scale(0.9900,1)" font-family="Liberation Sans, Arial, sans-serif" font-weight="bold" font-size="89.3" text-anchor="middle" >2<tspan font-family="Liberation Serif, serif" font-weight="normal" font-size="88">θ</tspan> (Degree)</text>
<text transform="translate(114.90,975.60) rotate(-90) scale(0.9900,1)" font-family="Liberation Sans, Arial, sans-serif" font-weight="bold" font-size="98.3" text-anchor="middle" >Intensity (a.u.)</text>
<text transform="translate(259.90,207.20) scale(1.0310,1)" font-family="Liberation Sans, Arial, sans-serif" font-weight="bold" font-size="156.2" text-anchor="middle" >A</text>
<text transform="translate(1005.00,345.20) scale(0.9280,1)" font-family="Liberation Sans, Arial, sans-serif" font-weight="bold" font-size="133.7" text-anchor="middle" >B</text>
<text transform="translate(226.30,1171.80)" font-family="Liberation Sans, Arial, sans-serif" font-weight="bold" font-size="67" text-anchor="middle" >(a)</text>
<text transform="translate(231.60,1499.10)" font-family="Liberation Sans, Arial, sans-serif" font-weight="bold" font-size="67" text-anchor="middle" >(b)</text>
<text transform="translate(230.40,1808.30)" font-family="Liberation Sans, Arial, sans-serif" font-weight="bold" font-size="67" text-anchor="middle" >(c)</text>
<text transform="translate(390.00,1066.50) rotate(-90) scale(0.9850,1)" font-family="Liberation Sans, Arial, sans-serif" font-size="51.5" text-anchor="middle" >(111)</text>
<text transform="translate(695.30,1037.10) rotate(-90) scale(0.9850,1)" font-family="Liberation Sans, Arial, sans-serif" font-size="51.5" text-anchor="middle" >(220)</text>
<text transform="translate(876.50,1047.10) rotate(-90) scale(0.9850,1)" font-family="Liberation Sans, Arial, sans-serif" font-size="51.5" text-anchor="middle" >(222)</text>
<text transform="translate(1039.50,1032.60) rotate(-90) scale(0.9850,1)" font-family="Liberation Sans, Arial, sans-serif" font-size="51.5" text-anchor="middle" >(400)</text>
<text transform="translate(1308.50,1055.30) rotate(-90) scale(0.9850,1)" font-family="Liberation Sans, Arial, sans-serif" font-size="51.5" text-anchor="middle" >(422)</text>
<text transform="translate(1399.50,1026.55) rotate(-90) scale(0.9850,1)" font-family="Liberation Sans, Arial, sans-serif" font-size="51.5" text-anchor="middle" >(511)</text>
<text transform="translate(1541.40,951.10) rotate(-90) scale(0.9850,1)" font-family="Liberation Sans, Arial, sans-serif" font-size="51.5" text-anchor="middle" >(440)</text>
<text transform="translate(1121.90,130.45) rotate(-90) scale(0.9850,1)" font-family="Liberation Sans, Arial, sans-serif" font-size="51.5" text-anchor="middle" >(104)</text>
<text transform="translate(1351.50,132.40) rotate(-90) scale(0.9850,1)" font-family="Liberation Sans, Arial, sans-serif" font-size="51.5" text-anchor="middle" >(311)</text>
<g id="inset">
<polyline points="959.0,464.8 960.5,464.7 962.0,464.3 963.5,464.0 965.0,463.7 966.5,463.9 968.0,463.8 969.5,463.4 971.0,463.3 972.5,464.1 974.0,463.7 975.5,463.2 977.0,463.3 978.5,463.7 980.0,463.5 981.5,463.4 983.0,462.8 984.5,462.9 986.0,462.9 987.5,462.2 989.0,462.6 990.5,462.2 992.0,462.8 993.5,461.8 995.0,462.4 996.5,462.5 998.0,461.7 999.5,462.3 1001.0,462.2 1002.5,461.2 1004.0,461.8 1005.5,461.0 1007.0,461.4 1008.5,461.2 1010.0,460.9 1011.5,460.9 1013.0,461.3 1014.5,460.7 1016.0,460.5 1017.5,460.9 1019.0,460.5 1020.5,460.5 1022.0,459.7 1023.5,459.5 1025.0,459.7 1026.5,459.1 1028.0,458.9 1029.5,458.3 1031.0,457.8 1032.5,458.5 1034.0,457.3 1035.5,457.8 1037.0,457.1 1038.5,457.4 1040.0,456.6 1041.5,456.8 1043.0,456.2 1044.5,455.6 1046.0,455.8 1047.5,455.5 1049.0,455.2 1050.5,454.4 1052.0,453.6 1053.5,453.4 1055.0,452.3 1056.5,452.3 1058.0,451.6 1059.5,450.8 1061.0,450.6 1062.5,449.4 1064.0,449.1 1065.5,449.0 1067.0,448.2 1068.5,448.2 1070.0,447.8 1071.5,447.7 1073.0,447.4 1074.5,447.0 1076.0,447.5 1077.5,447.2 1079.0,448.1 1080.5,448.6 1082.0,448.5 1083.5,449.0 1085.0,449.3 1086.5,450.1 1088.0,449.8 1089.5,450.3 1091.0,450.0 1092.5,450.6 1094.0,450.9 1095.5,451.3 1097.0,451.4 1098.5,451.0 1100.0,451.8 1101.5,451.1 1103.0,451.9 1104.5,451.3 1106.0,451.7 1107.5,451.5 1109.0,452.4 1110.5,452.4 1112.0,451.8 1113.5,452.3 1115.0,452.1 1116.5,452.4 1118.0,452.5 1119.5,452.1 1121.0,453.0 1122.5,452.8 1124.0,453.3 1125.5,453.3 1127.0,453.6 1128.5,454.2 1130.0,454.7 1131.5,455.7 1133.0,456.0 1134.5,456.0 1136.0,456.3 1137.5,456.9 1139.0,457.5 1140.5,457.3 1142.0,458.0 1143.5,457.8 1145.0,458.3 1146.5,458.6 1148.0,458.7 1149.5,459.1 1151.0,459.3 1152.5,458.9 1154.0,459.2 1155.5,459.5 1157.0,459.8 1158.5,460.0 1160.0,460.1 1161.5,460.5 1163.0,461.2 1164.5,461.7 1166.0,461.2 1167.5,461.4 1169.0,461.5 1170.5,461.9 1172.0,462.1 1173.5,462.3 1175.0,461.8 1176.5,462.3 1178.0,462.0 1179.5,462.6 1181.0,462.1 1182.5,462.8 1184.0,462.6 1185.5,462.9 1187.0,462.8 1188.5,462.7 1190.0,462.9 1191.5,462.5 1193.0,462.6 1194.5,463.2 1196.0,463.2 1197.5,463.6 1199.0,462.8 1200.5,463.4 1202.0,463.4 1203.5,463.6 1205.0,463.8 1206.5,463.7 1208.0,463.8 1209.5,463.8" fill="none" stroke="#ff0000" stroke-width="5.5" stroke-linejoin="round" stroke-linecap="butt" />
<polyline points="1217.5,463.0 1219.0,462.4 1220.5,462.4 1222.0,462.2 1223.5,461.4 1225.0,461.9 1226.5,461.4 1228.0,461.3 1229.5,460.3 1231.0,460.2 1232.5,459.7 1234.0,459.2 1235.5,458.9 1237.0,458.6 1238.5,458.5 1240.0,457.1 1241.5,456.9 1243.0,455.8 1244.5,454.9 1246.0,454.4 1247.5,454.2 1249.0,453.3 1250.5,452.6 1252.0,451.7 1253.5,449.4 1255.0,447.6 1256.5,446.0 1258.0,443.2 1259.5,441.6 1261.0,439.1 1262.5,437.0 1264.0,435.0 1265.5,432.3 1267.0,430.5 1268.5,427.3 1270.0,424.5 1271.5,421.7 1273.0,419.2 1274.5,416.7 1276.0,414.3 1277.5,411.9 1279.0,409.8 1280.5,407.2 1282.0,404.0 1283.5,401.9 1285.0,399.7 1286.5,396.3 1288.0,394.6 1289.5,391.7 1291.0,389.8 1292.5,388.8 1294.0,388.6 1295.5,387.9 1297.0,386.9 1298.5,387.0 1300.0,386.5 1301.5,385.7 1303.0,385.2 1304.5,385.5 1306.0,384.7 1307.5,384.9 1309.0,384.2 1310.5,383.8 1312.0,383.5 1313.5,383.0 1315.0,382.9 1316.5,382.6 1318.0,382.1 1319.5,382.9 1321.0,383.8 1322.5,384.5 1324.0,385.7 1325.5,387.6 1327.0,388.2 1328.5,391.5 1330.0,395.1 1331.5,397.3 1333.0,400.6 1334.5,404.0 1336.0,404.1 1337.5,405.0 1339.0,406.8 1340.5,407.4 1342.0,407.9 1343.5,409.7 1345.0,411.2 1346.5,413.6 1348.0,415.4 1349.5,416.3 1351.0,418.5 1352.5,420.4 1354.0,423.0 1355.5,425.8 1357.0,428.3 1358.5,430.2 1360.0,432.8 1361.5,435.3 1363.0,437.7 1364.5,440.2 1366.0,442.0 1367.5,443.2 1369.0,445.0 1370.5,446.3 1372.0,448.3 1373.5,450.5 1375.0,451.7 1376.5,453.4 1378.0,454.2 1379.5,454.8 1381.0,455.8 1382.5,455.9 1384.0,456.6 1385.5,457.8 1387.0,458.1 1388.5,459.2 1390.0,459.1 1391.5,460.4 1393.0,460.5 1394.5,460.7 1396.0,461.2 1397.5,460.7 1399.0,461.2 1400.5,461.2 1402.0,461.4 1403.5,462.1 1405.0,461.9 1406.5,462.4 1408.0,461.8 1409.5,462.9 1411.0,462.9 1412.5,462.7 1414.0,462.2 1415.5,462.8 1417.0,462.3 1418.5,462.6 1420.0,462.3 1421.5,462.4 1423.0,462.5 1424.5,462.6 1426.0,463.3 1427.5,462.8 1429.0,463.4 1430.5,462.7 1432.0,462.8 1433.5,462.9 1435.0,463.8 1436.5,463.7 1438.0,463.0 1439.5,464.0 1441.0,463.3 1442.5,463.4 1444.0,463.8 1445.5,463.4 1447.0,464.3 1448.5,463.7 1450.0,464.0 1451.5,464.0 1453.0,463.8 1454.5,464.3 1456.0,464.6 1457.5,464.2 1459.0,463.8 1460.5,464.6 1462.0,464.5 1463.5,464.3 1465.0,464.6 1466.5,464.2 1468.0,464.3" fill="none" stroke="#ff0000" stroke-width="5.5" stroke-linejoin="round" stroke-linecap="butt" />
<polyline points="959.0,612.8 960.5,612.5 962.0,612.3 963.5,612.2 965.0,612.6 966.5,612.1 968.0,611.9 969.5,611.4 971.0,611.6 972.5,610.9 974.0,610.6 975.5,611.2 977.0,610.2 978.5,611.0 980.0,610.7 981.5,610.5 983.0,609.6 984.5,609.6 986.0,610.0 987.5,609.4 989.0,609.5 990.5,608.8 992.0,608.7 993.5,608.8 995.0,608.9 996.5,608.5 998.0,607.9 999.5,608.5 1001.0,607.6 1002.5,607.7 1004.0,607.7 1005.5,607.3 1007.0,607.2 1008.5,607.5 1010.0,606.9 1011.5,606.8 1013.0,607.0 1014.5,606.2 1016.0,606.6 1017.5,605.9 1019.0,605.4 1020.5,605.4 1022.0,604.0 1023.5,604.1 1025.0,603.5 1026.5,603.0 1028.0,601.5 1029.5,601.1 1031.0,601.0 1032.5,600.1 1034.0,599.0 1035.5,599.1 1037.0,598.6 1038.5,598.2 1040.0,596.6 1041.5,595.2 1043.0,594.3 1044.5,592.0 1046.0,590.6 1047.5,589.3 1049.0,587.7 1050.5,587.1 1052.0,586.7 1053.5,585.7 1055.0,585.0 1056.5,584.2 1058.0,583.0 1059.5,582.5 1061.0,582.3 1062.5,581.5 1064.0,580.6 1065.5,579.2 1067.0,578.1 1068.5,576.4 1070.0,574.6 1071.5,573.3 1073.0,571.5 1074.5,570.4 1076.0,568.6 1077.5,567.8 1079.0,567.3 1080.5,567.0 1082.0,566.4 1083.5,567.2 1085.0,569.3 1086.5,570.9 1088.0,573.9 1089.5,576.6 1091.0,579.6 1092.5,580.0 1094.0,579.7 1095.5,580.5 1097.0,580.5 1098.5,579.8 1100.0,582.4 1101.5,584.7 1103.0,587.5 1104.5,591.1 1106.0,593.2 1107.5,593.3 1109.0,594.8 1110.5,595.0 1112.0,595.6 1113.5,596.4 1115.0,597.1 1116.5,598.8 1118.0,599.4 1119.5,600.9 1121.0,601.7 1122.5,602.4 1124.0,604.0 1125.5,605.4 1127.0,605.7 1128.5,606.0 1130.0,604.7 1131.5,604.6 1133.0,603.8 1134.5,605.1 1136.0,605.4 1137.5,606.5 1139.0,607.1 1140.5,607.6 1142.0,608.1 1143.5,609.5 1145.0,610.3 1146.5,610.7 1148.0,611.0 1149.5,610.5 1151.0,610.9 1152.5,611.5 1154.0,611.2 1155.5,612.0 1157.0,612.6 1158.5,612.3 1160.0,612.8 1161.5,612.6 1163.0,613.4 1164.5,613.8 1166.0,613.7 1167.5,613.3 1169.0,613.2 1170.5,613.0 1172.0,613.7 1173.5,613.8 1175.0,613.5 1176.5,613.7 1178.0,613.1 1179.5,613.7 1181.0,613.1 1182.5,613.6 1184.0,612.9 1185.5,613.3 1187.0,613.1 1188.5,612.9 1190.0,613.1 1191.5,613.5 1193.0,612.6 1194.5,612.2 1196.0,612.5 1197.5,612.4 1199.0,611.8 1200.5,612.6 1202.0,612.6 1203.5,612.7 1205.0,613.3 1206.5,613.4 1208.0,613.5" fill="none" stroke="#4a9af4" stroke-width="5.5" stroke-linejoin="round" stroke-linecap="butt" />
<polyline points="1219.0,611.0 1220.5,610.8 1222.0,610.4 1223.5,610.2 1225.0,609.8 1226.5,608.5 1228.0,608.5 1229.5,608.5 1231.0,607.5 1232.5,607.4 1234.0,606.4 1235.5,606.6 1237.0,605.2 1238.5,604.5 1240.0,603.6 1241.5,602.7 1243.0,602.3 1244.5,601.7 1246.0,600.1 1247.5,599.3 1249.0,598.7 1250.5,597.7 1252.0,596.8 1253.5,592.5 1255.0,589.2 1256.5,585.4 1258.0,581.2 1259.5,573.6 1261.0,565.6 1262.5,557.3 1264.0,553.4 1265.5,550.1 1267.0,546.8 1268.5,543.2 1270.0,539.4 1271.5,535.9 1273.0,532.6 1274.5,530.2 1276.0,527.1 1277.5,524.4 1279.0,520.8 1280.5,518.6 1282.0,516.2 1283.5,514.6 1285.0,512.8 1286.5,511.3 1288.0,509.0 1289.5,507.4 1291.0,506.0 1292.5,504.1 1294.0,501.7 1295.5,499.6 1297.0,500.9 1298.5,502.0 1300.0,502.8 1301.5,503.8 1303.0,501.8 1304.5,500.0 1306.0,498.0 1307.5,496.0 1309.0,494.5 1310.5,492.9 1312.0,490.6 1313.5,489.3 1315.0,489.5 1316.5,492.5 1318.0,496.0 1319.5,498.8 1321.0,501.9 1322.5,505.1 1324.0,508.5 1325.5,512.0 1327.0,515.5 1328.5,519.3 1330.0,522.7 1331.5,526.3 1333.0,529.3 1334.5,533.1 1336.0,536.7 1337.5,540.0 1339.0,543.1 1340.5,546.1 1342.0,550.0 1343.5,552.1 1345.0,553.2 1346.5,555.7 1348.0,557.5 1349.5,558.5 1351.0,560.3 1352.5,563.8 1354.0,567.3 1355.5,570.6 1357.0,574.9 1358.5,578.8 1360.0,582.4 1361.5,585.0 1363.0,587.3 1364.5,590.0 1366.0,592.4 1367.5,595.0 1369.0,597.0 1370.5,599.1 1372.0,600.2 1373.5,600.7 1375.0,601.4 1376.5,602.3 1378.0,603.5 1379.5,604.9 1381.0,605.5 1382.5,606.0 1384.0,607.4 1385.5,607.8 1387.0,607.6 1388.5,608.8 1390.0,608.7 1391.5,609.1 1393.0,610.0 1394.5,610.8 1396.0,610.9 1397.5,611.5 1399.0,612.2 1400.5,611.2 1402.0,611.5 1403.5,611.0 1405.0,610.5 1406.5,611.0 1408.0,610.8 1409.5,610.9 1411.0,611.1 1412.5,611.3 1414.0,611.9 1415.5,611.5 1417.0,611.8 1418.5,612.1 1420.0,612.4 1421.5,612.9 1423.0,612.7 1424.5,613.0 1426.0,612.8 1427.5,613.1 1429.0,613.0 1430.5,612.3 1432.0,612.4 1433.5,613.0 1435.0,613.2 1436.5,613.1 1438.0,612.4 1439.5,612.9 1441.0,612.4 1442.5,612.6 1444.0,613.2 1445.5,612.9 1447.0,613.1 1448.5,612.9 1450.0,613.2 1451.5,612.6 1453.0,612.8 1454.5,613.2 1456.0,613.1 1457.5,612.4 1459.0,612.5 1460.5,612.7 1462.0,612.9 1463.5,612.6 1465.0,613.1 1466.5,613.1 1468.0,612.7" fill="none" stroke="#4a9af4" stroke-width="5.5" stroke-linejoin="round" stroke-linecap="butt" />
<polyline points="959.0,745.7 960.5,746.0 962.0,745.9 963.5,745.3 965.0,745.4 966.5,746.0 968.0,745.1 969.5,745.9 971.0,745.9 972.5,745.6 974.0,745.4 975.5,745.4 977.0,745.4 978.5,745.5 980.0,745.6 981.5,745.7 983.0,746.1 984.5,745.9 986.0,745.7 987.5,746.1 989.0,745.3 990.5,745.3 992.0,745.7 993.5,745.1 995.0,745.1 996.5,745.6 998.0,745.6 999.5,746.0 1001.0,745.7 1002.5,745.6 1004.0,745.6 1005.5,745.3 1007.0,745.1 1008.5,745.3 1010.0,745.8 1011.5,745.2 1013.0,745.3 1014.5,744.9 1016.0,745.6 1017.5,744.9 1019.0,744.9 1020.5,745.4 1022.0,745.0 1023.5,745.2 1025.0,745.0 1026.5,745.0 1028.0,743.9 1029.5,743.4 1031.0,742.5 1032.5,742.0 1034.0,741.1 1035.5,742.1 1037.0,742.2 1038.5,743.3 1040.0,743.7 1041.5,742.4 1043.0,741.9 1044.5,740.4 1046.0,739.9 1047.5,738.4 1049.0,737.3 1050.5,736.2 1052.0,735.1 1053.5,733.8 1055.0,733.3 1056.5,732.3 1058.0,731.8 1059.5,730.7 1061.0,730.8 1062.5,729.3 1064.0,729.0 1065.5,727.1 1067.0,725.4 1068.5,723.0 1070.0,720.2 1071.5,718.2 1073.0,714.5 1074.5,710.7 1076.0,706.6 1077.5,702.9 1079.0,701.9 1080.5,701.5 1082.0,700.0 1083.5,698.5 1085.0,698.1 1086.5,696.7 1088.0,695.5 1089.5,694.2 1091.0,693.6 1092.5,692.9 1094.0,692.1 1095.5,692.4 1097.0,691.4 1098.5,690.9 1100.0,690.1 1101.5,690.0 1103.0,688.6 1104.5,688.2 1106.0,687.1 1107.5,686.4 1109.0,686.5 1110.5,685.5 1112.0,685.2 1113.5,686.6 1115.0,688.3 1116.5,689.2 1118.0,690.6 1119.5,691.2 1121.0,691.4 1122.5,692.1 1124.0,692.8 1125.5,693.5 1127.0,693.2 1128.5,693.5 1130.0,691.9 1131.5,692.0 1133.0,691.5 1134.5,690.2 1136.0,691.9 1137.5,694.5 1139.0,695.9 1140.5,699.1 1142.0,702.1 1143.5,704.7 1145.0,707.7 1146.5,710.0 1148.0,712.9 1149.5,715.8 1151.0,718.5 1152.5,721.1 1154.0,723.5 1155.5,724.8 1157.0,726.3 1158.5,728.0 1160.0,730.4 1161.5,731.6 1163.0,733.0 1164.5,733.5 1166.0,734.4 1167.5,735.7 1169.0,736.4 1170.5,737.2 1172.0,737.2 1173.5,737.8 1175.0,737.4 1176.5,738.1 1178.0,737.3 1179.5,738.4 1181.0,739.4 1182.5,740.8 1184.0,741.0 1185.5,742.5 1187.0,743.3 1188.5,744.3 1190.0,744.9 1191.5,745.3 1193.0,744.7 1194.5,744.8 1196.0,744.7 1197.5,744.6 1199.0,744.8 1200.5,745.6 1202.0,745.6 1203.5,744.9 1205.0,745.5 1206.5,745.4 1208.0,745.6 1209.5,745.8" fill="none" stroke="#000000" stroke-width="5.5" stroke-linejoin="round" stroke-linecap="butt" />
<polyline points="1217.5,745.4 1219.0,745.9 1220.5,745.3 1222.0,745.3 1223.5,745.2 1225.0,744.6 1226.5,744.4 1228.0,744.6 1229.5,744.8 1231.0,744.8 1232.5,744.5 1234.0,743.8 1235.5,744.5 1237.0,744.1 1238.5,743.9 1240.0,743.3 1241.5,743.4 1243.0,742.2 1244.5,741.9 1246.0,741.6 1247.5,741.6 1249.0,741.3 1250.5,740.9 1252.0,741.0 1253.5,740.0 1255.0,740.1 1256.5,739.2 1258.0,739.3 1259.5,738.2 1261.0,738.0 1262.5,738.2 1264.0,737.4 1265.5,737.2 1267.0,736.6 1268.5,735.7 1270.0,734.4 1271.5,733.8 1273.0,732.3 1274.5,732.2 1276.0,731.4 1277.5,730.4 1279.0,728.6 1280.5,727.4 1282.0,725.1 1283.5,722.7 1285.0,720.9 1286.5,717.5 1288.0,710.1 1289.5,703.7 1291.0,697.3 1292.5,694.5 1294.0,693.0 1295.5,691.0 1297.0,688.1 1298.5,686.4 1300.0,684.3 1301.5,682.1 1303.0,678.7 1304.5,676.3 1306.0,673.3 1307.5,670.5 1309.0,667.5 1310.5,664.0 1312.0,661.4 1313.5,658.6 1315.0,656.0 1316.5,653.0 1318.0,650.6 1319.5,649.0 1321.0,646.3 1322.5,644.4 1324.0,642.5 1325.5,639.7 1327.0,637.6 1328.5,636.8 1330.0,636.0 1331.5,634.4 1333.0,633.7 1334.5,632.4 1336.0,632.0 1337.5,632.6 1339.0,632.6 1340.5,633.1 1342.0,633.8 1343.5,633.9 1345.0,636.7 1346.5,640.1 1348.0,641.4 1349.5,641.3 1351.0,642.2 1352.5,642.4 1354.0,642.4 1355.5,643.5 1357.0,646.4 1358.5,648.0 1360.0,650.3 1361.5,652.5 1363.0,654.7 1364.5,657.8 1366.0,659.4 1367.5,661.5 1369.0,663.2 1370.5,664.3 1372.0,665.1 1373.5,666.6 1375.0,668.3 1376.5,669.0 1378.0,672.2 1379.5,674.6 1381.0,678.3 1382.5,681.4 1384.0,684.4 1385.5,687.3 1387.0,690.0 1388.5,692.8 1390.0,696.7 1391.5,700.7 1393.0,703.9 1394.5,707.7 1396.0,711.7 1397.5,715.7 1399.0,719.6 1400.5,722.5 1402.0,725.6 1403.5,727.7 1405.0,729.0 1406.5,730.6 1408.0,732.3 1409.5,733.8 1411.0,735.1 1412.5,735.9 1414.0,736.5 1415.5,737.6 1417.0,738.0 1418.5,739.5 1420.0,740.4 1421.5,741.3 1423.0,741.9 1424.5,742.7 1426.0,743.7 1427.5,743.6 1429.0,744.4 1430.5,744.2 1432.0,744.1 1433.5,744.3 1435.0,744.5 1436.5,744.3 1438.0,744.8 1439.5,744.9 1441.0,744.4 1442.5,744.2 1444.0,744.9 1445.5,745.4 1447.0,745.5 1448.5,746.8 1450.0,746.9 1451.5,747.0 1453.0,746.2 1454.5,746.2 1456.0,747.1 1457.5,746.2 1459.0,746.3 1460.5,746.7 1462.0,746.5 1463.5,746.9 1465.0,746.3 1466.5,747.0 1468.0,746.3" fill="none" stroke="#000000" stroke-width="5.5" stroke-linejoin="round" stroke-linecap="butt" />
<rect x="966" y="440" width="50" height="44" fill="#fff"/>
<rect x="966" y="590" width="50" height="44" fill="#fff"/>
<rect x="966" y="725" width="44" height="44" fill="#fff"/>
<rect x="956.9" y="243.2" width="514.5" height="535.4" fill="none" stroke="#000" stroke-width="6.3"/>
<line x1="1210.0" y1="255.0" x2="1218.3" y2="231.39999999999998" stroke="#fff" stroke-width="8"/>
<line x1="1205.4" y1="255.0" x2="1213.8" y2="231.39999999999998" stroke="#000" stroke-width="6.0"/>
<line x1="1214.8" y1="255.0" x2="1223.1" y2="231.39999999999998" stroke="#000" stroke-width="6.0"/>
<line x1="1210.0" y1="790.8" x2="1218.3" y2="767.2" stroke="#fff" stroke-width="8"/>
<line x1="1205.4" y1="790.8" x2="1213.8" y2="767.2" stroke="#000" stroke-width="6.0"/>
<line x1="1214.8" y1="790.8" x2="1223.1" y2="767.2" stroke="#000" stroke-width="6.0"/>
<line x1="1012.3" y1="778.6" x2="1012.3" y2="790.6" stroke="#000" stroke-width="5.4"/>
<line x1="1153.2" y1="778.6" x2="1153.2" y2="790.6" stroke="#000" stroke-width="5.4"/>
<line x1="1287.1" y1="778.6" x2="1287.1" y2="790.6" stroke="#000" stroke-width="5.4"/>
<line x1="1401.4" y1="778.6" x2="1401.4" y2="790.6" stroke="#000" stroke-width="5.4"/>
<text transform="translate(1011.70,827.40) scale(0.9550,1)" font-family="Liberation Sans, Arial, sans-serif" font-weight="bold" font-size="43.3" text-anchor="middle" stroke="#fff" stroke-width="0.4">33.0</text>
<text transform="translate(1153.50,827.40) scale(0.9550,1)" font-family="Liberation Sans, Arial, sans-serif" font-weight="bold" font-size="43.3" text-anchor="middle" stroke="#fff" stroke-width="0.4">33.5</text>
<text transform="translate(1287.10,827.40) scale(0.9550,1)" font-family="Liberation Sans, Arial, sans-serif" font-weight="bold" font-size="43.3" text-anchor="middle" stroke="#fff" stroke-width="0.4">35.5</text>
<text transform="translate(1401.50,827.40) scale(0.9550,1)" font-family="Liberation Sans, Arial, sans-serif" font-weight="bold" font-size="43.3" text-anchor="middle" stroke="#fff" stroke-width="0.4">36.0</text>
<text transform="translate(1192.50,878.00) scale(0.9850,1)" font-family="Liberation Sans, Arial, sans-serif" font-weight="bold" font-size="43.2" text-anchor="middle" stroke="#fff" stroke-width="0.4">2θ (Degree)</text>
<text transform="translate(923.40,548.30) rotate(-90)" font-family="Liberation Sans, Arial, sans-serif" font-weight="bold" font-size="35" text-anchor="middle" >Intensity ( arb. unit)</text>
<text transform="translate(991.00,475.20) scale(0.9500,1)" font-family="Liberation Sans, Arial, sans-serif" font-size="40" text-anchor="middle" stroke="#000" stroke-width="1.5" stroke-linejoin="round">(a)</text>
<text transform="translate(990.00,623.50) scale(0.9500,1)" font-family="Liberation Sans, Arial, sans-serif" font-size="40" text-anchor="middle" stroke="#000" stroke-width="1.5" stroke-linejoin="round">(b)</text>
<text transform="translate(988.50,759.30) scale(0.9500,1)" font-family="Liberation Sans, Arial, sans-serif" font-size="40" text-anchor="middle" stroke="#000" stroke-width="1.5" stroke-linejoin="round">(c)</text>
<rect x="1102.3" y="191.3" width="11.8" height="11.4" fill="#a6a6a6"/>
<rect x="1102.3" y="212.9" width="11.8" height="11.4" fill="#a6a6a6"/>
<rect x="1102.3" y="234.5" width="11.8" height="11.4" fill="#a6a6a6"/>
<rect x="1102.3" y="256.2" width="11.8" height="11.4" fill="#a6a6a6"/>
<rect x="1102.3" y="277.8" width="11.8" height="11.4" fill="#a6a6a6"/>
<rect x="1102.3" y="299.4" width="11.8" height="11.4" fill="#a6a6a6"/>
<rect x="1102.3" y="321.0" width="11.8" height="11.4" fill="#a6a6a6"/>
<rect x="1102.3" y="342.6" width="11.8" height="11.4" fill="#a6a6a6"/>
<rect x="1102.3" y="364.3" width="11.8" height="11.4" fill="#a6a6a6"/>
<rect x="1102.3" y="385.9" width="11.8" height="11.4" fill="#a6a6a6"/>
<rect x="1102.3" y="407.5" width="11.8" height="11.4" fill="#a6a6a6"/>
<rect x="1102.3" y="429.1" width="11.8" height="11.4" fill="#a6a6a6"/>
<rect x="1102.3" y="450.8" width="11.8" height="11.4" fill="#a6a6a6"/>
<rect x="1102.3" y="472.4" width="11.8" height="11.4" fill="#a6a6a6"/>
<rect x="1102.3" y="494.0" width="11.8" height="11.4" fill="#a6a6a6"/>
<rect x="1102.3" y="515.6" width="11.8" height="11.4" fill="#a6a6a6"/>
<rect x="1102.3" y="537.2" width="11.8" height="11.4" fill="#a6a6a6"/>
<rect x="1102.3" y="558.9" width="11.8" height="11.4" fill="#a6a6a6"/>
<rect x="1102.3" y="580.5" width="11.8" height="11.4" fill="#a6a6a6"/>
<rect x="1102.3" y="602.1" width="11.8" height="11.4" fill="#a6a6a6"/>
<rect x="1102.3" y="623.7" width="11.8" height="11.4" fill="#a6a6a6"/>
<rect x="1102.3" y="645.3" width="11.8" height="11.4" fill="#a6a6a6"/>
<rect x="1102.3" y="667.0" width="11.8" height="11.4" fill="#a6a6a6"/>
<rect x="1102.3" y="688.6" width="11.8" height="11.4" fill="#a6a6a6"/>
<rect x="1102.3" y="710.2" width="11.8" height="11.4" fill="#a6a6a6"/>
<rect x="1329.5" y="195.0" width="11.8" height="11.4" fill="#a6a6a6"/>
<rect x="1329.5" y="216.7" width="11.8" height="11.4" fill="#a6a6a6"/>
<rect x="1329.5" y="238.5" width="11.8" height="11.4" fill="#a6a6a6"/>
<rect x="1329.5" y="260.2" width="11.8" height="11.4" fill="#a6a6a6"/>
<rect x="1329.5" y="281.9" width="11.8" height="11.4" fill="#a6a6a6"/>
<rect x="1329.5" y="303.7" width="11.8" height="11.4" fill="#a6a6a6"/>
<rect x="1329.5" y="325.4" width="11.8" height="11.4" fill="#a6a6a6"/>
<rect x="1329.5" y="347.1" width="11.8" height="11.4" fill="#a6a6a6"/>
<rect x="1329.5" y="368.9" width="11.8" height="11.4" fill="#a6a6a6"/>
<rect x="1329.5" y="390.6" width="11.8" height="11.4" fill="#a6a6a6"/>
<rect x="1329.5" y="412.3" width="11.8" height="11.4" fill="#a6a6a6"/>
<rect x="1329.5" y="434.1" width="11.8" height="11.4" fill="#a6a6a6"/>
<rect x="1329.5" y="455.8" width="11.8" height="11.4" fill="#a6a6a6"/>
<rect x="1329.5" y="477.5" width="11.8" height="11.4" fill="#a6a6a6"/>
<rect x="1329.5" y="499.3" width="11.8" height="11.4" fill="#a6a6a6"/>
<rect x="1329.5" y="521.0" width="11.8" height="11.4" fill="#a6a6a6"/>
<rect x="1329.5" y="542.7" width="11.8" height="11.4" fill="#a6a6a6"/>
<rect x="1329.5" y="564.5" width="11.8" height="11.4" fill="#a6a6a6"/>
<rect x="1329.5" y="586.2" width="11.8" height="11.4" fill="#a6a6a6"/>
<rect x="1329.5" y="607.9" width="11.8" height="11.4" fill="#a6a6a6"/>
<rect x="1329.5" y="629.7" width="11.8" height="11.4" fill="#a6a6a6"/>
<rect x="1329.5" y="651.4" width="11.8" height="11.4" fill="#a6a6a6"/>
<rect x="1329.5" y="673.1" width="11.8" height="11.4" fill="#a6a6a6"/>
<rect x="1329.5" y="694.9" width="11.8" height="11.4" fill="#a6a6a6"/>
<rect x="1329.5" y="716.6" width="11.8" height="11.4" fill="#a6a6a6"/>
</g>
<polyline points="953,653.5 862.2,832.2 970,777.2" fill="none" stroke="#c0504d" stroke-width="7" stroke-linejoin="round"/>
</svg>
</body>
</html>
